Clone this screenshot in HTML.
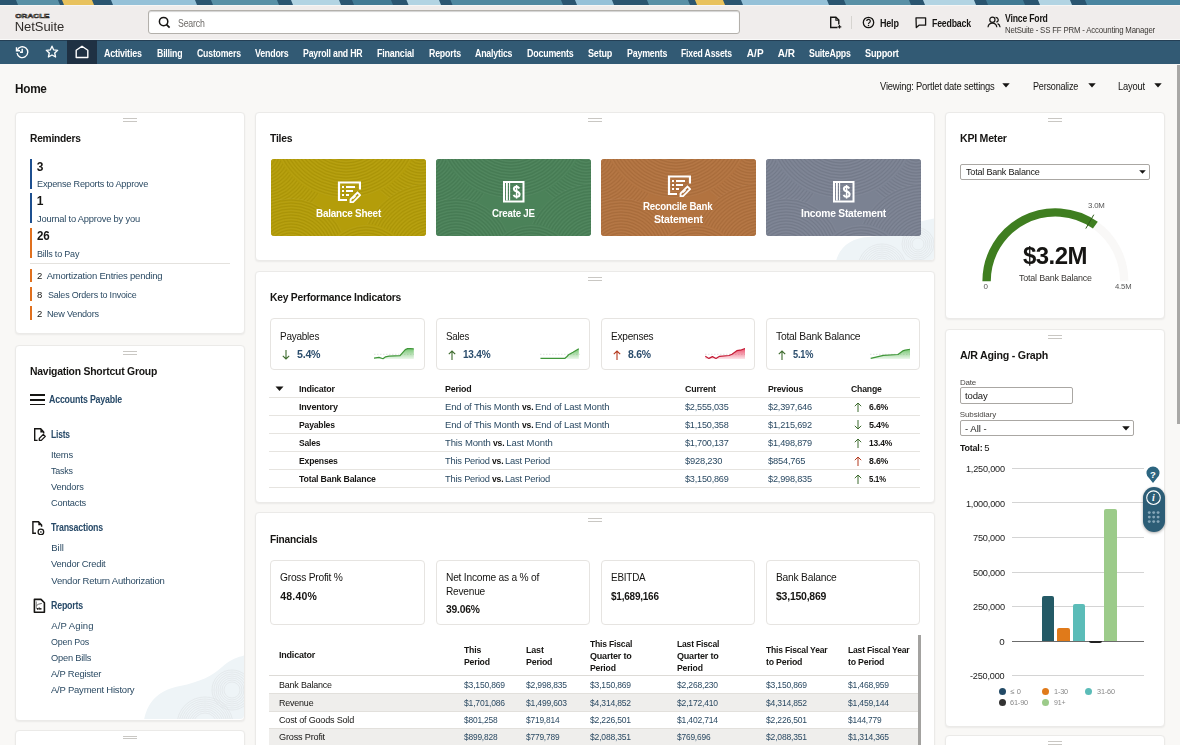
<!DOCTYPE html>
<html><head><meta charset="utf-8"><title>NetSuite Home</title>
<style>html,body{margin:0;padding:0;} body{width:1180px;height:745px;overflow:hidden;position:relative;background:#f9f8f6;font-family:"Liberation Sans",sans-serif;}</style>
</head><body>
<svg style="position:absolute;left:0;top:0" width="1180" height="5"><polygon points="-2,0 19,0 21,5 0,5" fill="#2a5570"/><polygon points="16,0 61,0 63,5 18,5" fill="#5990a6"/><polygon points="58,0 65,0 67,5 60,5" fill="#2a5570"/><polygon points="62,0 95,0 97,5 64,5" fill="#e8c25e"/><polygon points="92,0 114,0 116,5 94,5" fill="#2a5570"/><polygon points="111,0 198,0 200,5 113,5" fill="#95c1d8"/><polygon points="195,0 214,0 216,5 197,5" fill="#2a5570"/><polygon points="211,0 280,0 282,5 213,5" fill="#5990a6"/><polygon points="277,0 294,0 296,5 279,5" fill="#2a5570"/><polygon points="291,0 342,0 344,5 293,5" fill="#b2d4e3"/><polygon points="339,0 355,0 357,5 341,5" fill="#2a5570"/><polygon points="352,0 394,0 396,5 354,5" fill="#417a94"/><polygon points="391,0 409.5,0 411.5,5 393,5" fill="#2a5570"/><polygon points="406.5,0 442,0 444,5 408.5,5" fill="#b2d4e3"/><polygon points="439,0 453.5,0 455.5,5 441,5" fill="#2a5570"/><polygon points="450.5,0 564,0 566,5 452.5,5" fill="#4f88a0"/><polygon points="561,0 578,0 580,5 563,5" fill="#2a5570"/><polygon points="575,0 615,0 617,5 577,5" fill="#95c1d8"/><polygon points="612,0 650,0 652,5 614,5" fill="#2a5570"/><polygon points="647,0 691,0 693,5 649,5" fill="#5990a6"/><polygon points="688,0 698,0 700,5 690,5" fill="#2a5570"/><polygon points="695,0 726,0 728,5 697,5" fill="#e8c25e"/><polygon points="723,0 744,0 746,5 725,5" fill="#2a5570"/><polygon points="741,0 830,0 832,5 743,5" fill="#95c1d8"/><polygon points="827,0 847,0 849,5 829,5" fill="#2a5570"/><polygon points="844,0 912,0 914,5 846,5" fill="#5990a6"/><polygon points="909,0 926,0 928,5 911,5" fill="#2a5570"/><polygon points="923,0 977,0 979,5 925,5" fill="#b2d4e3"/><polygon points="974,0 989,0 991,5 976,5" fill="#2a5570"/><polygon points="986,0 1026,0 1028,5 988,5" fill="#417a94"/><polygon points="1023,0 1041,0 1043,5 1025,5" fill="#2a5570"/><polygon points="1038,0 1073,0 1075,5 1040,5" fill="#b2d4e3"/><polygon points="1070,0 1088,0 1090,5 1072,5" fill="#2a5570"/><polygon points="1085,0 1181,0 1183,5 1087,5" fill="#4a85a0"/></svg><div style="position:absolute;left:0px;top:5px;width:1180px;height:35px;background:#f0edec"></div><div style="position:absolute;left:0px;top:5px;width:1180px;height:1px;background:#f7f6f5"></div><div style="position:absolute;left:0px;top:39px;width:1180px;height:1px;background:#f9f9f8"></div><svg style="position:absolute;left:14.6px;top:12px" width="36" height="7"><text x="0.3" y="5.6" font-family="Liberation Sans" font-weight="700" font-size="5.6" textLength="34.2" lengthAdjust="spacingAndGlyphs" fill="none" stroke="#312d2a" stroke-width="0.55">ORACLE</text></svg><div style="position:absolute;left:148px;top:10px;width:592px;height:24px;background:#fff;border:1px solid #b3b0ab;box-sizing:border-box;border-radius:3px;box-shadow:inset 0 1px 1px rgba(0,0,0,0.18)"></div><svg style="position:absolute;left:158px;top:16px" width="13" height="13" viewBox="0 0 13 13"><circle cx="5.6" cy="5.6" r="4.2" fill="none" stroke="#161513" stroke-width="1.5"/><line x1="8.6" y1="8.6" x2="11.6" y2="11.6" stroke="#161513" stroke-width="1.7"/></svg><svg style="position:absolute;left:829px;top:16px" width="13" height="13" viewBox="0 0 13 13"><path d="M8.5 11.5H1.7V1.2h5.2l2.9 2.9v4.3" fill="none" stroke="#161513" stroke-width="1.4"/><path d="M6.9 1.2v3h2.9" fill="none" stroke="#161513" stroke-width="1.1"/><path d="M10.5 9v3.6M8.7 10.8h3.6" stroke="#161513" stroke-width="1.2"/></svg><div style="position:absolute;left:851px;top:16px;width:1px;height:13px;background:#d6d4d0"></div><svg style="position:absolute;left:862px;top:16px" width="13" height="13" viewBox="0 0 13 13"><circle cx="6.5" cy="6.5" r="5.2" fill="none" stroke="#161513" stroke-width="1.3"/><path d="M4.7 5.1a1.8 1.8 0 1 1 2.6 1.6c-.6.3-.8.6-.8 1.2" fill="none" stroke="#161513" stroke-width="1.2"/><circle cx="6.5" cy="9.5" r=".75" fill="#161513"/></svg><svg style="position:absolute;left:914px;top:16px" width="13" height="13" viewBox="0 0 13 13"><path d="M2 1.8h9.6v7.4H5L2.3 11.6z" fill="none" stroke="#161513" stroke-width="1.3" stroke-linejoin="round"/></svg><svg style="position:absolute;left:987px;top:15px" width="14" height="14" viewBox="0 0 14 14"><circle cx="5.4" cy="4.8" r="2.6" fill="none" stroke="#161513" stroke-width="1.2"/><path d="M1 12.2c.3-2.6 2.1-4.1 4.4-4.1s4.1 1.5 4.4 4.1" fill="none" stroke="#161513" stroke-width="1.2"/><path d="M8.6 2.3a2.5 2.5 0 0 1 .8 4.9M10.6 8.6c1.4.6 2.3 1.8 2.5 3.6" fill="none" stroke="#161513" stroke-width="1.2"/></svg><div style="position:absolute;left:0px;top:40px;width:1180px;height:24px;background:#325a74"></div><div style="position:absolute;left:0px;top:40px;width:1180px;height:1px;background:#243f55"></div><div style="position:absolute;left:67px;top:40px;width:30px;height:24px;background:#1f3143"></div><svg style="position:absolute;left:15px;top:45px" width="14" height="14" viewBox="0 0 14 14"><path d="M2.3 5.2A5.4 5.4 0 1 1 2 8" fill="none" stroke="#fff" stroke-width="1.4"/><path d="M1.5 2.2v3.5h3.5" fill="none" stroke="#fff" stroke-width="1.4"/><path d="M7.2 3.8v3.4H5" fill="none" stroke="#fff" stroke-width="1.4"/></svg><svg style="position:absolute;left:45px;top:45px" width="14" height="14" viewBox="0 0 14 14"><path d="M7 1.2l1.7 3.7 4 .4-3 2.7.9 4L7 10 3.4 12l.9-4-3-2.7 4-.4z" fill="none" stroke="#fff" stroke-width="1.3" stroke-linejoin="round"/></svg><svg style="position:absolute;left:75px;top:45px" width="14" height="14" viewBox="0 0 14 14"><path d="M1.2 12.5V5.3L7 1.2l5.8 4.1v7.2z" fill="none" stroke="#fff" stroke-width="1.4" stroke-linejoin="round"/></svg><div style="position:absolute;left:0px;top:64px;width:1180px;height:681px;background:#f9f8f6"></div><svg style="position:absolute;left:1002.4px;top:83px" width="8" height="5"><path d="M0.3 0.3h7.4L4 4.6z" fill="#161513"/></svg><svg style="position:absolute;left:1087.5px;top:83px" width="8" height="5"><path d="M0.3 0.3h7.4L4 4.6z" fill="#161513"/></svg><svg style="position:absolute;left:1153.7px;top:83px" width="8" height="5"><path d="M0.3 0.3h7.4L4 4.6z" fill="#161513"/></svg><div style="position:absolute;left:1177px;top:65px;width:3px;height:359px;background:#a9a8a6"></div><div style="position:absolute;left:15px;top:112px;width:230px;height:222px;background:#fff;border:1px solid #ebeae8;box-sizing:border-box;border-radius:4px;box-shadow:0 1px 2px rgba(0,0,0,0.06)"></div><div style="position:absolute;left:123.0px;top:118px;width:14px;height:1px;background:#c9c7c3"></div><div style="position:absolute;left:123.0px;top:120.5px;width:14px;height:1px;background:#c9c7c3"></div><div style="position:absolute;left:15px;top:345px;width:230px;height:375.5px;background:#fff;border:1px solid #ebeae8;box-sizing:border-box;border-radius:4px;box-shadow:0 1px 2px rgba(0,0,0,0.06)"></div><div style="position:absolute;left:123.0px;top:351px;width:14px;height:1px;background:#c9c7c3"></div><div style="position:absolute;left:123.0px;top:353.5px;width:14px;height:1px;background:#c9c7c3"></div><div style="position:absolute;left:15px;top:729.5px;width:230px;height:40px;background:#fff;border:1px solid #ebeae8;box-sizing:border-box;border-radius:4px;box-shadow:0 1px 2px rgba(0,0,0,0.06)"></div><div style="position:absolute;left:123.0px;top:735.5px;width:14px;height:1px;background:#c9c7c3"></div><div style="position:absolute;left:123.0px;top:738.0px;width:14px;height:1px;background:#c9c7c3"></div><div style="position:absolute;left:255px;top:112px;width:680px;height:149px;background:#fff;border:1px solid #ebeae8;box-sizing:border-box;border-radius:4px;box-shadow:0 1px 2px rgba(0,0,0,0.06)"></div><div style="position:absolute;left:588.0px;top:118px;width:14px;height:1px;background:#c9c7c3"></div><div style="position:absolute;left:588.0px;top:120.5px;width:14px;height:1px;background:#c9c7c3"></div><div style="position:absolute;left:255px;top:271px;width:680px;height:232px;background:#fff;border:1px solid #ebeae8;box-sizing:border-box;border-radius:4px;box-shadow:0 1px 2px rgba(0,0,0,0.06)"></div><div style="position:absolute;left:588.0px;top:277px;width:14px;height:1px;background:#c9c7c3"></div><div style="position:absolute;left:588.0px;top:279.5px;width:14px;height:1px;background:#c9c7c3"></div><div style="position:absolute;left:255px;top:512px;width:680px;height:260px;background:#fff;border:1px solid #ebeae8;box-sizing:border-box;border-radius:4px;box-shadow:0 1px 2px rgba(0,0,0,0.06)"></div><div style="position:absolute;left:588.0px;top:518px;width:14px;height:1px;background:#c9c7c3"></div><div style="position:absolute;left:588.0px;top:520.5px;width:14px;height:1px;background:#c9c7c3"></div><div style="position:absolute;left:945px;top:112px;width:220px;height:207px;background:#fff;border:1px solid #ebeae8;box-sizing:border-box;border-radius:4px;box-shadow:0 1px 2px rgba(0,0,0,0.06)"></div><div style="position:absolute;left:1048.0px;top:118px;width:14px;height:1px;background:#c9c7c3"></div><div style="position:absolute;left:1048.0px;top:120.5px;width:14px;height:1px;background:#c9c7c3"></div><div style="position:absolute;left:945px;top:329px;width:220px;height:398px;background:#fff;border:1px solid #ebeae8;box-sizing:border-box;border-radius:4px;box-shadow:0 1px 2px rgba(0,0,0,0.06)"></div><div style="position:absolute;left:1048.0px;top:335px;width:14px;height:1px;background:#c9c7c3"></div><div style="position:absolute;left:1048.0px;top:337.5px;width:14px;height:1px;background:#c9c7c3"></div><div style="position:absolute;left:945px;top:735px;width:220px;height:40px;background:#fff;border:1px solid #ebeae8;box-sizing:border-box;border-radius:4px;box-shadow:0 1px 2px rgba(0,0,0,0.06)"></div><div style="position:absolute;left:1048.0px;top:741px;width:14px;height:1px;background:#c9c7c3"></div><div style="position:absolute;left:1048.0px;top:743.5px;width:14px;height:1px;background:#c9c7c3"></div><svg style="position:absolute;left:0;top:0" width="1180" height="745"><defs><clipPath id="dca"><rect x="16" y="346" width="228" height="373" rx="4"/></clipPath><clipPath id="dha"><path d="M144 720 C148 700 160 690 180 686 S212 676 222 667 S240 657 246 655 V720 z"/></clipPath></defs><g clip-path="url(#dca)"><path d="M144 720 C148 700 160 690 180 686 S212 676 222 667 S240 657 246 655 V720 z" fill="#eef4f7"/><g clip-path="url(#dha)"><circle cx="205" cy="725" r="12" fill="none" stroke="#dfe4e6" stroke-width="0.7"/><circle cx="205" cy="725" r="14" fill="none" stroke="#dfe4e6" stroke-width="0.7"/><circle cx="205" cy="725" r="16" fill="none" stroke="#dfe4e6" stroke-width="0.7"/><circle cx="205" cy="725" r="18" fill="none" stroke="#dfe4e6" stroke-width="0.7"/><circle cx="205" cy="725" r="20" fill="none" stroke="#dfe4e6" stroke-width="0.7"/><circle cx="205" cy="725" r="22" fill="none" stroke="#dfe4e6" stroke-width="0.7"/><circle cx="205" cy="725" r="24" fill="none" stroke="#dfe4e6" stroke-width="0.7"/><circle cx="205" cy="725" r="26" fill="none" stroke="#dfe4e6" stroke-width="0.7"/><circle cx="205" cy="725" r="28" fill="none" stroke="#dfe4e6" stroke-width="0.7"/><circle cx="232" cy="690" r="8" fill="none" stroke="#dfe4e6" stroke-width="0.7"/><circle cx="232" cy="690" r="10" fill="none" stroke="#dfe4e6" stroke-width="0.7"/><circle cx="232" cy="690" r="12" fill="none" stroke="#dfe4e6" stroke-width="0.7"/><circle cx="232" cy="690" r="14" fill="none" stroke="#dfe4e6" stroke-width="0.7"/><circle cx="232" cy="690" r="16" fill="none" stroke="#dfe4e6" stroke-width="0.7"/><circle cx="232" cy="690" r="18" fill="none" stroke="#dfe4e6" stroke-width="0.7"/><circle cx="232" cy="690" r="20" fill="none" stroke="#dfe4e6" stroke-width="0.7"/></g></g></svg><svg style="position:absolute;left:0;top:0" width="1180" height="745"><defs><clipPath id="dcb"><rect x="256" y="113" width="678" height="147" rx="4"/></clipPath><clipPath id="dhb"><path d="M836 261 C840 246 852 238 868 237 S898 232 910 226 S930 220 936 218 V261 z"/></clipPath></defs><g clip-path="url(#dcb)"><path d="M836 261 C840 246 852 238 868 237 S898 232 910 226 S930 220 936 218 V261 z" fill="#eef4f7"/><g clip-path="url(#dhb)"><circle cx="882" cy="268" r="10" fill="none" stroke="#dfe4e6" stroke-width="0.7"/><circle cx="882" cy="268" r="12" fill="none" stroke="#dfe4e6" stroke-width="0.7"/><circle cx="882" cy="268" r="14" fill="none" stroke="#dfe4e6" stroke-width="0.7"/><circle cx="882" cy="268" r="16" fill="none" stroke="#dfe4e6" stroke-width="0.7"/><circle cx="882" cy="268" r="18" fill="none" stroke="#dfe4e6" stroke-width="0.7"/><circle cx="882" cy="268" r="20" fill="none" stroke="#dfe4e6" stroke-width="0.7"/><circle cx="882" cy="268" r="22" fill="none" stroke="#dfe4e6" stroke-width="0.7"/><circle cx="882" cy="268" r="24" fill="none" stroke="#dfe4e6" stroke-width="0.7"/><circle cx="918" cy="244" r="6" fill="none" stroke="#dfe4e6" stroke-width="0.7"/><circle cx="918" cy="244" r="8" fill="none" stroke="#dfe4e6" stroke-width="0.7"/><circle cx="918" cy="244" r="10" fill="none" stroke="#dfe4e6" stroke-width="0.7"/><circle cx="918" cy="244" r="12" fill="none" stroke="#dfe4e6" stroke-width="0.7"/><circle cx="918" cy="244" r="14" fill="none" stroke="#dfe4e6" stroke-width="0.7"/><circle cx="918" cy="244" r="16" fill="none" stroke="#dfe4e6" stroke-width="0.7"/></g></g></svg><div style="position:absolute;left:30px;top:159px;width:2.2px;height:30px;background:#1d4f8f"></div><div style="position:absolute;left:30px;top:193px;width:2.2px;height:30px;background:#1d4f8f"></div><div style="position:absolute;left:30px;top:228px;width:2.2px;height:30px;background:#e0701e"></div><div style="position:absolute;left:30px;top:263px;width:200px;height:1px;background:#e4e2de"></div><div style="position:absolute;left:30px;top:268.5px;width:2.2px;height:13.5px;background:#e0701e"></div><div style="position:absolute;left:30px;top:287px;width:2.2px;height:13.5px;background:#e0701e"></div><div style="position:absolute;left:30px;top:306px;width:2.2px;height:13.5px;background:#e0701e"></div><div style="position:absolute;left:30px;top:394.3px;width:15px;height:1.6px;background:#161513"></div><div style="position:absolute;left:30px;top:399px;width:15px;height:1.6px;background:#161513"></div><div style="position:absolute;left:30px;top:403.5px;width:15px;height:1.6px;background:#161513"></div><svg style="position:absolute;left:33px;top:427px" width="14" height="15" viewBox="0 0 14 15"><path d="M4.6 13.4H1.7V1.8h6l3 3.3v1.4" fill="none" stroke="#161513" stroke-width="1.4"/><path d="M7.4 1.8v3.6h3.3z" fill="#161513"/><path d="M6.3 13.4v-2l4-4 2 2-4 4z" fill="none" stroke="#161513" stroke-width="1.3" stroke-linejoin="round"/></svg><svg style="position:absolute;left:31px;top:520px" width="14" height="15" viewBox="0 0 14 15"><path d="M5 13.3H1.9V1.8h5.6l3.1 3.2v1.8" fill="none" stroke="#161513" stroke-width="1.4"/><path d="M7.3 1.8v3.5h3.3z" fill="#161513"/><circle cx="9.9" cy="11.9" r="2.8" fill="#fff" stroke="#161513" stroke-width="1.3"/><circle cx="9.9" cy="11.9" r="0.9" fill="#555"/></svg><svg style="position:absolute;left:33px;top:598px" width="14" height="16" viewBox="0 0 14 16"><path d="M1.4 1.4h6.6l3.4 3.4v9.5H1.4z" fill="none" stroke="#161513" stroke-width="1.6" stroke-linejoin="round"/><path d="M3.3 3.4v7.2h5" fill="none" stroke="#777" stroke-width="0.9"/><path d="M3.6 7.5l2-1.3 3.2-0.8" fill="none" stroke="#555" stroke-width="0.9"/><path d="M4.6 11.8V10M6.2 11.8V9.4M7.8 11.8V9.9" stroke="#161513" stroke-width="1.1"/></svg><div style="position:absolute;left:271px;top:159px;width:155px;height:77px;background:#b49d0a;border-radius:3px"></div><svg style="position:absolute;left:271px;top:159px;border-radius:3px" width="155" height="77"><defs><clipPath id="tc271"><rect width="155" height="77" rx="3"/></clipPath></defs><g clip-path="url(#tc271)"><circle cx="-10" cy="-5" r="70" fill="#b49d0a"/><circle cx="-10" cy="-5" r="3" fill="none" stroke="rgba(0,0,0,0.07)" stroke-width="0.9"/><circle cx="-10" cy="-5" r="4.5" fill="none" stroke="rgba(255,255,255,0.05)" stroke-width="0.9"/><circle cx="-10" cy="-5" r="6" fill="none" stroke="rgba(0,0,0,0.07)" stroke-width="0.9"/><circle cx="-10" cy="-5" r="7.5" fill="none" stroke="rgba(255,255,255,0.05)" stroke-width="0.9"/><circle cx="-10" cy="-5" r="9" fill="none" stroke="rgba(0,0,0,0.07)" stroke-width="0.9"/><circle cx="-10" cy="-5" r="10.5" fill="none" stroke="rgba(255,255,255,0.05)" stroke-width="0.9"/><circle cx="-10" cy="-5" r="12" fill="none" stroke="rgba(0,0,0,0.07)" stroke-width="0.9"/><circle cx="-10" cy="-5" r="13.5" fill="none" stroke="rgba(255,255,255,0.05)" stroke-width="0.9"/><circle cx="-10" cy="-5" r="15" fill="none" stroke="rgba(0,0,0,0.07)" stroke-width="0.9"/><circle cx="-10" cy="-5" r="16.5" fill="none" stroke="rgba(255,255,255,0.05)" stroke-width="0.9"/><circle cx="-10" cy="-5" r="18" fill="none" stroke="rgba(0,0,0,0.07)" stroke-width="0.9"/><circle cx="-10" cy="-5" r="19.5" fill="none" stroke="rgba(255,255,255,0.05)" stroke-width="0.9"/><circle cx="-10" cy="-5" r="21" fill="none" stroke="rgba(0,0,0,0.07)" stroke-width="0.9"/><circle cx="-10" cy="-5" r="22.5" fill="none" stroke="rgba(255,255,255,0.05)" stroke-width="0.9"/><circle cx="-10" cy="-5" r="24" fill="none" stroke="rgba(0,0,0,0.07)" stroke-width="0.9"/><circle cx="-10" cy="-5" r="25.5" fill="none" stroke="rgba(255,255,255,0.05)" stroke-width="0.9"/><circle cx="-10" cy="-5" r="27" fill="none" stroke="rgba(0,0,0,0.07)" stroke-width="0.9"/><circle cx="-10" cy="-5" r="28.5" fill="none" stroke="rgba(255,255,255,0.05)" stroke-width="0.9"/><circle cx="-10" cy="-5" r="30" fill="none" stroke="rgba(0,0,0,0.07)" stroke-width="0.9"/><circle cx="-10" cy="-5" r="31.5" fill="none" stroke="rgba(255,255,255,0.05)" stroke-width="0.9"/><circle cx="-10" cy="-5" r="33" fill="none" stroke="rgba(0,0,0,0.07)" stroke-width="0.9"/><circle cx="-10" cy="-5" r="34.5" fill="none" stroke="rgba(255,255,255,0.05)" stroke-width="0.9"/><circle cx="-10" cy="-5" r="36" fill="none" stroke="rgba(0,0,0,0.07)" stroke-width="0.9"/><circle cx="-10" cy="-5" r="37.5" fill="none" stroke="rgba(255,255,255,0.05)" stroke-width="0.9"/><circle cx="-10" cy="-5" r="39" fill="none" stroke="rgba(0,0,0,0.07)" stroke-width="0.9"/><circle cx="-10" cy="-5" r="40.5" fill="none" stroke="rgba(255,255,255,0.05)" stroke-width="0.9"/><circle cx="-10" cy="-5" r="42" fill="none" stroke="rgba(0,0,0,0.07)" stroke-width="0.9"/><circle cx="-10" cy="-5" r="43.5" fill="none" stroke="rgba(255,255,255,0.05)" stroke-width="0.9"/><circle cx="-10" cy="-5" r="45" fill="none" stroke="rgba(0,0,0,0.07)" stroke-width="0.9"/><circle cx="-10" cy="-5" r="46.5" fill="none" stroke="rgba(255,255,255,0.05)" stroke-width="0.9"/><circle cx="-10" cy="-5" r="48" fill="none" stroke="rgba(0,0,0,0.07)" stroke-width="0.9"/><circle cx="-10" cy="-5" r="49.5" fill="none" stroke="rgba(255,255,255,0.05)" stroke-width="0.9"/><circle cx="-10" cy="-5" r="51" fill="none" stroke="rgba(0,0,0,0.07)" stroke-width="0.9"/><circle cx="-10" cy="-5" r="52.5" fill="none" stroke="rgba(255,255,255,0.05)" stroke-width="0.9"/><circle cx="-10" cy="-5" r="54" fill="none" stroke="rgba(0,0,0,0.07)" stroke-width="0.9"/><circle cx="-10" cy="-5" r="55.5" fill="none" stroke="rgba(255,255,255,0.05)" stroke-width="0.9"/><circle cx="-10" cy="-5" r="57" fill="none" stroke="rgba(0,0,0,0.07)" stroke-width="0.9"/><circle cx="-10" cy="-5" r="58.5" fill="none" stroke="rgba(255,255,255,0.05)" stroke-width="0.9"/><circle cx="-10" cy="-5" r="60" fill="none" stroke="rgba(0,0,0,0.07)" stroke-width="0.9"/><circle cx="-10" cy="-5" r="61.5" fill="none" stroke="rgba(255,255,255,0.05)" stroke-width="0.9"/><circle cx="-10" cy="-5" r="63" fill="none" stroke="rgba(0,0,0,0.07)" stroke-width="0.9"/><circle cx="-10" cy="-5" r="64.5" fill="none" stroke="rgba(255,255,255,0.05)" stroke-width="0.9"/><circle cx="-10" cy="-5" r="66" fill="none" stroke="rgba(0,0,0,0.07)" stroke-width="0.9"/><circle cx="-10" cy="-5" r="67.5" fill="none" stroke="rgba(255,255,255,0.05)" stroke-width="0.9"/><circle cx="-10" cy="-5" r="69" fill="none" stroke="rgba(0,0,0,0.07)" stroke-width="0.9"/><circle cx="-10" cy="-5" r="70.5" fill="none" stroke="rgba(255,255,255,0.05)" stroke-width="0.9"/><circle cx="150" cy="-10" r="60" fill="#b49d0a"/><circle cx="150" cy="-10" r="3" fill="none" stroke="rgba(0,0,0,0.07)" stroke-width="0.9"/><circle cx="150" cy="-10" r="4.5" fill="none" stroke="rgba(255,255,255,0.05)" stroke-width="0.9"/><circle cx="150" cy="-10" r="6" fill="none" stroke="rgba(0,0,0,0.07)" stroke-width="0.9"/><circle cx="150" cy="-10" r="7.5" fill="none" stroke="rgba(255,255,255,0.05)" stroke-width="0.9"/><circle cx="150" cy="-10" r="9" fill="none" stroke="rgba(0,0,0,0.07)" stroke-width="0.9"/><circle cx="150" cy="-10" r="10.5" fill="none" stroke="rgba(255,255,255,0.05)" stroke-width="0.9"/><circle cx="150" cy="-10" r="12" fill="none" stroke="rgba(0,0,0,0.07)" stroke-width="0.9"/><circle cx="150" cy="-10" r="13.5" fill="none" stroke="rgba(255,255,255,0.05)" stroke-width="0.9"/><circle cx="150" cy="-10" r="15" fill="none" stroke="rgba(0,0,0,0.07)" stroke-width="0.9"/><circle cx="150" cy="-10" r="16.5" fill="none" stroke="rgba(255,255,255,0.05)" stroke-width="0.9"/><circle cx="150" cy="-10" r="18" fill="none" stroke="rgba(0,0,0,0.07)" stroke-width="0.9"/><circle cx="150" cy="-10" r="19.5" fill="none" stroke="rgba(255,255,255,0.05)" stroke-width="0.9"/><circle cx="150" cy="-10" r="21" fill="none" stroke="rgba(0,0,0,0.07)" stroke-width="0.9"/><circle cx="150" cy="-10" r="22.5" fill="none" stroke="rgba(255,255,255,0.05)" stroke-width="0.9"/><circle cx="150" cy="-10" r="24" fill="none" stroke="rgba(0,0,0,0.07)" stroke-width="0.9"/><circle cx="150" cy="-10" r="25.5" fill="none" stroke="rgba(255,255,255,0.05)" stroke-width="0.9"/><circle cx="150" cy="-10" r="27" fill="none" stroke="rgba(0,0,0,0.07)" stroke-width="0.9"/><circle cx="150" cy="-10" r="28.5" fill="none" stroke="rgba(255,255,255,0.05)" stroke-width="0.9"/><circle cx="150" cy="-10" r="30" fill="none" stroke="rgba(0,0,0,0.07)" stroke-width="0.9"/><circle cx="150" cy="-10" r="31.5" fill="none" stroke="rgba(255,255,255,0.05)" stroke-width="0.9"/><circle cx="150" cy="-10" r="33" fill="none" stroke="rgba(0,0,0,0.07)" stroke-width="0.9"/><circle cx="150" cy="-10" r="34.5" fill="none" stroke="rgba(255,255,255,0.05)" stroke-width="0.9"/><circle cx="150" cy="-10" r="36" fill="none" stroke="rgba(0,0,0,0.07)" stroke-width="0.9"/><circle cx="150" cy="-10" r="37.5" fill="none" stroke="rgba(255,255,255,0.05)" stroke-width="0.9"/><circle cx="150" cy="-10" r="39" fill="none" stroke="rgba(0,0,0,0.07)" stroke-width="0.9"/><circle cx="150" cy="-10" r="40.5" fill="none" stroke="rgba(255,255,255,0.05)" stroke-width="0.9"/><circle cx="150" cy="-10" r="42" fill="none" stroke="rgba(0,0,0,0.07)" stroke-width="0.9"/><circle cx="150" cy="-10" r="43.5" fill="none" stroke="rgba(255,255,255,0.05)" stroke-width="0.9"/><circle cx="150" cy="-10" r="45" fill="none" stroke="rgba(0,0,0,0.07)" stroke-width="0.9"/><circle cx="150" cy="-10" r="46.5" fill="none" stroke="rgba(255,255,255,0.05)" stroke-width="0.9"/><circle cx="150" cy="-10" r="48" fill="none" stroke="rgba(0,0,0,0.07)" stroke-width="0.9"/><circle cx="150" cy="-10" r="49.5" fill="none" stroke="rgba(255,255,255,0.05)" stroke-width="0.9"/><circle cx="150" cy="-10" r="51" fill="none" stroke="rgba(0,0,0,0.07)" stroke-width="0.9"/><circle cx="150" cy="-10" r="52.5" fill="none" stroke="rgba(255,255,255,0.05)" stroke-width="0.9"/><circle cx="150" cy="-10" r="54" fill="none" stroke="rgba(0,0,0,0.07)" stroke-width="0.9"/><circle cx="150" cy="-10" r="55.5" fill="none" stroke="rgba(255,255,255,0.05)" stroke-width="0.9"/><circle cx="150" cy="-10" r="57" fill="none" stroke="rgba(0,0,0,0.07)" stroke-width="0.9"/><circle cx="150" cy="-10" r="58.5" fill="none" stroke="rgba(255,255,255,0.05)" stroke-width="0.9"/><circle cx="75" cy="-35" r="75" fill="#b49d0a"/><circle cx="75" cy="-35" r="3" fill="none" stroke="rgba(0,0,0,0.07)" stroke-width="0.9"/><circle cx="75" cy="-35" r="4.5" fill="none" stroke="rgba(255,255,255,0.05)" stroke-width="0.9"/><circle cx="75" cy="-35" r="6" fill="none" stroke="rgba(0,0,0,0.07)" stroke-width="0.9"/><circle cx="75" cy="-35" r="7.5" fill="none" stroke="rgba(255,255,255,0.05)" stroke-width="0.9"/><circle cx="75" cy="-35" r="9" fill="none" stroke="rgba(0,0,0,0.07)" stroke-width="0.9"/><circle cx="75" cy="-35" r="10.5" fill="none" stroke="rgba(255,255,255,0.05)" stroke-width="0.9"/><circle cx="75" cy="-35" r="12" fill="none" stroke="rgba(0,0,0,0.07)" stroke-width="0.9"/><circle cx="75" cy="-35" r="13.5" fill="none" stroke="rgba(255,255,255,0.05)" stroke-width="0.9"/><circle cx="75" cy="-35" r="15" fill="none" stroke="rgba(0,0,0,0.07)" stroke-width="0.9"/><circle cx="75" cy="-35" r="16.5" fill="none" stroke="rgba(255,255,255,0.05)" stroke-width="0.9"/><circle cx="75" cy="-35" r="18" fill="none" stroke="rgba(0,0,0,0.07)" stroke-width="0.9"/><circle cx="75" cy="-35" r="19.5" fill="none" stroke="rgba(255,255,255,0.05)" stroke-width="0.9"/><circle cx="75" cy="-35" r="21" fill="none" stroke="rgba(0,0,0,0.07)" stroke-width="0.9"/><circle cx="75" cy="-35" r="22.5" fill="none" stroke="rgba(255,255,255,0.05)" stroke-width="0.9"/><circle cx="75" cy="-35" r="24" fill="none" stroke="rgba(0,0,0,0.07)" stroke-width="0.9"/><circle cx="75" cy="-35" r="25.5" fill="none" stroke="rgba(255,255,255,0.05)" stroke-width="0.9"/><circle cx="75" cy="-35" r="27" fill="none" stroke="rgba(0,0,0,0.07)" stroke-width="0.9"/><circle cx="75" cy="-35" r="28.5" fill="none" stroke="rgba(255,255,255,0.05)" stroke-width="0.9"/><circle cx="75" cy="-35" r="30" fill="none" stroke="rgba(0,0,0,0.07)" stroke-width="0.9"/><circle cx="75" cy="-35" r="31.5" fill="none" stroke="rgba(255,255,255,0.05)" stroke-width="0.9"/><circle cx="75" cy="-35" r="33" fill="none" stroke="rgba(0,0,0,0.07)" stroke-width="0.9"/><circle cx="75" cy="-35" r="34.5" fill="none" stroke="rgba(255,255,255,0.05)" stroke-width="0.9"/><circle cx="75" cy="-35" r="36" fill="none" stroke="rgba(0,0,0,0.07)" stroke-width="0.9"/><circle cx="75" cy="-35" r="37.5" fill="none" stroke="rgba(255,255,255,0.05)" stroke-width="0.9"/><circle cx="75" cy="-35" r="39" fill="none" stroke="rgba(0,0,0,0.07)" stroke-width="0.9"/><circle cx="75" cy="-35" r="40.5" fill="none" stroke="rgba(255,255,255,0.05)" stroke-width="0.9"/><circle cx="75" cy="-35" r="42" fill="none" stroke="rgba(0,0,0,0.07)" stroke-width="0.9"/><circle cx="75" cy="-35" r="43.5" fill="none" stroke="rgba(255,255,255,0.05)" stroke-width="0.9"/><circle cx="75" cy="-35" r="45" fill="none" stroke="rgba(0,0,0,0.07)" stroke-width="0.9"/><circle cx="75" cy="-35" r="46.5" fill="none" stroke="rgba(255,255,255,0.05)" stroke-width="0.9"/><circle cx="75" cy="-35" r="48" fill="none" stroke="rgba(0,0,0,0.07)" stroke-width="0.9"/><circle cx="75" cy="-35" r="49.5" fill="none" stroke="rgba(255,255,255,0.05)" stroke-width="0.9"/><circle cx="75" cy="-35" r="51" fill="none" stroke="rgba(0,0,0,0.07)" stroke-width="0.9"/><circle cx="75" cy="-35" r="52.5" fill="none" stroke="rgba(255,255,255,0.05)" stroke-width="0.9"/><circle cx="75" cy="-35" r="54" fill="none" stroke="rgba(0,0,0,0.07)" stroke-width="0.9"/><circle cx="75" cy="-35" r="55.5" fill="none" stroke="rgba(255,255,255,0.05)" stroke-width="0.9"/><circle cx="75" cy="-35" r="57" fill="none" stroke="rgba(0,0,0,0.07)" stroke-width="0.9"/><circle cx="75" cy="-35" r="58.5" fill="none" stroke="rgba(255,255,255,0.05)" stroke-width="0.9"/><circle cx="75" cy="-35" r="60" fill="none" stroke="rgba(0,0,0,0.07)" stroke-width="0.9"/><circle cx="75" cy="-35" r="61.5" fill="none" stroke="rgba(255,255,255,0.05)" stroke-width="0.9"/><circle cx="75" cy="-35" r="63" fill="none" stroke="rgba(0,0,0,0.07)" stroke-width="0.9"/><circle cx="75" cy="-35" r="64.5" fill="none" stroke="rgba(255,255,255,0.05)" stroke-width="0.9"/><circle cx="75" cy="-35" r="66" fill="none" stroke="rgba(0,0,0,0.07)" stroke-width="0.9"/><circle cx="75" cy="-35" r="67.5" fill="none" stroke="rgba(255,255,255,0.05)" stroke-width="0.9"/><circle cx="75" cy="-35" r="69" fill="none" stroke="rgba(0,0,0,0.07)" stroke-width="0.9"/><circle cx="75" cy="-35" r="70.5" fill="none" stroke="rgba(255,255,255,0.05)" stroke-width="0.9"/><circle cx="75" cy="-35" r="72" fill="none" stroke="rgba(0,0,0,0.07)" stroke-width="0.9"/><circle cx="75" cy="-35" r="73.5" fill="none" stroke="rgba(255,255,255,0.05)" stroke-width="0.9"/><circle cx="20" cy="95" r="55" fill="#b49d0a"/><circle cx="20" cy="95" r="3" fill="none" stroke="rgba(0,0,0,0.07)" stroke-width="0.9"/><circle cx="20" cy="95" r="4.5" fill="none" stroke="rgba(255,255,255,0.05)" stroke-width="0.9"/><circle cx="20" cy="95" r="6" fill="none" stroke="rgba(0,0,0,0.07)" stroke-width="0.9"/><circle cx="20" cy="95" r="7.5" fill="none" stroke="rgba(255,255,255,0.05)" stroke-width="0.9"/><circle cx="20" cy="95" r="9" fill="none" stroke="rgba(0,0,0,0.07)" stroke-width="0.9"/><circle cx="20" cy="95" r="10.5" fill="none" stroke="rgba(255,255,255,0.05)" stroke-width="0.9"/><circle cx="20" cy="95" r="12" fill="none" stroke="rgba(0,0,0,0.07)" stroke-width="0.9"/><circle cx="20" cy="95" r="13.5" fill="none" stroke="rgba(255,255,255,0.05)" stroke-width="0.9"/><circle cx="20" cy="95" r="15" fill="none" stroke="rgba(0,0,0,0.07)" stroke-width="0.9"/><circle cx="20" cy="95" r="16.5" fill="none" stroke="rgba(255,255,255,0.05)" stroke-width="0.9"/><circle cx="20" cy="95" r="18" fill="none" stroke="rgba(0,0,0,0.07)" stroke-width="0.9"/><circle cx="20" cy="95" r="19.5" fill="none" stroke="rgba(255,255,255,0.05)" stroke-width="0.9"/><circle cx="20" cy="95" r="21" fill="none" stroke="rgba(0,0,0,0.07)" stroke-width="0.9"/><circle cx="20" cy="95" r="22.5" fill="none" stroke="rgba(255,255,255,0.05)" stroke-width="0.9"/><circle cx="20" cy="95" r="24" fill="none" stroke="rgba(0,0,0,0.07)" stroke-width="0.9"/><circle cx="20" cy="95" r="25.5" fill="none" stroke="rgba(255,255,255,0.05)" stroke-width="0.9"/><circle cx="20" cy="95" r="27" fill="none" stroke="rgba(0,0,0,0.07)" stroke-width="0.9"/><circle cx="20" cy="95" r="28.5" fill="none" stroke="rgba(255,255,255,0.05)" stroke-width="0.9"/><circle cx="20" cy="95" r="30" fill="none" stroke="rgba(0,0,0,0.07)" stroke-width="0.9"/><circle cx="20" cy="95" r="31.5" fill="none" stroke="rgba(255,255,255,0.05)" stroke-width="0.9"/><circle cx="20" cy="95" r="33" fill="none" stroke="rgba(0,0,0,0.07)" stroke-width="0.9"/><circle cx="20" cy="95" r="34.5" fill="none" stroke="rgba(255,255,255,0.05)" stroke-width="0.9"/><circle cx="20" cy="95" r="36" fill="none" stroke="rgba(0,0,0,0.07)" stroke-width="0.9"/><circle cx="20" cy="95" r="37.5" fill="none" stroke="rgba(255,255,255,0.05)" stroke-width="0.9"/><circle cx="20" cy="95" r="39" fill="none" stroke="rgba(0,0,0,0.07)" stroke-width="0.9"/><circle cx="20" cy="95" r="40.5" fill="none" stroke="rgba(255,255,255,0.05)" stroke-width="0.9"/><circle cx="20" cy="95" r="42" fill="none" stroke="rgba(0,0,0,0.07)" stroke-width="0.9"/><circle cx="20" cy="95" r="43.5" fill="none" stroke="rgba(255,255,255,0.05)" stroke-width="0.9"/><circle cx="20" cy="95" r="45" fill="none" stroke="rgba(0,0,0,0.07)" stroke-width="0.9"/><circle cx="20" cy="95" r="46.5" fill="none" stroke="rgba(255,255,255,0.05)" stroke-width="0.9"/><circle cx="20" cy="95" r="48" fill="none" stroke="rgba(0,0,0,0.07)" stroke-width="0.9"/><circle cx="20" cy="95" r="49.5" fill="none" stroke="rgba(255,255,255,0.05)" stroke-width="0.9"/><circle cx="20" cy="95" r="51" fill="none" stroke="rgba(0,0,0,0.07)" stroke-width="0.9"/><circle cx="20" cy="95" r="52.5" fill="none" stroke="rgba(255,255,255,0.05)" stroke-width="0.9"/><circle cx="20" cy="95" r="54" fill="none" stroke="rgba(0,0,0,0.07)" stroke-width="0.9"/><circle cx="20" cy="95" r="55.5" fill="none" stroke="rgba(255,255,255,0.05)" stroke-width="0.9"/><circle cx="160" cy="95" r="70" fill="#b49d0a"/><circle cx="160" cy="95" r="3" fill="none" stroke="rgba(0,0,0,0.07)" stroke-width="0.9"/><circle cx="160" cy="95" r="4.5" fill="none" stroke="rgba(255,255,255,0.05)" stroke-width="0.9"/><circle cx="160" cy="95" r="6" fill="none" stroke="rgba(0,0,0,0.07)" stroke-width="0.9"/><circle cx="160" cy="95" r="7.5" fill="none" stroke="rgba(255,255,255,0.05)" stroke-width="0.9"/><circle cx="160" cy="95" r="9" fill="none" stroke="rgba(0,0,0,0.07)" stroke-width="0.9"/><circle cx="160" cy="95" r="10.5" fill="none" stroke="rgba(255,255,255,0.05)" stroke-width="0.9"/><circle cx="160" cy="95" r="12" fill="none" stroke="rgba(0,0,0,0.07)" stroke-width="0.9"/><circle cx="160" cy="95" r="13.5" fill="none" stroke="rgba(255,255,255,0.05)" stroke-width="0.9"/><circle cx="160" cy="95" r="15" fill="none" stroke="rgba(0,0,0,0.07)" stroke-width="0.9"/><circle cx="160" cy="95" r="16.5" fill="none" stroke="rgba(255,255,255,0.05)" stroke-width="0.9"/><circle cx="160" cy="95" r="18" fill="none" stroke="rgba(0,0,0,0.07)" stroke-width="0.9"/><circle cx="160" cy="95" r="19.5" fill="none" stroke="rgba(255,255,255,0.05)" stroke-width="0.9"/><circle cx="160" cy="95" r="21" fill="none" stroke="rgba(0,0,0,0.07)" stroke-width="0.9"/><circle cx="160" cy="95" r="22.5" fill="none" stroke="rgba(255,255,255,0.05)" stroke-width="0.9"/><circle cx="160" cy="95" r="24" fill="none" stroke="rgba(0,0,0,0.07)" stroke-width="0.9"/><circle cx="160" cy="95" r="25.5" fill="none" stroke="rgba(255,255,255,0.05)" stroke-width="0.9"/><circle cx="160" cy="95" r="27" fill="none" stroke="rgba(0,0,0,0.07)" stroke-width="0.9"/><circle cx="160" cy="95" r="28.5" fill="none" stroke="rgba(255,255,255,0.05)" stroke-width="0.9"/><circle cx="160" cy="95" r="30" fill="none" stroke="rgba(0,0,0,0.07)" stroke-width="0.9"/><circle cx="160" cy="95" r="31.5" fill="none" stroke="rgba(255,255,255,0.05)" stroke-width="0.9"/><circle cx="160" cy="95" r="33" fill="none" stroke="rgba(0,0,0,0.07)" stroke-width="0.9"/><circle cx="160" cy="95" r="34.5" fill="none" stroke="rgba(255,255,255,0.05)" stroke-width="0.9"/><circle cx="160" cy="95" r="36" fill="none" stroke="rgba(0,0,0,0.07)" stroke-width="0.9"/><circle cx="160" cy="95" r="37.5" fill="none" stroke="rgba(255,255,255,0.05)" stroke-width="0.9"/><circle cx="160" cy="95" r="39" fill="none" stroke="rgba(0,0,0,0.07)" stroke-width="0.9"/><circle cx="160" cy="95" r="40.5" fill="none" stroke="rgba(255,255,255,0.05)" stroke-width="0.9"/><circle cx="160" cy="95" r="42" fill="none" stroke="rgba(0,0,0,0.07)" stroke-width="0.9"/><circle cx="160" cy="95" r="43.5" fill="none" stroke="rgba(255,255,255,0.05)" stroke-width="0.9"/><circle cx="160" cy="95" r="45" fill="none" stroke="rgba(0,0,0,0.07)" stroke-width="0.9"/><circle cx="160" cy="95" r="46.5" fill="none" stroke="rgba(255,255,255,0.05)" stroke-width="0.9"/><circle cx="160" cy="95" r="48" fill="none" stroke="rgba(0,0,0,0.07)" stroke-width="0.9"/><circle cx="160" cy="95" r="49.5" fill="none" stroke="rgba(255,255,255,0.05)" stroke-width="0.9"/><circle cx="160" cy="95" r="51" fill="none" stroke="rgba(0,0,0,0.07)" stroke-width="0.9"/><circle cx="160" cy="95" r="52.5" fill="none" stroke="rgba(255,255,255,0.05)" stroke-width="0.9"/><circle cx="160" cy="95" r="54" fill="none" stroke="rgba(0,0,0,0.07)" stroke-width="0.9"/><circle cx="160" cy="95" r="55.5" fill="none" stroke="rgba(255,255,255,0.05)" stroke-width="0.9"/><circle cx="160" cy="95" r="57" fill="none" stroke="rgba(0,0,0,0.07)" stroke-width="0.9"/><circle cx="160" cy="95" r="58.5" fill="none" stroke="rgba(255,255,255,0.05)" stroke-width="0.9"/><circle cx="160" cy="95" r="60" fill="none" stroke="rgba(0,0,0,0.07)" stroke-width="0.9"/><circle cx="160" cy="95" r="61.5" fill="none" stroke="rgba(255,255,255,0.05)" stroke-width="0.9"/><circle cx="160" cy="95" r="63" fill="none" stroke="rgba(0,0,0,0.07)" stroke-width="0.9"/><circle cx="160" cy="95" r="64.5" fill="none" stroke="rgba(255,255,255,0.05)" stroke-width="0.9"/><circle cx="160" cy="95" r="66" fill="none" stroke="rgba(0,0,0,0.07)" stroke-width="0.9"/><circle cx="160" cy="95" r="67.5" fill="none" stroke="rgba(255,255,255,0.05)" stroke-width="0.9"/><circle cx="160" cy="95" r="69" fill="none" stroke="rgba(0,0,0,0.07)" stroke-width="0.9"/><circle cx="160" cy="95" r="70.5" fill="none" stroke="rgba(255,255,255,0.05)" stroke-width="0.9"/><circle cx="95" cy="110" r="45" fill="#b49d0a"/><circle cx="95" cy="110" r="3" fill="none" stroke="rgba(0,0,0,0.07)" stroke-width="0.9"/><circle cx="95" cy="110" r="4.5" fill="none" stroke="rgba(255,255,255,0.05)" stroke-width="0.9"/><circle cx="95" cy="110" r="6" fill="none" stroke="rgba(0,0,0,0.07)" stroke-width="0.9"/><circle cx="95" cy="110" r="7.5" fill="none" stroke="rgba(255,255,255,0.05)" stroke-width="0.9"/><circle cx="95" cy="110" r="9" fill="none" stroke="rgba(0,0,0,0.07)" stroke-width="0.9"/><circle cx="95" cy="110" r="10.5" fill="none" stroke="rgba(255,255,255,0.05)" stroke-width="0.9"/><circle cx="95" cy="110" r="12" fill="none" stroke="rgba(0,0,0,0.07)" stroke-width="0.9"/><circle cx="95" cy="110" r="13.5" fill="none" stroke="rgba(255,255,255,0.05)" stroke-width="0.9"/><circle cx="95" cy="110" r="15" fill="none" stroke="rgba(0,0,0,0.07)" stroke-width="0.9"/><circle cx="95" cy="110" r="16.5" fill="none" stroke="rgba(255,255,255,0.05)" stroke-width="0.9"/><circle cx="95" cy="110" r="18" fill="none" stroke="rgba(0,0,0,0.07)" stroke-width="0.9"/><circle cx="95" cy="110" r="19.5" fill="none" stroke="rgba(255,255,255,0.05)" stroke-width="0.9"/><circle cx="95" cy="110" r="21" fill="none" stroke="rgba(0,0,0,0.07)" stroke-width="0.9"/><circle cx="95" cy="110" r="22.5" fill="none" stroke="rgba(255,255,255,0.05)" stroke-width="0.9"/><circle cx="95" cy="110" r="24" fill="none" stroke="rgba(0,0,0,0.07)" stroke-width="0.9"/><circle cx="95" cy="110" r="25.5" fill="none" stroke="rgba(255,255,255,0.05)" stroke-width="0.9"/><circle cx="95" cy="110" r="27" fill="none" stroke="rgba(0,0,0,0.07)" stroke-width="0.9"/><circle cx="95" cy="110" r="28.5" fill="none" stroke="rgba(255,255,255,0.05)" stroke-width="0.9"/><circle cx="95" cy="110" r="30" fill="none" stroke="rgba(0,0,0,0.07)" stroke-width="0.9"/><circle cx="95" cy="110" r="31.5" fill="none" stroke="rgba(255,255,255,0.05)" stroke-width="0.9"/><circle cx="95" cy="110" r="33" fill="none" stroke="rgba(0,0,0,0.07)" stroke-width="0.9"/><circle cx="95" cy="110" r="34.5" fill="none" stroke="rgba(255,255,255,0.05)" stroke-width="0.9"/><circle cx="95" cy="110" r="36" fill="none" stroke="rgba(0,0,0,0.07)" stroke-width="0.9"/><circle cx="95" cy="110" r="37.5" fill="none" stroke="rgba(255,255,255,0.05)" stroke-width="0.9"/><circle cx="95" cy="110" r="39" fill="none" stroke="rgba(0,0,0,0.07)" stroke-width="0.9"/><circle cx="95" cy="110" r="40.5" fill="none" stroke="rgba(255,255,255,0.05)" stroke-width="0.9"/><circle cx="95" cy="110" r="42" fill="none" stroke="rgba(0,0,0,0.07)" stroke-width="0.9"/><circle cx="95" cy="110" r="43.5" fill="none" stroke="rgba(255,255,255,0.05)" stroke-width="0.9"/></g></svg><svg style="position:absolute;left:336.5px;top:181px" width="24" height="22" viewBox="0 0 24 22"><path d="M10 19H2V1.5h21v7" fill="none" stroke="#fff" stroke-width="2.2"/><path d="M5 6h2M9 6h9M5 10h2M9 10h7M5 14h2M9 14h3" stroke="#fff" stroke-width="1.8"/><path d="M13.5 18.5l7-7 2.6 2.6-7 7h-2.6z" fill="none" stroke="#fff" stroke-width="1.8"/><path d="M16 17.5l2.5-2.5" stroke="#fff" stroke-width="1.2"/></svg><div style="position:absolute;left:436px;top:159px;width:155px;height:77px;background:#4b8259;border-radius:3px"></div><svg style="position:absolute;left:436px;top:159px;border-radius:3px" width="155" height="77"><defs><clipPath id="tc436"><rect width="155" height="77" rx="3"/></clipPath></defs><g clip-path="url(#tc436)"><circle cx="-10" cy="-5" r="70" fill="#4b8259"/><circle cx="-10" cy="-5" r="3" fill="none" stroke="rgba(0,0,0,0.07)" stroke-width="0.9"/><circle cx="-10" cy="-5" r="4.5" fill="none" stroke="rgba(255,255,255,0.05)" stroke-width="0.9"/><circle cx="-10" cy="-5" r="6" fill="none" stroke="rgba(0,0,0,0.07)" stroke-width="0.9"/><circle cx="-10" cy="-5" r="7.5" fill="none" stroke="rgba(255,255,255,0.05)" stroke-width="0.9"/><circle cx="-10" cy="-5" r="9" fill="none" stroke="rgba(0,0,0,0.07)" stroke-width="0.9"/><circle cx="-10" cy="-5" r="10.5" fill="none" stroke="rgba(255,255,255,0.05)" stroke-width="0.9"/><circle cx="-10" cy="-5" r="12" fill="none" stroke="rgba(0,0,0,0.07)" stroke-width="0.9"/><circle cx="-10" cy="-5" r="13.5" fill="none" stroke="rgba(255,255,255,0.05)" stroke-width="0.9"/><circle cx="-10" cy="-5" r="15" fill="none" stroke="rgba(0,0,0,0.07)" stroke-width="0.9"/><circle cx="-10" cy="-5" r="16.5" fill="none" stroke="rgba(255,255,255,0.05)" stroke-width="0.9"/><circle cx="-10" cy="-5" r="18" fill="none" stroke="rgba(0,0,0,0.07)" stroke-width="0.9"/><circle cx="-10" cy="-5" r="19.5" fill="none" stroke="rgba(255,255,255,0.05)" stroke-width="0.9"/><circle cx="-10" cy="-5" r="21" fill="none" stroke="rgba(0,0,0,0.07)" stroke-width="0.9"/><circle cx="-10" cy="-5" r="22.5" fill="none" stroke="rgba(255,255,255,0.05)" stroke-width="0.9"/><circle cx="-10" cy="-5" r="24" fill="none" stroke="rgba(0,0,0,0.07)" stroke-width="0.9"/><circle cx="-10" cy="-5" r="25.5" fill="none" stroke="rgba(255,255,255,0.05)" stroke-width="0.9"/><circle cx="-10" cy="-5" r="27" fill="none" stroke="rgba(0,0,0,0.07)" stroke-width="0.9"/><circle cx="-10" cy="-5" r="28.5" fill="none" stroke="rgba(255,255,255,0.05)" stroke-width="0.9"/><circle cx="-10" cy="-5" r="30" fill="none" stroke="rgba(0,0,0,0.07)" stroke-width="0.9"/><circle cx="-10" cy="-5" r="31.5" fill="none" stroke="rgba(255,255,255,0.05)" stroke-width="0.9"/><circle cx="-10" cy="-5" r="33" fill="none" stroke="rgba(0,0,0,0.07)" stroke-width="0.9"/><circle cx="-10" cy="-5" r="34.5" fill="none" stroke="rgba(255,255,255,0.05)" stroke-width="0.9"/><circle cx="-10" cy="-5" r="36" fill="none" stroke="rgba(0,0,0,0.07)" stroke-width="0.9"/><circle cx="-10" cy="-5" r="37.5" fill="none" stroke="rgba(255,255,255,0.05)" stroke-width="0.9"/><circle cx="-10" cy="-5" r="39" fill="none" stroke="rgba(0,0,0,0.07)" stroke-width="0.9"/><circle cx="-10" cy="-5" r="40.5" fill="none" stroke="rgba(255,255,255,0.05)" stroke-width="0.9"/><circle cx="-10" cy="-5" r="42" fill="none" stroke="rgba(0,0,0,0.07)" stroke-width="0.9"/><circle cx="-10" cy="-5" r="43.5" fill="none" stroke="rgba(255,255,255,0.05)" stroke-width="0.9"/><circle cx="-10" cy="-5" r="45" fill="none" stroke="rgba(0,0,0,0.07)" stroke-width="0.9"/><circle cx="-10" cy="-5" r="46.5" fill="none" stroke="rgba(255,255,255,0.05)" stroke-width="0.9"/><circle cx="-10" cy="-5" r="48" fill="none" stroke="rgba(0,0,0,0.07)" stroke-width="0.9"/><circle cx="-10" cy="-5" r="49.5" fill="none" stroke="rgba(255,255,255,0.05)" stroke-width="0.9"/><circle cx="-10" cy="-5" r="51" fill="none" stroke="rgba(0,0,0,0.07)" stroke-width="0.9"/><circle cx="-10" cy="-5" r="52.5" fill="none" stroke="rgba(255,255,255,0.05)" stroke-width="0.9"/><circle cx="-10" cy="-5" r="54" fill="none" stroke="rgba(0,0,0,0.07)" stroke-width="0.9"/><circle cx="-10" cy="-5" r="55.5" fill="none" stroke="rgba(255,255,255,0.05)" stroke-width="0.9"/><circle cx="-10" cy="-5" r="57" fill="none" stroke="rgba(0,0,0,0.07)" stroke-width="0.9"/><circle cx="-10" cy="-5" r="58.5" fill="none" stroke="rgba(255,255,255,0.05)" stroke-width="0.9"/><circle cx="-10" cy="-5" r="60" fill="none" stroke="rgba(0,0,0,0.07)" stroke-width="0.9"/><circle cx="-10" cy="-5" r="61.5" fill="none" stroke="rgba(255,255,255,0.05)" stroke-width="0.9"/><circle cx="-10" cy="-5" r="63" fill="none" stroke="rgba(0,0,0,0.07)" stroke-width="0.9"/><circle cx="-10" cy="-5" r="64.5" fill="none" stroke="rgba(255,255,255,0.05)" stroke-width="0.9"/><circle cx="-10" cy="-5" r="66" fill="none" stroke="rgba(0,0,0,0.07)" stroke-width="0.9"/><circle cx="-10" cy="-5" r="67.5" fill="none" stroke="rgba(255,255,255,0.05)" stroke-width="0.9"/><circle cx="-10" cy="-5" r="69" fill="none" stroke="rgba(0,0,0,0.07)" stroke-width="0.9"/><circle cx="-10" cy="-5" r="70.5" fill="none" stroke="rgba(255,255,255,0.05)" stroke-width="0.9"/><circle cx="150" cy="-10" r="60" fill="#4b8259"/><circle cx="150" cy="-10" r="3" fill="none" stroke="rgba(0,0,0,0.07)" stroke-width="0.9"/><circle cx="150" cy="-10" r="4.5" fill="none" stroke="rgba(255,255,255,0.05)" stroke-width="0.9"/><circle cx="150" cy="-10" r="6" fill="none" stroke="rgba(0,0,0,0.07)" stroke-width="0.9"/><circle cx="150" cy="-10" r="7.5" fill="none" stroke="rgba(255,255,255,0.05)" stroke-width="0.9"/><circle cx="150" cy="-10" r="9" fill="none" stroke="rgba(0,0,0,0.07)" stroke-width="0.9"/><circle cx="150" cy="-10" r="10.5" fill="none" stroke="rgba(255,255,255,0.05)" stroke-width="0.9"/><circle cx="150" cy="-10" r="12" fill="none" stroke="rgba(0,0,0,0.07)" stroke-width="0.9"/><circle cx="150" cy="-10" r="13.5" fill="none" stroke="rgba(255,255,255,0.05)" stroke-width="0.9"/><circle cx="150" cy="-10" r="15" fill="none" stroke="rgba(0,0,0,0.07)" stroke-width="0.9"/><circle cx="150" cy="-10" r="16.5" fill="none" stroke="rgba(255,255,255,0.05)" stroke-width="0.9"/><circle cx="150" cy="-10" r="18" fill="none" stroke="rgba(0,0,0,0.07)" stroke-width="0.9"/><circle cx="150" cy="-10" r="19.5" fill="none" stroke="rgba(255,255,255,0.05)" stroke-width="0.9"/><circle cx="150" cy="-10" r="21" fill="none" stroke="rgba(0,0,0,0.07)" stroke-width="0.9"/><circle cx="150" cy="-10" r="22.5" fill="none" stroke="rgba(255,255,255,0.05)" stroke-width="0.9"/><circle cx="150" cy="-10" r="24" fill="none" stroke="rgba(0,0,0,0.07)" stroke-width="0.9"/><circle cx="150" cy="-10" r="25.5" fill="none" stroke="rgba(255,255,255,0.05)" stroke-width="0.9"/><circle cx="150" cy="-10" r="27" fill="none" stroke="rgba(0,0,0,0.07)" stroke-width="0.9"/><circle cx="150" cy="-10" r="28.5" fill="none" stroke="rgba(255,255,255,0.05)" stroke-width="0.9"/><circle cx="150" cy="-10" r="30" fill="none" stroke="rgba(0,0,0,0.07)" stroke-width="0.9"/><circle cx="150" cy="-10" r="31.5" fill="none" stroke="rgba(255,255,255,0.05)" stroke-width="0.9"/><circle cx="150" cy="-10" r="33" fill="none" stroke="rgba(0,0,0,0.07)" stroke-width="0.9"/><circle cx="150" cy="-10" r="34.5" fill="none" stroke="rgba(255,255,255,0.05)" stroke-width="0.9"/><circle cx="150" cy="-10" r="36" fill="none" stroke="rgba(0,0,0,0.07)" stroke-width="0.9"/><circle cx="150" cy="-10" r="37.5" fill="none" stroke="rgba(255,255,255,0.05)" stroke-width="0.9"/><circle cx="150" cy="-10" r="39" fill="none" stroke="rgba(0,0,0,0.07)" stroke-width="0.9"/><circle cx="150" cy="-10" r="40.5" fill="none" stroke="rgba(255,255,255,0.05)" stroke-width="0.9"/><circle cx="150" cy="-10" r="42" fill="none" stroke="rgba(0,0,0,0.07)" stroke-width="0.9"/><circle cx="150" cy="-10" r="43.5" fill="none" stroke="rgba(255,255,255,0.05)" stroke-width="0.9"/><circle cx="150" cy="-10" r="45" fill="none" stroke="rgba(0,0,0,0.07)" stroke-width="0.9"/><circle cx="150" cy="-10" r="46.5" fill="none" stroke="rgba(255,255,255,0.05)" stroke-width="0.9"/><circle cx="150" cy="-10" r="48" fill="none" stroke="rgba(0,0,0,0.07)" stroke-width="0.9"/><circle cx="150" cy="-10" r="49.5" fill="none" stroke="rgba(255,255,255,0.05)" stroke-width="0.9"/><circle cx="150" cy="-10" r="51" fill="none" stroke="rgba(0,0,0,0.07)" stroke-width="0.9"/><circle cx="150" cy="-10" r="52.5" fill="none" stroke="rgba(255,255,255,0.05)" stroke-width="0.9"/><circle cx="150" cy="-10" r="54" fill="none" stroke="rgba(0,0,0,0.07)" stroke-width="0.9"/><circle cx="150" cy="-10" r="55.5" fill="none" stroke="rgba(255,255,255,0.05)" stroke-width="0.9"/><circle cx="150" cy="-10" r="57" fill="none" stroke="rgba(0,0,0,0.07)" stroke-width="0.9"/><circle cx="150" cy="-10" r="58.5" fill="none" stroke="rgba(255,255,255,0.05)" stroke-width="0.9"/><circle cx="75" cy="-35" r="75" fill="#4b8259"/><circle cx="75" cy="-35" r="3" fill="none" stroke="rgba(0,0,0,0.07)" stroke-width="0.9"/><circle cx="75" cy="-35" r="4.5" fill="none" stroke="rgba(255,255,255,0.05)" stroke-width="0.9"/><circle cx="75" cy="-35" r="6" fill="none" stroke="rgba(0,0,0,0.07)" stroke-width="0.9"/><circle cx="75" cy="-35" r="7.5" fill="none" stroke="rgba(255,255,255,0.05)" stroke-width="0.9"/><circle cx="75" cy="-35" r="9" fill="none" stroke="rgba(0,0,0,0.07)" stroke-width="0.9"/><circle cx="75" cy="-35" r="10.5" fill="none" stroke="rgba(255,255,255,0.05)" stroke-width="0.9"/><circle cx="75" cy="-35" r="12" fill="none" stroke="rgba(0,0,0,0.07)" stroke-width="0.9"/><circle cx="75" cy="-35" r="13.5" fill="none" stroke="rgba(255,255,255,0.05)" stroke-width="0.9"/><circle cx="75" cy="-35" r="15" fill="none" stroke="rgba(0,0,0,0.07)" stroke-width="0.9"/><circle cx="75" cy="-35" r="16.5" fill="none" stroke="rgba(255,255,255,0.05)" stroke-width="0.9"/><circle cx="75" cy="-35" r="18" fill="none" stroke="rgba(0,0,0,0.07)" stroke-width="0.9"/><circle cx="75" cy="-35" r="19.5" fill="none" stroke="rgba(255,255,255,0.05)" stroke-width="0.9"/><circle cx="75" cy="-35" r="21" fill="none" stroke="rgba(0,0,0,0.07)" stroke-width="0.9"/><circle cx="75" cy="-35" r="22.5" fill="none" stroke="rgba(255,255,255,0.05)" stroke-width="0.9"/><circle cx="75" cy="-35" r="24" fill="none" stroke="rgba(0,0,0,0.07)" stroke-width="0.9"/><circle cx="75" cy="-35" r="25.5" fill="none" stroke="rgba(255,255,255,0.05)" stroke-width="0.9"/><circle cx="75" cy="-35" r="27" fill="none" stroke="rgba(0,0,0,0.07)" stroke-width="0.9"/><circle cx="75" cy="-35" r="28.5" fill="none" stroke="rgba(255,255,255,0.05)" stroke-width="0.9"/><circle cx="75" cy="-35" r="30" fill="none" stroke="rgba(0,0,0,0.07)" stroke-width="0.9"/><circle cx="75" cy="-35" r="31.5" fill="none" stroke="rgba(255,255,255,0.05)" stroke-width="0.9"/><circle cx="75" cy="-35" r="33" fill="none" stroke="rgba(0,0,0,0.07)" stroke-width="0.9"/><circle cx="75" cy="-35" r="34.5" fill="none" stroke="rgba(255,255,255,0.05)" stroke-width="0.9"/><circle cx="75" cy="-35" r="36" fill="none" stroke="rgba(0,0,0,0.07)" stroke-width="0.9"/><circle cx="75" cy="-35" r="37.5" fill="none" stroke="rgba(255,255,255,0.05)" stroke-width="0.9"/><circle cx="75" cy="-35" r="39" fill="none" stroke="rgba(0,0,0,0.07)" stroke-width="0.9"/><circle cx="75" cy="-35" r="40.5" fill="none" stroke="rgba(255,255,255,0.05)" stroke-width="0.9"/><circle cx="75" cy="-35" r="42" fill="none" stroke="rgba(0,0,0,0.07)" stroke-width="0.9"/><circle cx="75" cy="-35" r="43.5" fill="none" stroke="rgba(255,255,255,0.05)" stroke-width="0.9"/><circle cx="75" cy="-35" r="45" fill="none" stroke="rgba(0,0,0,0.07)" stroke-width="0.9"/><circle cx="75" cy="-35" r="46.5" fill="none" stroke="rgba(255,255,255,0.05)" stroke-width="0.9"/><circle cx="75" cy="-35" r="48" fill="none" stroke="rgba(0,0,0,0.07)" stroke-width="0.9"/><circle cx="75" cy="-35" r="49.5" fill="none" stroke="rgba(255,255,255,0.05)" stroke-width="0.9"/><circle cx="75" cy="-35" r="51" fill="none" stroke="rgba(0,0,0,0.07)" stroke-width="0.9"/><circle cx="75" cy="-35" r="52.5" fill="none" stroke="rgba(255,255,255,0.05)" stroke-width="0.9"/><circle cx="75" cy="-35" r="54" fill="none" stroke="rgba(0,0,0,0.07)" stroke-width="0.9"/><circle cx="75" cy="-35" r="55.5" fill="none" stroke="rgba(255,255,255,0.05)" stroke-width="0.9"/><circle cx="75" cy="-35" r="57" fill="none" stroke="rgba(0,0,0,0.07)" stroke-width="0.9"/><circle cx="75" cy="-35" r="58.5" fill="none" stroke="rgba(255,255,255,0.05)" stroke-width="0.9"/><circle cx="75" cy="-35" r="60" fill="none" stroke="rgba(0,0,0,0.07)" stroke-width="0.9"/><circle cx="75" cy="-35" r="61.5" fill="none" stroke="rgba(255,255,255,0.05)" stroke-width="0.9"/><circle cx="75" cy="-35" r="63" fill="none" stroke="rgba(0,0,0,0.07)" stroke-width="0.9"/><circle cx="75" cy="-35" r="64.5" fill="none" stroke="rgba(255,255,255,0.05)" stroke-width="0.9"/><circle cx="75" cy="-35" r="66" fill="none" stroke="rgba(0,0,0,0.07)" stroke-width="0.9"/><circle cx="75" cy="-35" r="67.5" fill="none" stroke="rgba(255,255,255,0.05)" stroke-width="0.9"/><circle cx="75" cy="-35" r="69" fill="none" stroke="rgba(0,0,0,0.07)" stroke-width="0.9"/><circle cx="75" cy="-35" r="70.5" fill="none" stroke="rgba(255,255,255,0.05)" stroke-width="0.9"/><circle cx="75" cy="-35" r="72" fill="none" stroke="rgba(0,0,0,0.07)" stroke-width="0.9"/><circle cx="75" cy="-35" r="73.5" fill="none" stroke="rgba(255,255,255,0.05)" stroke-width="0.9"/><circle cx="20" cy="95" r="55" fill="#4b8259"/><circle cx="20" cy="95" r="3" fill="none" stroke="rgba(0,0,0,0.07)" stroke-width="0.9"/><circle cx="20" cy="95" r="4.5" fill="none" stroke="rgba(255,255,255,0.05)" stroke-width="0.9"/><circle cx="20" cy="95" r="6" fill="none" stroke="rgba(0,0,0,0.07)" stroke-width="0.9"/><circle cx="20" cy="95" r="7.5" fill="none" stroke="rgba(255,255,255,0.05)" stroke-width="0.9"/><circle cx="20" cy="95" r="9" fill="none" stroke="rgba(0,0,0,0.07)" stroke-width="0.9"/><circle cx="20" cy="95" r="10.5" fill="none" stroke="rgba(255,255,255,0.05)" stroke-width="0.9"/><circle cx="20" cy="95" r="12" fill="none" stroke="rgba(0,0,0,0.07)" stroke-width="0.9"/><circle cx="20" cy="95" r="13.5" fill="none" stroke="rgba(255,255,255,0.05)" stroke-width="0.9"/><circle cx="20" cy="95" r="15" fill="none" stroke="rgba(0,0,0,0.07)" stroke-width="0.9"/><circle cx="20" cy="95" r="16.5" fill="none" stroke="rgba(255,255,255,0.05)" stroke-width="0.9"/><circle cx="20" cy="95" r="18" fill="none" stroke="rgba(0,0,0,0.07)" stroke-width="0.9"/><circle cx="20" cy="95" r="19.5" fill="none" stroke="rgba(255,255,255,0.05)" stroke-width="0.9"/><circle cx="20" cy="95" r="21" fill="none" stroke="rgba(0,0,0,0.07)" stroke-width="0.9"/><circle cx="20" cy="95" r="22.5" fill="none" stroke="rgba(255,255,255,0.05)" stroke-width="0.9"/><circle cx="20" cy="95" r="24" fill="none" stroke="rgba(0,0,0,0.07)" stroke-width="0.9"/><circle cx="20" cy="95" r="25.5" fill="none" stroke="rgba(255,255,255,0.05)" stroke-width="0.9"/><circle cx="20" cy="95" r="27" fill="none" stroke="rgba(0,0,0,0.07)" stroke-width="0.9"/><circle cx="20" cy="95" r="28.5" fill="none" stroke="rgba(255,255,255,0.05)" stroke-width="0.9"/><circle cx="20" cy="95" r="30" fill="none" stroke="rgba(0,0,0,0.07)" stroke-width="0.9"/><circle cx="20" cy="95" r="31.5" fill="none" stroke="rgba(255,255,255,0.05)" stroke-width="0.9"/><circle cx="20" cy="95" r="33" fill="none" stroke="rgba(0,0,0,0.07)" stroke-width="0.9"/><circle cx="20" cy="95" r="34.5" fill="none" stroke="rgba(255,255,255,0.05)" stroke-width="0.9"/><circle cx="20" cy="95" r="36" fill="none" stroke="rgba(0,0,0,0.07)" stroke-width="0.9"/><circle cx="20" cy="95" r="37.5" fill="none" stroke="rgba(255,255,255,0.05)" stroke-width="0.9"/><circle cx="20" cy="95" r="39" fill="none" stroke="rgba(0,0,0,0.07)" stroke-width="0.9"/><circle cx="20" cy="95" r="40.5" fill="none" stroke="rgba(255,255,255,0.05)" stroke-width="0.9"/><circle cx="20" cy="95" r="42" fill="none" stroke="rgba(0,0,0,0.07)" stroke-width="0.9"/><circle cx="20" cy="95" r="43.5" fill="none" stroke="rgba(255,255,255,0.05)" stroke-width="0.9"/><circle cx="20" cy="95" r="45" fill="none" stroke="rgba(0,0,0,0.07)" stroke-width="0.9"/><circle cx="20" cy="95" r="46.5" fill="none" stroke="rgba(255,255,255,0.05)" stroke-width="0.9"/><circle cx="20" cy="95" r="48" fill="none" stroke="rgba(0,0,0,0.07)" stroke-width="0.9"/><circle cx="20" cy="95" r="49.5" fill="none" stroke="rgba(255,255,255,0.05)" stroke-width="0.9"/><circle cx="20" cy="95" r="51" fill="none" stroke="rgba(0,0,0,0.07)" stroke-width="0.9"/><circle cx="20" cy="95" r="52.5" fill="none" stroke="rgba(255,255,255,0.05)" stroke-width="0.9"/><circle cx="20" cy="95" r="54" fill="none" stroke="rgba(0,0,0,0.07)" stroke-width="0.9"/><circle cx="20" cy="95" r="55.5" fill="none" stroke="rgba(255,255,255,0.05)" stroke-width="0.9"/><circle cx="160" cy="95" r="70" fill="#4b8259"/><circle cx="160" cy="95" r="3" fill="none" stroke="rgba(0,0,0,0.07)" stroke-width="0.9"/><circle cx="160" cy="95" r="4.5" fill="none" stroke="rgba(255,255,255,0.05)" stroke-width="0.9"/><circle cx="160" cy="95" r="6" fill="none" stroke="rgba(0,0,0,0.07)" stroke-width="0.9"/><circle cx="160" cy="95" r="7.5" fill="none" stroke="rgba(255,255,255,0.05)" stroke-width="0.9"/><circle cx="160" cy="95" r="9" fill="none" stroke="rgba(0,0,0,0.07)" stroke-width="0.9"/><circle cx="160" cy="95" r="10.5" fill="none" stroke="rgba(255,255,255,0.05)" stroke-width="0.9"/><circle cx="160" cy="95" r="12" fill="none" stroke="rgba(0,0,0,0.07)" stroke-width="0.9"/><circle cx="160" cy="95" r="13.5" fill="none" stroke="rgba(255,255,255,0.05)" stroke-width="0.9"/><circle cx="160" cy="95" r="15" fill="none" stroke="rgba(0,0,0,0.07)" stroke-width="0.9"/><circle cx="160" cy="95" r="16.5" fill="none" stroke="rgba(255,255,255,0.05)" stroke-width="0.9"/><circle cx="160" cy="95" r="18" fill="none" stroke="rgba(0,0,0,0.07)" stroke-width="0.9"/><circle cx="160" cy="95" r="19.5" fill="none" stroke="rgba(255,255,255,0.05)" stroke-width="0.9"/><circle cx="160" cy="95" r="21" fill="none" stroke="rgba(0,0,0,0.07)" stroke-width="0.9"/><circle cx="160" cy="95" r="22.5" fill="none" stroke="rgba(255,255,255,0.05)" stroke-width="0.9"/><circle cx="160" cy="95" r="24" fill="none" stroke="rgba(0,0,0,0.07)" stroke-width="0.9"/><circle cx="160" cy="95" r="25.5" fill="none" stroke="rgba(255,255,255,0.05)" stroke-width="0.9"/><circle cx="160" cy="95" r="27" fill="none" stroke="rgba(0,0,0,0.07)" stroke-width="0.9"/><circle cx="160" cy="95" r="28.5" fill="none" stroke="rgba(255,255,255,0.05)" stroke-width="0.9"/><circle cx="160" cy="95" r="30" fill="none" stroke="rgba(0,0,0,0.07)" stroke-width="0.9"/><circle cx="160" cy="95" r="31.5" fill="none" stroke="rgba(255,255,255,0.05)" stroke-width="0.9"/><circle cx="160" cy="95" r="33" fill="none" stroke="rgba(0,0,0,0.07)" stroke-width="0.9"/><circle cx="160" cy="95" r="34.5" fill="none" stroke="rgba(255,255,255,0.05)" stroke-width="0.9"/><circle cx="160" cy="95" r="36" fill="none" stroke="rgba(0,0,0,0.07)" stroke-width="0.9"/><circle cx="160" cy="95" r="37.5" fill="none" stroke="rgba(255,255,255,0.05)" stroke-width="0.9"/><circle cx="160" cy="95" r="39" fill="none" stroke="rgba(0,0,0,0.07)" stroke-width="0.9"/><circle cx="160" cy="95" r="40.5" fill="none" stroke="rgba(255,255,255,0.05)" stroke-width="0.9"/><circle cx="160" cy="95" r="42" fill="none" stroke="rgba(0,0,0,0.07)" stroke-width="0.9"/><circle cx="160" cy="95" r="43.5" fill="none" stroke="rgba(255,255,255,0.05)" stroke-width="0.9"/><circle cx="160" cy="95" r="45" fill="none" stroke="rgba(0,0,0,0.07)" stroke-width="0.9"/><circle cx="160" cy="95" r="46.5" fill="none" stroke="rgba(255,255,255,0.05)" stroke-width="0.9"/><circle cx="160" cy="95" r="48" fill="none" stroke="rgba(0,0,0,0.07)" stroke-width="0.9"/><circle cx="160" cy="95" r="49.5" fill="none" stroke="rgba(255,255,255,0.05)" stroke-width="0.9"/><circle cx="160" cy="95" r="51" fill="none" stroke="rgba(0,0,0,0.07)" stroke-width="0.9"/><circle cx="160" cy="95" r="52.5" fill="none" stroke="rgba(255,255,255,0.05)" stroke-width="0.9"/><circle cx="160" cy="95" r="54" fill="none" stroke="rgba(0,0,0,0.07)" stroke-width="0.9"/><circle cx="160" cy="95" r="55.5" fill="none" stroke="rgba(255,255,255,0.05)" stroke-width="0.9"/><circle cx="160" cy="95" r="57" fill="none" stroke="rgba(0,0,0,0.07)" stroke-width="0.9"/><circle cx="160" cy="95" r="58.5" fill="none" stroke="rgba(255,255,255,0.05)" stroke-width="0.9"/><circle cx="160" cy="95" r="60" fill="none" stroke="rgba(0,0,0,0.07)" stroke-width="0.9"/><circle cx="160" cy="95" r="61.5" fill="none" stroke="rgba(255,255,255,0.05)" stroke-width="0.9"/><circle cx="160" cy="95" r="63" fill="none" stroke="rgba(0,0,0,0.07)" stroke-width="0.9"/><circle cx="160" cy="95" r="64.5" fill="none" stroke="rgba(255,255,255,0.05)" stroke-width="0.9"/><circle cx="160" cy="95" r="66" fill="none" stroke="rgba(0,0,0,0.07)" stroke-width="0.9"/><circle cx="160" cy="95" r="67.5" fill="none" stroke="rgba(255,255,255,0.05)" stroke-width="0.9"/><circle cx="160" cy="95" r="69" fill="none" stroke="rgba(0,0,0,0.07)" stroke-width="0.9"/><circle cx="160" cy="95" r="70.5" fill="none" stroke="rgba(255,255,255,0.05)" stroke-width="0.9"/><circle cx="95" cy="110" r="45" fill="#4b8259"/><circle cx="95" cy="110" r="3" fill="none" stroke="rgba(0,0,0,0.07)" stroke-width="0.9"/><circle cx="95" cy="110" r="4.5" fill="none" stroke="rgba(255,255,255,0.05)" stroke-width="0.9"/><circle cx="95" cy="110" r="6" fill="none" stroke="rgba(0,0,0,0.07)" stroke-width="0.9"/><circle cx="95" cy="110" r="7.5" fill="none" stroke="rgba(255,255,255,0.05)" stroke-width="0.9"/><circle cx="95" cy="110" r="9" fill="none" stroke="rgba(0,0,0,0.07)" stroke-width="0.9"/><circle cx="95" cy="110" r="10.5" fill="none" stroke="rgba(255,255,255,0.05)" stroke-width="0.9"/><circle cx="95" cy="110" r="12" fill="none" stroke="rgba(0,0,0,0.07)" stroke-width="0.9"/><circle cx="95" cy="110" r="13.5" fill="none" stroke="rgba(255,255,255,0.05)" stroke-width="0.9"/><circle cx="95" cy="110" r="15" fill="none" stroke="rgba(0,0,0,0.07)" stroke-width="0.9"/><circle cx="95" cy="110" r="16.5" fill="none" stroke="rgba(255,255,255,0.05)" stroke-width="0.9"/><circle cx="95" cy="110" r="18" fill="none" stroke="rgba(0,0,0,0.07)" stroke-width="0.9"/><circle cx="95" cy="110" r="19.5" fill="none" stroke="rgba(255,255,255,0.05)" stroke-width="0.9"/><circle cx="95" cy="110" r="21" fill="none" stroke="rgba(0,0,0,0.07)" stroke-width="0.9"/><circle cx="95" cy="110" r="22.5" fill="none" stroke="rgba(255,255,255,0.05)" stroke-width="0.9"/><circle cx="95" cy="110" r="24" fill="none" stroke="rgba(0,0,0,0.07)" stroke-width="0.9"/><circle cx="95" cy="110" r="25.5" fill="none" stroke="rgba(255,255,255,0.05)" stroke-width="0.9"/><circle cx="95" cy="110" r="27" fill="none" stroke="rgba(0,0,0,0.07)" stroke-width="0.9"/><circle cx="95" cy="110" r="28.5" fill="none" stroke="rgba(255,255,255,0.05)" stroke-width="0.9"/><circle cx="95" cy="110" r="30" fill="none" stroke="rgba(0,0,0,0.07)" stroke-width="0.9"/><circle cx="95" cy="110" r="31.5" fill="none" stroke="rgba(255,255,255,0.05)" stroke-width="0.9"/><circle cx="95" cy="110" r="33" fill="none" stroke="rgba(0,0,0,0.07)" stroke-width="0.9"/><circle cx="95" cy="110" r="34.5" fill="none" stroke="rgba(255,255,255,0.05)" stroke-width="0.9"/><circle cx="95" cy="110" r="36" fill="none" stroke="rgba(0,0,0,0.07)" stroke-width="0.9"/><circle cx="95" cy="110" r="37.5" fill="none" stroke="rgba(255,255,255,0.05)" stroke-width="0.9"/><circle cx="95" cy="110" r="39" fill="none" stroke="rgba(0,0,0,0.07)" stroke-width="0.9"/><circle cx="95" cy="110" r="40.5" fill="none" stroke="rgba(255,255,255,0.05)" stroke-width="0.9"/><circle cx="95" cy="110" r="42" fill="none" stroke="rgba(0,0,0,0.07)" stroke-width="0.9"/><circle cx="95" cy="110" r="43.5" fill="none" stroke="rgba(255,255,255,0.05)" stroke-width="0.9"/></g></svg><svg style="position:absolute;left:502.5px;top:181px" width="22" height="22" viewBox="0 0 22 22"><rect x="1" y="1" width="19.5" height="19.5" fill="none" stroke="#fff" stroke-width="2"/><path d="M3.9 2v17.5" stroke="#fff" stroke-width="1.9"/><path d="M6.6 2v17.5" stroke="#fff" stroke-width="1.1"/><path d="M16.3 7.4C15.7 6.3 14.8 5.8 13.5 5.8C11.9 5.8 10.9 6.7 10.9 7.9C10.9 10.9 16.6 9.7 16.6 13.3C16.6 14.8 15.4 15.8 13.6 15.8C12.1 15.8 11.1 15.1 10.5 14" fill="none" stroke="#fff" stroke-width="2"/><path d="M13.6 4v13.6" stroke="#fff" stroke-width="1.5"/></svg><div style="position:absolute;left:601px;top:159px;width:155px;height:77px;background:#b27340;border-radius:3px"></div><svg style="position:absolute;left:601px;top:159px;border-radius:3px" width="155" height="77"><defs><clipPath id="tc601"><rect width="155" height="77" rx="3"/></clipPath></defs><g clip-path="url(#tc601)"><circle cx="-10" cy="-5" r="70" fill="#b27340"/><circle cx="-10" cy="-5" r="3" fill="none" stroke="rgba(0,0,0,0.07)" stroke-width="0.9"/><circle cx="-10" cy="-5" r="4.5" fill="none" stroke="rgba(255,255,255,0.05)" stroke-width="0.9"/><circle cx="-10" cy="-5" r="6" fill="none" stroke="rgba(0,0,0,0.07)" stroke-width="0.9"/><circle cx="-10" cy="-5" r="7.5" fill="none" stroke="rgba(255,255,255,0.05)" stroke-width="0.9"/><circle cx="-10" cy="-5" r="9" fill="none" stroke="rgba(0,0,0,0.07)" stroke-width="0.9"/><circle cx="-10" cy="-5" r="10.5" fill="none" stroke="rgba(255,255,255,0.05)" stroke-width="0.9"/><circle cx="-10" cy="-5" r="12" fill="none" stroke="rgba(0,0,0,0.07)" stroke-width="0.9"/><circle cx="-10" cy="-5" r="13.5" fill="none" stroke="rgba(255,255,255,0.05)" stroke-width="0.9"/><circle cx="-10" cy="-5" r="15" fill="none" stroke="rgba(0,0,0,0.07)" stroke-width="0.9"/><circle cx="-10" cy="-5" r="16.5" fill="none" stroke="rgba(255,255,255,0.05)" stroke-width="0.9"/><circle cx="-10" cy="-5" r="18" fill="none" stroke="rgba(0,0,0,0.07)" stroke-width="0.9"/><circle cx="-10" cy="-5" r="19.5" fill="none" stroke="rgba(255,255,255,0.05)" stroke-width="0.9"/><circle cx="-10" cy="-5" r="21" fill="none" stroke="rgba(0,0,0,0.07)" stroke-width="0.9"/><circle cx="-10" cy="-5" r="22.5" fill="none" stroke="rgba(255,255,255,0.05)" stroke-width="0.9"/><circle cx="-10" cy="-5" r="24" fill="none" stroke="rgba(0,0,0,0.07)" stroke-width="0.9"/><circle cx="-10" cy="-5" r="25.5" fill="none" stroke="rgba(255,255,255,0.05)" stroke-width="0.9"/><circle cx="-10" cy="-5" r="27" fill="none" stroke="rgba(0,0,0,0.07)" stroke-width="0.9"/><circle cx="-10" cy="-5" r="28.5" fill="none" stroke="rgba(255,255,255,0.05)" stroke-width="0.9"/><circle cx="-10" cy="-5" r="30" fill="none" stroke="rgba(0,0,0,0.07)" stroke-width="0.9"/><circle cx="-10" cy="-5" r="31.5" fill="none" stroke="rgba(255,255,255,0.05)" stroke-width="0.9"/><circle cx="-10" cy="-5" r="33" fill="none" stroke="rgba(0,0,0,0.07)" stroke-width="0.9"/><circle cx="-10" cy="-5" r="34.5" fill="none" stroke="rgba(255,255,255,0.05)" stroke-width="0.9"/><circle cx="-10" cy="-5" r="36" fill="none" stroke="rgba(0,0,0,0.07)" stroke-width="0.9"/><circle cx="-10" cy="-5" r="37.5" fill="none" stroke="rgba(255,255,255,0.05)" stroke-width="0.9"/><circle cx="-10" cy="-5" r="39" fill="none" stroke="rgba(0,0,0,0.07)" stroke-width="0.9"/><circle cx="-10" cy="-5" r="40.5" fill="none" stroke="rgba(255,255,255,0.05)" stroke-width="0.9"/><circle cx="-10" cy="-5" r="42" fill="none" stroke="rgba(0,0,0,0.07)" stroke-width="0.9"/><circle cx="-10" cy="-5" r="43.5" fill="none" stroke="rgba(255,255,255,0.05)" stroke-width="0.9"/><circle cx="-10" cy="-5" r="45" fill="none" stroke="rgba(0,0,0,0.07)" stroke-width="0.9"/><circle cx="-10" cy="-5" r="46.5" fill="none" stroke="rgba(255,255,255,0.05)" stroke-width="0.9"/><circle cx="-10" cy="-5" r="48" fill="none" stroke="rgba(0,0,0,0.07)" stroke-width="0.9"/><circle cx="-10" cy="-5" r="49.5" fill="none" stroke="rgba(255,255,255,0.05)" stroke-width="0.9"/><circle cx="-10" cy="-5" r="51" fill="none" stroke="rgba(0,0,0,0.07)" stroke-width="0.9"/><circle cx="-10" cy="-5" r="52.5" fill="none" stroke="rgba(255,255,255,0.05)" stroke-width="0.9"/><circle cx="-10" cy="-5" r="54" fill="none" stroke="rgba(0,0,0,0.07)" stroke-width="0.9"/><circle cx="-10" cy="-5" r="55.5" fill="none" stroke="rgba(255,255,255,0.05)" stroke-width="0.9"/><circle cx="-10" cy="-5" r="57" fill="none" stroke="rgba(0,0,0,0.07)" stroke-width="0.9"/><circle cx="-10" cy="-5" r="58.5" fill="none" stroke="rgba(255,255,255,0.05)" stroke-width="0.9"/><circle cx="-10" cy="-5" r="60" fill="none" stroke="rgba(0,0,0,0.07)" stroke-width="0.9"/><circle cx="-10" cy="-5" r="61.5" fill="none" stroke="rgba(255,255,255,0.05)" stroke-width="0.9"/><circle cx="-10" cy="-5" r="63" fill="none" stroke="rgba(0,0,0,0.07)" stroke-width="0.9"/><circle cx="-10" cy="-5" r="64.5" fill="none" stroke="rgba(255,255,255,0.05)" stroke-width="0.9"/><circle cx="-10" cy="-5" r="66" fill="none" stroke="rgba(0,0,0,0.07)" stroke-width="0.9"/><circle cx="-10" cy="-5" r="67.5" fill="none" stroke="rgba(255,255,255,0.05)" stroke-width="0.9"/><circle cx="-10" cy="-5" r="69" fill="none" stroke="rgba(0,0,0,0.07)" stroke-width="0.9"/><circle cx="-10" cy="-5" r="70.5" fill="none" stroke="rgba(255,255,255,0.05)" stroke-width="0.9"/><circle cx="150" cy="-10" r="60" fill="#b27340"/><circle cx="150" cy="-10" r="3" fill="none" stroke="rgba(0,0,0,0.07)" stroke-width="0.9"/><circle cx="150" cy="-10" r="4.5" fill="none" stroke="rgba(255,255,255,0.05)" stroke-width="0.9"/><circle cx="150" cy="-10" r="6" fill="none" stroke="rgba(0,0,0,0.07)" stroke-width="0.9"/><circle cx="150" cy="-10" r="7.5" fill="none" stroke="rgba(255,255,255,0.05)" stroke-width="0.9"/><circle cx="150" cy="-10" r="9" fill="none" stroke="rgba(0,0,0,0.07)" stroke-width="0.9"/><circle cx="150" cy="-10" r="10.5" fill="none" stroke="rgba(255,255,255,0.05)" stroke-width="0.9"/><circle cx="150" cy="-10" r="12" fill="none" stroke="rgba(0,0,0,0.07)" stroke-width="0.9"/><circle cx="150" cy="-10" r="13.5" fill="none" stroke="rgba(255,255,255,0.05)" stroke-width="0.9"/><circle cx="150" cy="-10" r="15" fill="none" stroke="rgba(0,0,0,0.07)" stroke-width="0.9"/><circle cx="150" cy="-10" r="16.5" fill="none" stroke="rgba(255,255,255,0.05)" stroke-width="0.9"/><circle cx="150" cy="-10" r="18" fill="none" stroke="rgba(0,0,0,0.07)" stroke-width="0.9"/><circle cx="150" cy="-10" r="19.5" fill="none" stroke="rgba(255,255,255,0.05)" stroke-width="0.9"/><circle cx="150" cy="-10" r="21" fill="none" stroke="rgba(0,0,0,0.07)" stroke-width="0.9"/><circle cx="150" cy="-10" r="22.5" fill="none" stroke="rgba(255,255,255,0.05)" stroke-width="0.9"/><circle cx="150" cy="-10" r="24" fill="none" stroke="rgba(0,0,0,0.07)" stroke-width="0.9"/><circle cx="150" cy="-10" r="25.5" fill="none" stroke="rgba(255,255,255,0.05)" stroke-width="0.9"/><circle cx="150" cy="-10" r="27" fill="none" stroke="rgba(0,0,0,0.07)" stroke-width="0.9"/><circle cx="150" cy="-10" r="28.5" fill="none" stroke="rgba(255,255,255,0.05)" stroke-width="0.9"/><circle cx="150" cy="-10" r="30" fill="none" stroke="rgba(0,0,0,0.07)" stroke-width="0.9"/><circle cx="150" cy="-10" r="31.5" fill="none" stroke="rgba(255,255,255,0.05)" stroke-width="0.9"/><circle cx="150" cy="-10" r="33" fill="none" stroke="rgba(0,0,0,0.07)" stroke-width="0.9"/><circle cx="150" cy="-10" r="34.5" fill="none" stroke="rgba(255,255,255,0.05)" stroke-width="0.9"/><circle cx="150" cy="-10" r="36" fill="none" stroke="rgba(0,0,0,0.07)" stroke-width="0.9"/><circle cx="150" cy="-10" r="37.5" fill="none" stroke="rgba(255,255,255,0.05)" stroke-width="0.9"/><circle cx="150" cy="-10" r="39" fill="none" stroke="rgba(0,0,0,0.07)" stroke-width="0.9"/><circle cx="150" cy="-10" r="40.5" fill="none" stroke="rgba(255,255,255,0.05)" stroke-width="0.9"/><circle cx="150" cy="-10" r="42" fill="none" stroke="rgba(0,0,0,0.07)" stroke-width="0.9"/><circle cx="150" cy="-10" r="43.5" fill="none" stroke="rgba(255,255,255,0.05)" stroke-width="0.9"/><circle cx="150" cy="-10" r="45" fill="none" stroke="rgba(0,0,0,0.07)" stroke-width="0.9"/><circle cx="150" cy="-10" r="46.5" fill="none" stroke="rgba(255,255,255,0.05)" stroke-width="0.9"/><circle cx="150" cy="-10" r="48" fill="none" stroke="rgba(0,0,0,0.07)" stroke-width="0.9"/><circle cx="150" cy="-10" r="49.5" fill="none" stroke="rgba(255,255,255,0.05)" stroke-width="0.9"/><circle cx="150" cy="-10" r="51" fill="none" stroke="rgba(0,0,0,0.07)" stroke-width="0.9"/><circle cx="150" cy="-10" r="52.5" fill="none" stroke="rgba(255,255,255,0.05)" stroke-width="0.9"/><circle cx="150" cy="-10" r="54" fill="none" stroke="rgba(0,0,0,0.07)" stroke-width="0.9"/><circle cx="150" cy="-10" r="55.5" fill="none" stroke="rgba(255,255,255,0.05)" stroke-width="0.9"/><circle cx="150" cy="-10" r="57" fill="none" stroke="rgba(0,0,0,0.07)" stroke-width="0.9"/><circle cx="150" cy="-10" r="58.5" fill="none" stroke="rgba(255,255,255,0.05)" stroke-width="0.9"/><circle cx="75" cy="-35" r="75" fill="#b27340"/><circle cx="75" cy="-35" r="3" fill="none" stroke="rgba(0,0,0,0.07)" stroke-width="0.9"/><circle cx="75" cy="-35" r="4.5" fill="none" stroke="rgba(255,255,255,0.05)" stroke-width="0.9"/><circle cx="75" cy="-35" r="6" fill="none" stroke="rgba(0,0,0,0.07)" stroke-width="0.9"/><circle cx="75" cy="-35" r="7.5" fill="none" stroke="rgba(255,255,255,0.05)" stroke-width="0.9"/><circle cx="75" cy="-35" r="9" fill="none" stroke="rgba(0,0,0,0.07)" stroke-width="0.9"/><circle cx="75" cy="-35" r="10.5" fill="none" stroke="rgba(255,255,255,0.05)" stroke-width="0.9"/><circle cx="75" cy="-35" r="12" fill="none" stroke="rgba(0,0,0,0.07)" stroke-width="0.9"/><circle cx="75" cy="-35" r="13.5" fill="none" stroke="rgba(255,255,255,0.05)" stroke-width="0.9"/><circle cx="75" cy="-35" r="15" fill="none" stroke="rgba(0,0,0,0.07)" stroke-width="0.9"/><circle cx="75" cy="-35" r="16.5" fill="none" stroke="rgba(255,255,255,0.05)" stroke-width="0.9"/><circle cx="75" cy="-35" r="18" fill="none" stroke="rgba(0,0,0,0.07)" stroke-width="0.9"/><circle cx="75" cy="-35" r="19.5" fill="none" stroke="rgba(255,255,255,0.05)" stroke-width="0.9"/><circle cx="75" cy="-35" r="21" fill="none" stroke="rgba(0,0,0,0.07)" stroke-width="0.9"/><circle cx="75" cy="-35" r="22.5" fill="none" stroke="rgba(255,255,255,0.05)" stroke-width="0.9"/><circle cx="75" cy="-35" r="24" fill="none" stroke="rgba(0,0,0,0.07)" stroke-width="0.9"/><circle cx="75" cy="-35" r="25.5" fill="none" stroke="rgba(255,255,255,0.05)" stroke-width="0.9"/><circle cx="75" cy="-35" r="27" fill="none" stroke="rgba(0,0,0,0.07)" stroke-width="0.9"/><circle cx="75" cy="-35" r="28.5" fill="none" stroke="rgba(255,255,255,0.05)" stroke-width="0.9"/><circle cx="75" cy="-35" r="30" fill="none" stroke="rgba(0,0,0,0.07)" stroke-width="0.9"/><circle cx="75" cy="-35" r="31.5" fill="none" stroke="rgba(255,255,255,0.05)" stroke-width="0.9"/><circle cx="75" cy="-35" r="33" fill="none" stroke="rgba(0,0,0,0.07)" stroke-width="0.9"/><circle cx="75" cy="-35" r="34.5" fill="none" stroke="rgba(255,255,255,0.05)" stroke-width="0.9"/><circle cx="75" cy="-35" r="36" fill="none" stroke="rgba(0,0,0,0.07)" stroke-width="0.9"/><circle cx="75" cy="-35" r="37.5" fill="none" stroke="rgba(255,255,255,0.05)" stroke-width="0.9"/><circle cx="75" cy="-35" r="39" fill="none" stroke="rgba(0,0,0,0.07)" stroke-width="0.9"/><circle cx="75" cy="-35" r="40.5" fill="none" stroke="rgba(255,255,255,0.05)" stroke-width="0.9"/><circle cx="75" cy="-35" r="42" fill="none" stroke="rgba(0,0,0,0.07)" stroke-width="0.9"/><circle cx="75" cy="-35" r="43.5" fill="none" stroke="rgba(255,255,255,0.05)" stroke-width="0.9"/><circle cx="75" cy="-35" r="45" fill="none" stroke="rgba(0,0,0,0.07)" stroke-width="0.9"/><circle cx="75" cy="-35" r="46.5" fill="none" stroke="rgba(255,255,255,0.05)" stroke-width="0.9"/><circle cx="75" cy="-35" r="48" fill="none" stroke="rgba(0,0,0,0.07)" stroke-width="0.9"/><circle cx="75" cy="-35" r="49.5" fill="none" stroke="rgba(255,255,255,0.05)" stroke-width="0.9"/><circle cx="75" cy="-35" r="51" fill="none" stroke="rgba(0,0,0,0.07)" stroke-width="0.9"/><circle cx="75" cy="-35" r="52.5" fill="none" stroke="rgba(255,255,255,0.05)" stroke-width="0.9"/><circle cx="75" cy="-35" r="54" fill="none" stroke="rgba(0,0,0,0.07)" stroke-width="0.9"/><circle cx="75" cy="-35" r="55.5" fill="none" stroke="rgba(255,255,255,0.05)" stroke-width="0.9"/><circle cx="75" cy="-35" r="57" fill="none" stroke="rgba(0,0,0,0.07)" stroke-width="0.9"/><circle cx="75" cy="-35" r="58.5" fill="none" stroke="rgba(255,255,255,0.05)" stroke-width="0.9"/><circle cx="75" cy="-35" r="60" fill="none" stroke="rgba(0,0,0,0.07)" stroke-width="0.9"/><circle cx="75" cy="-35" r="61.5" fill="none" stroke="rgba(255,255,255,0.05)" stroke-width="0.9"/><circle cx="75" cy="-35" r="63" fill="none" stroke="rgba(0,0,0,0.07)" stroke-width="0.9"/><circle cx="75" cy="-35" r="64.5" fill="none" stroke="rgba(255,255,255,0.05)" stroke-width="0.9"/><circle cx="75" cy="-35" r="66" fill="none" stroke="rgba(0,0,0,0.07)" stroke-width="0.9"/><circle cx="75" cy="-35" r="67.5" fill="none" stroke="rgba(255,255,255,0.05)" stroke-width="0.9"/><circle cx="75" cy="-35" r="69" fill="none" stroke="rgba(0,0,0,0.07)" stroke-width="0.9"/><circle cx="75" cy="-35" r="70.5" fill="none" stroke="rgba(255,255,255,0.05)" stroke-width="0.9"/><circle cx="75" cy="-35" r="72" fill="none" stroke="rgba(0,0,0,0.07)" stroke-width="0.9"/><circle cx="75" cy="-35" r="73.5" fill="none" stroke="rgba(255,255,255,0.05)" stroke-width="0.9"/><circle cx="20" cy="95" r="55" fill="#b27340"/><circle cx="20" cy="95" r="3" fill="none" stroke="rgba(0,0,0,0.07)" stroke-width="0.9"/><circle cx="20" cy="95" r="4.5" fill="none" stroke="rgba(255,255,255,0.05)" stroke-width="0.9"/><circle cx="20" cy="95" r="6" fill="none" stroke="rgba(0,0,0,0.07)" stroke-width="0.9"/><circle cx="20" cy="95" r="7.5" fill="none" stroke="rgba(255,255,255,0.05)" stroke-width="0.9"/><circle cx="20" cy="95" r="9" fill="none" stroke="rgba(0,0,0,0.07)" stroke-width="0.9"/><circle cx="20" cy="95" r="10.5" fill="none" stroke="rgba(255,255,255,0.05)" stroke-width="0.9"/><circle cx="20" cy="95" r="12" fill="none" stroke="rgba(0,0,0,0.07)" stroke-width="0.9"/><circle cx="20" cy="95" r="13.5" fill="none" stroke="rgba(255,255,255,0.05)" stroke-width="0.9"/><circle cx="20" cy="95" r="15" fill="none" stroke="rgba(0,0,0,0.07)" stroke-width="0.9"/><circle cx="20" cy="95" r="16.5" fill="none" stroke="rgba(255,255,255,0.05)" stroke-width="0.9"/><circle cx="20" cy="95" r="18" fill="none" stroke="rgba(0,0,0,0.07)" stroke-width="0.9"/><circle cx="20" cy="95" r="19.5" fill="none" stroke="rgba(255,255,255,0.05)" stroke-width="0.9"/><circle cx="20" cy="95" r="21" fill="none" stroke="rgba(0,0,0,0.07)" stroke-width="0.9"/><circle cx="20" cy="95" r="22.5" fill="none" stroke="rgba(255,255,255,0.05)" stroke-width="0.9"/><circle cx="20" cy="95" r="24" fill="none" stroke="rgba(0,0,0,0.07)" stroke-width="0.9"/><circle cx="20" cy="95" r="25.5" fill="none" stroke="rgba(255,255,255,0.05)" stroke-width="0.9"/><circle cx="20" cy="95" r="27" fill="none" stroke="rgba(0,0,0,0.07)" stroke-width="0.9"/><circle cx="20" cy="95" r="28.5" fill="none" stroke="rgba(255,255,255,0.05)" stroke-width="0.9"/><circle cx="20" cy="95" r="30" fill="none" stroke="rgba(0,0,0,0.07)" stroke-width="0.9"/><circle cx="20" cy="95" r="31.5" fill="none" stroke="rgba(255,255,255,0.05)" stroke-width="0.9"/><circle cx="20" cy="95" r="33" fill="none" stroke="rgba(0,0,0,0.07)" stroke-width="0.9"/><circle cx="20" cy="95" r="34.5" fill="none" stroke="rgba(255,255,255,0.05)" stroke-width="0.9"/><circle cx="20" cy="95" r="36" fill="none" stroke="rgba(0,0,0,0.07)" stroke-width="0.9"/><circle cx="20" cy="95" r="37.5" fill="none" stroke="rgba(255,255,255,0.05)" stroke-width="0.9"/><circle cx="20" cy="95" r="39" fill="none" stroke="rgba(0,0,0,0.07)" stroke-width="0.9"/><circle cx="20" cy="95" r="40.5" fill="none" stroke="rgba(255,255,255,0.05)" stroke-width="0.9"/><circle cx="20" cy="95" r="42" fill="none" stroke="rgba(0,0,0,0.07)" stroke-width="0.9"/><circle cx="20" cy="95" r="43.5" fill="none" stroke="rgba(255,255,255,0.05)" stroke-width="0.9"/><circle cx="20" cy="95" r="45" fill="none" stroke="rgba(0,0,0,0.07)" stroke-width="0.9"/><circle cx="20" cy="95" r="46.5" fill="none" stroke="rgba(255,255,255,0.05)" stroke-width="0.9"/><circle cx="20" cy="95" r="48" fill="none" stroke="rgba(0,0,0,0.07)" stroke-width="0.9"/><circle cx="20" cy="95" r="49.5" fill="none" stroke="rgba(255,255,255,0.05)" stroke-width="0.9"/><circle cx="20" cy="95" r="51" fill="none" stroke="rgba(0,0,0,0.07)" stroke-width="0.9"/><circle cx="20" cy="95" r="52.5" fill="none" stroke="rgba(255,255,255,0.05)" stroke-width="0.9"/><circle cx="20" cy="95" r="54" fill="none" stroke="rgba(0,0,0,0.07)" stroke-width="0.9"/><circle cx="20" cy="95" r="55.5" fill="none" stroke="rgba(255,255,255,0.05)" stroke-width="0.9"/><circle cx="160" cy="95" r="70" fill="#b27340"/><circle cx="160" cy="95" r="3" fill="none" stroke="rgba(0,0,0,0.07)" stroke-width="0.9"/><circle cx="160" cy="95" r="4.5" fill="none" stroke="rgba(255,255,255,0.05)" stroke-width="0.9"/><circle cx="160" cy="95" r="6" fill="none" stroke="rgba(0,0,0,0.07)" stroke-width="0.9"/><circle cx="160" cy="95" r="7.5" fill="none" stroke="rgba(255,255,255,0.05)" stroke-width="0.9"/><circle cx="160" cy="95" r="9" fill="none" stroke="rgba(0,0,0,0.07)" stroke-width="0.9"/><circle cx="160" cy="95" r="10.5" fill="none" stroke="rgba(255,255,255,0.05)" stroke-width="0.9"/><circle cx="160" cy="95" r="12" fill="none" stroke="rgba(0,0,0,0.07)" stroke-width="0.9"/><circle cx="160" cy="95" r="13.5" fill="none" stroke="rgba(255,255,255,0.05)" stroke-width="0.9"/><circle cx="160" cy="95" r="15" fill="none" stroke="rgba(0,0,0,0.07)" stroke-width="0.9"/><circle cx="160" cy="95" r="16.5" fill="none" stroke="rgba(255,255,255,0.05)" stroke-width="0.9"/><circle cx="160" cy="95" r="18" fill="none" stroke="rgba(0,0,0,0.07)" stroke-width="0.9"/><circle cx="160" cy="95" r="19.5" fill="none" stroke="rgba(255,255,255,0.05)" stroke-width="0.9"/><circle cx="160" cy="95" r="21" fill="none" stroke="rgba(0,0,0,0.07)" stroke-width="0.9"/><circle cx="160" cy="95" r="22.5" fill="none" stroke="rgba(255,255,255,0.05)" stroke-width="0.9"/><circle cx="160" cy="95" r="24" fill="none" stroke="rgba(0,0,0,0.07)" stroke-width="0.9"/><circle cx="160" cy="95" r="25.5" fill="none" stroke="rgba(255,255,255,0.05)" stroke-width="0.9"/><circle cx="160" cy="95" r="27" fill="none" stroke="rgba(0,0,0,0.07)" stroke-width="0.9"/><circle cx="160" cy="95" r="28.5" fill="none" stroke="rgba(255,255,255,0.05)" stroke-width="0.9"/><circle cx="160" cy="95" r="30" fill="none" stroke="rgba(0,0,0,0.07)" stroke-width="0.9"/><circle cx="160" cy="95" r="31.5" fill="none" stroke="rgba(255,255,255,0.05)" stroke-width="0.9"/><circle cx="160" cy="95" r="33" fill="none" stroke="rgba(0,0,0,0.07)" stroke-width="0.9"/><circle cx="160" cy="95" r="34.5" fill="none" stroke="rgba(255,255,255,0.05)" stroke-width="0.9"/><circle cx="160" cy="95" r="36" fill="none" stroke="rgba(0,0,0,0.07)" stroke-width="0.9"/><circle cx="160" cy="95" r="37.5" fill="none" stroke="rgba(255,255,255,0.05)" stroke-width="0.9"/><circle cx="160" cy="95" r="39" fill="none" stroke="rgba(0,0,0,0.07)" stroke-width="0.9"/><circle cx="160" cy="95" r="40.5" fill="none" stroke="rgba(255,255,255,0.05)" stroke-width="0.9"/><circle cx="160" cy="95" r="42" fill="none" stroke="rgba(0,0,0,0.07)" stroke-width="0.9"/><circle cx="160" cy="95" r="43.5" fill="none" stroke="rgba(255,255,255,0.05)" stroke-width="0.9"/><circle cx="160" cy="95" r="45" fill="none" stroke="rgba(0,0,0,0.07)" stroke-width="0.9"/><circle cx="160" cy="95" r="46.5" fill="none" stroke="rgba(255,255,255,0.05)" stroke-width="0.9"/><circle cx="160" cy="95" r="48" fill="none" stroke="rgba(0,0,0,0.07)" stroke-width="0.9"/><circle cx="160" cy="95" r="49.5" fill="none" stroke="rgba(255,255,255,0.05)" stroke-width="0.9"/><circle cx="160" cy="95" r="51" fill="none" stroke="rgba(0,0,0,0.07)" stroke-width="0.9"/><circle cx="160" cy="95" r="52.5" fill="none" stroke="rgba(255,255,255,0.05)" stroke-width="0.9"/><circle cx="160" cy="95" r="54" fill="none" stroke="rgba(0,0,0,0.07)" stroke-width="0.9"/><circle cx="160" cy="95" r="55.5" fill="none" stroke="rgba(255,255,255,0.05)" stroke-width="0.9"/><circle cx="160" cy="95" r="57" fill="none" stroke="rgba(0,0,0,0.07)" stroke-width="0.9"/><circle cx="160" cy="95" r="58.5" fill="none" stroke="rgba(255,255,255,0.05)" stroke-width="0.9"/><circle cx="160" cy="95" r="60" fill="none" stroke="rgba(0,0,0,0.07)" stroke-width="0.9"/><circle cx="160" cy="95" r="61.5" fill="none" stroke="rgba(255,255,255,0.05)" stroke-width="0.9"/><circle cx="160" cy="95" r="63" fill="none" stroke="rgba(0,0,0,0.07)" stroke-width="0.9"/><circle cx="160" cy="95" r="64.5" fill="none" stroke="rgba(255,255,255,0.05)" stroke-width="0.9"/><circle cx="160" cy="95" r="66" fill="none" stroke="rgba(0,0,0,0.07)" stroke-width="0.9"/><circle cx="160" cy="95" r="67.5" fill="none" stroke="rgba(255,255,255,0.05)" stroke-width="0.9"/><circle cx="160" cy="95" r="69" fill="none" stroke="rgba(0,0,0,0.07)" stroke-width="0.9"/><circle cx="160" cy="95" r="70.5" fill="none" stroke="rgba(255,255,255,0.05)" stroke-width="0.9"/><circle cx="95" cy="110" r="45" fill="#b27340"/><circle cx="95" cy="110" r="3" fill="none" stroke="rgba(0,0,0,0.07)" stroke-width="0.9"/><circle cx="95" cy="110" r="4.5" fill="none" stroke="rgba(255,255,255,0.05)" stroke-width="0.9"/><circle cx="95" cy="110" r="6" fill="none" stroke="rgba(0,0,0,0.07)" stroke-width="0.9"/><circle cx="95" cy="110" r="7.5" fill="none" stroke="rgba(255,255,255,0.05)" stroke-width="0.9"/><circle cx="95" cy="110" r="9" fill="none" stroke="rgba(0,0,0,0.07)" stroke-width="0.9"/><circle cx="95" cy="110" r="10.5" fill="none" stroke="rgba(255,255,255,0.05)" stroke-width="0.9"/><circle cx="95" cy="110" r="12" fill="none" stroke="rgba(0,0,0,0.07)" stroke-width="0.9"/><circle cx="95" cy="110" r="13.5" fill="none" stroke="rgba(255,255,255,0.05)" stroke-width="0.9"/><circle cx="95" cy="110" r="15" fill="none" stroke="rgba(0,0,0,0.07)" stroke-width="0.9"/><circle cx="95" cy="110" r="16.5" fill="none" stroke="rgba(255,255,255,0.05)" stroke-width="0.9"/><circle cx="95" cy="110" r="18" fill="none" stroke="rgba(0,0,0,0.07)" stroke-width="0.9"/><circle cx="95" cy="110" r="19.5" fill="none" stroke="rgba(255,255,255,0.05)" stroke-width="0.9"/><circle cx="95" cy="110" r="21" fill="none" stroke="rgba(0,0,0,0.07)" stroke-width="0.9"/><circle cx="95" cy="110" r="22.5" fill="none" stroke="rgba(255,255,255,0.05)" stroke-width="0.9"/><circle cx="95" cy="110" r="24" fill="none" stroke="rgba(0,0,0,0.07)" stroke-width="0.9"/><circle cx="95" cy="110" r="25.5" fill="none" stroke="rgba(255,255,255,0.05)" stroke-width="0.9"/><circle cx="95" cy="110" r="27" fill="none" stroke="rgba(0,0,0,0.07)" stroke-width="0.9"/><circle cx="95" cy="110" r="28.5" fill="none" stroke="rgba(255,255,255,0.05)" stroke-width="0.9"/><circle cx="95" cy="110" r="30" fill="none" stroke="rgba(0,0,0,0.07)" stroke-width="0.9"/><circle cx="95" cy="110" r="31.5" fill="none" stroke="rgba(255,255,255,0.05)" stroke-width="0.9"/><circle cx="95" cy="110" r="33" fill="none" stroke="rgba(0,0,0,0.07)" stroke-width="0.9"/><circle cx="95" cy="110" r="34.5" fill="none" stroke="rgba(255,255,255,0.05)" stroke-width="0.9"/><circle cx="95" cy="110" r="36" fill="none" stroke="rgba(0,0,0,0.07)" stroke-width="0.9"/><circle cx="95" cy="110" r="37.5" fill="none" stroke="rgba(255,255,255,0.05)" stroke-width="0.9"/><circle cx="95" cy="110" r="39" fill="none" stroke="rgba(0,0,0,0.07)" stroke-width="0.9"/><circle cx="95" cy="110" r="40.5" fill="none" stroke="rgba(255,255,255,0.05)" stroke-width="0.9"/><circle cx="95" cy="110" r="42" fill="none" stroke="rgba(0,0,0,0.07)" stroke-width="0.9"/><circle cx="95" cy="110" r="43.5" fill="none" stroke="rgba(255,255,255,0.05)" stroke-width="0.9"/></g></svg><svg style="position:absolute;left:666.5px;top:174.5px" width="24" height="22" viewBox="0 0 24 22"><path d="M10 19H2V1.5h21v7" fill="none" stroke="#fff" stroke-width="2.2"/><path d="M5 6h2M9 6h9M5 10h2M9 10h7M5 14h2M9 14h3" stroke="#fff" stroke-width="1.8"/><path d="M13.5 18.5l7-7 2.6 2.6-7 7h-2.6z" fill="none" stroke="#fff" stroke-width="1.8"/><path d="M16 17.5l2.5-2.5" stroke="#fff" stroke-width="1.2"/></svg><div style="position:absolute;left:766px;top:159px;width:155px;height:77px;background:#7b8292;border-radius:3px"></div><svg style="position:absolute;left:766px;top:159px;border-radius:3px" width="155" height="77"><defs><clipPath id="tc766"><rect width="155" height="77" rx="3"/></clipPath></defs><g clip-path="url(#tc766)"><circle cx="-10" cy="-5" r="70" fill="#7b8292"/><circle cx="-10" cy="-5" r="3" fill="none" stroke="rgba(0,0,0,0.07)" stroke-width="0.9"/><circle cx="-10" cy="-5" r="4.5" fill="none" stroke="rgba(255,255,255,0.05)" stroke-width="0.9"/><circle cx="-10" cy="-5" r="6" fill="none" stroke="rgba(0,0,0,0.07)" stroke-width="0.9"/><circle cx="-10" cy="-5" r="7.5" fill="none" stroke="rgba(255,255,255,0.05)" stroke-width="0.9"/><circle cx="-10" cy="-5" r="9" fill="none" stroke="rgba(0,0,0,0.07)" stroke-width="0.9"/><circle cx="-10" cy="-5" r="10.5" fill="none" stroke="rgba(255,255,255,0.05)" stroke-width="0.9"/><circle cx="-10" cy="-5" r="12" fill="none" stroke="rgba(0,0,0,0.07)" stroke-width="0.9"/><circle cx="-10" cy="-5" r="13.5" fill="none" stroke="rgba(255,255,255,0.05)" stroke-width="0.9"/><circle cx="-10" cy="-5" r="15" fill="none" stroke="rgba(0,0,0,0.07)" stroke-width="0.9"/><circle cx="-10" cy="-5" r="16.5" fill="none" stroke="rgba(255,255,255,0.05)" stroke-width="0.9"/><circle cx="-10" cy="-5" r="18" fill="none" stroke="rgba(0,0,0,0.07)" stroke-width="0.9"/><circle cx="-10" cy="-5" r="19.5" fill="none" stroke="rgba(255,255,255,0.05)" stroke-width="0.9"/><circle cx="-10" cy="-5" r="21" fill="none" stroke="rgba(0,0,0,0.07)" stroke-width="0.9"/><circle cx="-10" cy="-5" r="22.5" fill="none" stroke="rgba(255,255,255,0.05)" stroke-width="0.9"/><circle cx="-10" cy="-5" r="24" fill="none" stroke="rgba(0,0,0,0.07)" stroke-width="0.9"/><circle cx="-10" cy="-5" r="25.5" fill="none" stroke="rgba(255,255,255,0.05)" stroke-width="0.9"/><circle cx="-10" cy="-5" r="27" fill="none" stroke="rgba(0,0,0,0.07)" stroke-width="0.9"/><circle cx="-10" cy="-5" r="28.5" fill="none" stroke="rgba(255,255,255,0.05)" stroke-width="0.9"/><circle cx="-10" cy="-5" r="30" fill="none" stroke="rgba(0,0,0,0.07)" stroke-width="0.9"/><circle cx="-10" cy="-5" r="31.5" fill="none" stroke="rgba(255,255,255,0.05)" stroke-width="0.9"/><circle cx="-10" cy="-5" r="33" fill="none" stroke="rgba(0,0,0,0.07)" stroke-width="0.9"/><circle cx="-10" cy="-5" r="34.5" fill="none" stroke="rgba(255,255,255,0.05)" stroke-width="0.9"/><circle cx="-10" cy="-5" r="36" fill="none" stroke="rgba(0,0,0,0.07)" stroke-width="0.9"/><circle cx="-10" cy="-5" r="37.5" fill="none" stroke="rgba(255,255,255,0.05)" stroke-width="0.9"/><circle cx="-10" cy="-5" r="39" fill="none" stroke="rgba(0,0,0,0.07)" stroke-width="0.9"/><circle cx="-10" cy="-5" r="40.5" fill="none" stroke="rgba(255,255,255,0.05)" stroke-width="0.9"/><circle cx="-10" cy="-5" r="42" fill="none" stroke="rgba(0,0,0,0.07)" stroke-width="0.9"/><circle cx="-10" cy="-5" r="43.5" fill="none" stroke="rgba(255,255,255,0.05)" stroke-width="0.9"/><circle cx="-10" cy="-5" r="45" fill="none" stroke="rgba(0,0,0,0.07)" stroke-width="0.9"/><circle cx="-10" cy="-5" r="46.5" fill="none" stroke="rgba(255,255,255,0.05)" stroke-width="0.9"/><circle cx="-10" cy="-5" r="48" fill="none" stroke="rgba(0,0,0,0.07)" stroke-width="0.9"/><circle cx="-10" cy="-5" r="49.5" fill="none" stroke="rgba(255,255,255,0.05)" stroke-width="0.9"/><circle cx="-10" cy="-5" r="51" fill="none" stroke="rgba(0,0,0,0.07)" stroke-width="0.9"/><circle cx="-10" cy="-5" r="52.5" fill="none" stroke="rgba(255,255,255,0.05)" stroke-width="0.9"/><circle cx="-10" cy="-5" r="54" fill="none" stroke="rgba(0,0,0,0.07)" stroke-width="0.9"/><circle cx="-10" cy="-5" r="55.5" fill="none" stroke="rgba(255,255,255,0.05)" stroke-width="0.9"/><circle cx="-10" cy="-5" r="57" fill="none" stroke="rgba(0,0,0,0.07)" stroke-width="0.9"/><circle cx="-10" cy="-5" r="58.5" fill="none" stroke="rgba(255,255,255,0.05)" stroke-width="0.9"/><circle cx="-10" cy="-5" r="60" fill="none" stroke="rgba(0,0,0,0.07)" stroke-width="0.9"/><circle cx="-10" cy="-5" r="61.5" fill="none" stroke="rgba(255,255,255,0.05)" stroke-width="0.9"/><circle cx="-10" cy="-5" r="63" fill="none" stroke="rgba(0,0,0,0.07)" stroke-width="0.9"/><circle cx="-10" cy="-5" r="64.5" fill="none" stroke="rgba(255,255,255,0.05)" stroke-width="0.9"/><circle cx="-10" cy="-5" r="66" fill="none" stroke="rgba(0,0,0,0.07)" stroke-width="0.9"/><circle cx="-10" cy="-5" r="67.5" fill="none" stroke="rgba(255,255,255,0.05)" stroke-width="0.9"/><circle cx="-10" cy="-5" r="69" fill="none" stroke="rgba(0,0,0,0.07)" stroke-width="0.9"/><circle cx="-10" cy="-5" r="70.5" fill="none" stroke="rgba(255,255,255,0.05)" stroke-width="0.9"/><circle cx="150" cy="-10" r="60" fill="#7b8292"/><circle cx="150" cy="-10" r="3" fill="none" stroke="rgba(0,0,0,0.07)" stroke-width="0.9"/><circle cx="150" cy="-10" r="4.5" fill="none" stroke="rgba(255,255,255,0.05)" stroke-width="0.9"/><circle cx="150" cy="-10" r="6" fill="none" stroke="rgba(0,0,0,0.07)" stroke-width="0.9"/><circle cx="150" cy="-10" r="7.5" fill="none" stroke="rgba(255,255,255,0.05)" stroke-width="0.9"/><circle cx="150" cy="-10" r="9" fill="none" stroke="rgba(0,0,0,0.07)" stroke-width="0.9"/><circle cx="150" cy="-10" r="10.5" fill="none" stroke="rgba(255,255,255,0.05)" stroke-width="0.9"/><circle cx="150" cy="-10" r="12" fill="none" stroke="rgba(0,0,0,0.07)" stroke-width="0.9"/><circle cx="150" cy="-10" r="13.5" fill="none" stroke="rgba(255,255,255,0.05)" stroke-width="0.9"/><circle cx="150" cy="-10" r="15" fill="none" stroke="rgba(0,0,0,0.07)" stroke-width="0.9"/><circle cx="150" cy="-10" r="16.5" fill="none" stroke="rgba(255,255,255,0.05)" stroke-width="0.9"/><circle cx="150" cy="-10" r="18" fill="none" stroke="rgba(0,0,0,0.07)" stroke-width="0.9"/><circle cx="150" cy="-10" r="19.5" fill="none" stroke="rgba(255,255,255,0.05)" stroke-width="0.9"/><circle cx="150" cy="-10" r="21" fill="none" stroke="rgba(0,0,0,0.07)" stroke-width="0.9"/><circle cx="150" cy="-10" r="22.5" fill="none" stroke="rgba(255,255,255,0.05)" stroke-width="0.9"/><circle cx="150" cy="-10" r="24" fill="none" stroke="rgba(0,0,0,0.07)" stroke-width="0.9"/><circle cx="150" cy="-10" r="25.5" fill="none" stroke="rgba(255,255,255,0.05)" stroke-width="0.9"/><circle cx="150" cy="-10" r="27" fill="none" stroke="rgba(0,0,0,0.07)" stroke-width="0.9"/><circle cx="150" cy="-10" r="28.5" fill="none" stroke="rgba(255,255,255,0.05)" stroke-width="0.9"/><circle cx="150" cy="-10" r="30" fill="none" stroke="rgba(0,0,0,0.07)" stroke-width="0.9"/><circle cx="150" cy="-10" r="31.5" fill="none" stroke="rgba(255,255,255,0.05)" stroke-width="0.9"/><circle cx="150" cy="-10" r="33" fill="none" stroke="rgba(0,0,0,0.07)" stroke-width="0.9"/><circle cx="150" cy="-10" r="34.5" fill="none" stroke="rgba(255,255,255,0.05)" stroke-width="0.9"/><circle cx="150" cy="-10" r="36" fill="none" stroke="rgba(0,0,0,0.07)" stroke-width="0.9"/><circle cx="150" cy="-10" r="37.5" fill="none" stroke="rgba(255,255,255,0.05)" stroke-width="0.9"/><circle cx="150" cy="-10" r="39" fill="none" stroke="rgba(0,0,0,0.07)" stroke-width="0.9"/><circle cx="150" cy="-10" r="40.5" fill="none" stroke="rgba(255,255,255,0.05)" stroke-width="0.9"/><circle cx="150" cy="-10" r="42" fill="none" stroke="rgba(0,0,0,0.07)" stroke-width="0.9"/><circle cx="150" cy="-10" r="43.5" fill="none" stroke="rgba(255,255,255,0.05)" stroke-width="0.9"/><circle cx="150" cy="-10" r="45" fill="none" stroke="rgba(0,0,0,0.07)" stroke-width="0.9"/><circle cx="150" cy="-10" r="46.5" fill="none" stroke="rgba(255,255,255,0.05)" stroke-width="0.9"/><circle cx="150" cy="-10" r="48" fill="none" stroke="rgba(0,0,0,0.07)" stroke-width="0.9"/><circle cx="150" cy="-10" r="49.5" fill="none" stroke="rgba(255,255,255,0.05)" stroke-width="0.9"/><circle cx="150" cy="-10" r="51" fill="none" stroke="rgba(0,0,0,0.07)" stroke-width="0.9"/><circle cx="150" cy="-10" r="52.5" fill="none" stroke="rgba(255,255,255,0.05)" stroke-width="0.9"/><circle cx="150" cy="-10" r="54" fill="none" stroke="rgba(0,0,0,0.07)" stroke-width="0.9"/><circle cx="150" cy="-10" r="55.5" fill="none" stroke="rgba(255,255,255,0.05)" stroke-width="0.9"/><circle cx="150" cy="-10" r="57" fill="none" stroke="rgba(0,0,0,0.07)" stroke-width="0.9"/><circle cx="150" cy="-10" r="58.5" fill="none" stroke="rgba(255,255,255,0.05)" stroke-width="0.9"/><circle cx="75" cy="-35" r="75" fill="#7b8292"/><circle cx="75" cy="-35" r="3" fill="none" stroke="rgba(0,0,0,0.07)" stroke-width="0.9"/><circle cx="75" cy="-35" r="4.5" fill="none" stroke="rgba(255,255,255,0.05)" stroke-width="0.9"/><circle cx="75" cy="-35" r="6" fill="none" stroke="rgba(0,0,0,0.07)" stroke-width="0.9"/><circle cx="75" cy="-35" r="7.5" fill="none" stroke="rgba(255,255,255,0.05)" stroke-width="0.9"/><circle cx="75" cy="-35" r="9" fill="none" stroke="rgba(0,0,0,0.07)" stroke-width="0.9"/><circle cx="75" cy="-35" r="10.5" fill="none" stroke="rgba(255,255,255,0.05)" stroke-width="0.9"/><circle cx="75" cy="-35" r="12" fill="none" stroke="rgba(0,0,0,0.07)" stroke-width="0.9"/><circle cx="75" cy="-35" r="13.5" fill="none" stroke="rgba(255,255,255,0.05)" stroke-width="0.9"/><circle cx="75" cy="-35" r="15" fill="none" stroke="rgba(0,0,0,0.07)" stroke-width="0.9"/><circle cx="75" cy="-35" r="16.5" fill="none" stroke="rgba(255,255,255,0.05)" stroke-width="0.9"/><circle cx="75" cy="-35" r="18" fill="none" stroke="rgba(0,0,0,0.07)" stroke-width="0.9"/><circle cx="75" cy="-35" r="19.5" fill="none" stroke="rgba(255,255,255,0.05)" stroke-width="0.9"/><circle cx="75" cy="-35" r="21" fill="none" stroke="rgba(0,0,0,0.07)" stroke-width="0.9"/><circle cx="75" cy="-35" r="22.5" fill="none" stroke="rgba(255,255,255,0.05)" stroke-width="0.9"/><circle cx="75" cy="-35" r="24" fill="none" stroke="rgba(0,0,0,0.07)" stroke-width="0.9"/><circle cx="75" cy="-35" r="25.5" fill="none" stroke="rgba(255,255,255,0.05)" stroke-width="0.9"/><circle cx="75" cy="-35" r="27" fill="none" stroke="rgba(0,0,0,0.07)" stroke-width="0.9"/><circle cx="75" cy="-35" r="28.5" fill="none" stroke="rgba(255,255,255,0.05)" stroke-width="0.9"/><circle cx="75" cy="-35" r="30" fill="none" stroke="rgba(0,0,0,0.07)" stroke-width="0.9"/><circle cx="75" cy="-35" r="31.5" fill="none" stroke="rgba(255,255,255,0.05)" stroke-width="0.9"/><circle cx="75" cy="-35" r="33" fill="none" stroke="rgba(0,0,0,0.07)" stroke-width="0.9"/><circle cx="75" cy="-35" r="34.5" fill="none" stroke="rgba(255,255,255,0.05)" stroke-width="0.9"/><circle cx="75" cy="-35" r="36" fill="none" stroke="rgba(0,0,0,0.07)" stroke-width="0.9"/><circle cx="75" cy="-35" r="37.5" fill="none" stroke="rgba(255,255,255,0.05)" stroke-width="0.9"/><circle cx="75" cy="-35" r="39" fill="none" stroke="rgba(0,0,0,0.07)" stroke-width="0.9"/><circle cx="75" cy="-35" r="40.5" fill="none" stroke="rgba(255,255,255,0.05)" stroke-width="0.9"/><circle cx="75" cy="-35" r="42" fill="none" stroke="rgba(0,0,0,0.07)" stroke-width="0.9"/><circle cx="75" cy="-35" r="43.5" fill="none" stroke="rgba(255,255,255,0.05)" stroke-width="0.9"/><circle cx="75" cy="-35" r="45" fill="none" stroke="rgba(0,0,0,0.07)" stroke-width="0.9"/><circle cx="75" cy="-35" r="46.5" fill="none" stroke="rgba(255,255,255,0.05)" stroke-width="0.9"/><circle cx="75" cy="-35" r="48" fill="none" stroke="rgba(0,0,0,0.07)" stroke-width="0.9"/><circle cx="75" cy="-35" r="49.5" fill="none" stroke="rgba(255,255,255,0.05)" stroke-width="0.9"/><circle cx="75" cy="-35" r="51" fill="none" stroke="rgba(0,0,0,0.07)" stroke-width="0.9"/><circle cx="75" cy="-35" r="52.5" fill="none" stroke="rgba(255,255,255,0.05)" stroke-width="0.9"/><circle cx="75" cy="-35" r="54" fill="none" stroke="rgba(0,0,0,0.07)" stroke-width="0.9"/><circle cx="75" cy="-35" r="55.5" fill="none" stroke="rgba(255,255,255,0.05)" stroke-width="0.9"/><circle cx="75" cy="-35" r="57" fill="none" stroke="rgba(0,0,0,0.07)" stroke-width="0.9"/><circle cx="75" cy="-35" r="58.5" fill="none" stroke="rgba(255,255,255,0.05)" stroke-width="0.9"/><circle cx="75" cy="-35" r="60" fill="none" stroke="rgba(0,0,0,0.07)" stroke-width="0.9"/><circle cx="75" cy="-35" r="61.5" fill="none" stroke="rgba(255,255,255,0.05)" stroke-width="0.9"/><circle cx="75" cy="-35" r="63" fill="none" stroke="rgba(0,0,0,0.07)" stroke-width="0.9"/><circle cx="75" cy="-35" r="64.5" fill="none" stroke="rgba(255,255,255,0.05)" stroke-width="0.9"/><circle cx="75" cy="-35" r="66" fill="none" stroke="rgba(0,0,0,0.07)" stroke-width="0.9"/><circle cx="75" cy="-35" r="67.5" fill="none" stroke="rgba(255,255,255,0.05)" stroke-width="0.9"/><circle cx="75" cy="-35" r="69" fill="none" stroke="rgba(0,0,0,0.07)" stroke-width="0.9"/><circle cx="75" cy="-35" r="70.5" fill="none" stroke="rgba(255,255,255,0.05)" stroke-width="0.9"/><circle cx="75" cy="-35" r="72" fill="none" stroke="rgba(0,0,0,0.07)" stroke-width="0.9"/><circle cx="75" cy="-35" r="73.5" fill="none" stroke="rgba(255,255,255,0.05)" stroke-width="0.9"/><circle cx="20" cy="95" r="55" fill="#7b8292"/><circle cx="20" cy="95" r="3" fill="none" stroke="rgba(0,0,0,0.07)" stroke-width="0.9"/><circle cx="20" cy="95" r="4.5" fill="none" stroke="rgba(255,255,255,0.05)" stroke-width="0.9"/><circle cx="20" cy="95" r="6" fill="none" stroke="rgba(0,0,0,0.07)" stroke-width="0.9"/><circle cx="20" cy="95" r="7.5" fill="none" stroke="rgba(255,255,255,0.05)" stroke-width="0.9"/><circle cx="20" cy="95" r="9" fill="none" stroke="rgba(0,0,0,0.07)" stroke-width="0.9"/><circle cx="20" cy="95" r="10.5" fill="none" stroke="rgba(255,255,255,0.05)" stroke-width="0.9"/><circle cx="20" cy="95" r="12" fill="none" stroke="rgba(0,0,0,0.07)" stroke-width="0.9"/><circle cx="20" cy="95" r="13.5" fill="none" stroke="rgba(255,255,255,0.05)" stroke-width="0.9"/><circle cx="20" cy="95" r="15" fill="none" stroke="rgba(0,0,0,0.07)" stroke-width="0.9"/><circle cx="20" cy="95" r="16.5" fill="none" stroke="rgba(255,255,255,0.05)" stroke-width="0.9"/><circle cx="20" cy="95" r="18" fill="none" stroke="rgba(0,0,0,0.07)" stroke-width="0.9"/><circle cx="20" cy="95" r="19.5" fill="none" stroke="rgba(255,255,255,0.05)" stroke-width="0.9"/><circle cx="20" cy="95" r="21" fill="none" stroke="rgba(0,0,0,0.07)" stroke-width="0.9"/><circle cx="20" cy="95" r="22.5" fill="none" stroke="rgba(255,255,255,0.05)" stroke-width="0.9"/><circle cx="20" cy="95" r="24" fill="none" stroke="rgba(0,0,0,0.07)" stroke-width="0.9"/><circle cx="20" cy="95" r="25.5" fill="none" stroke="rgba(255,255,255,0.05)" stroke-width="0.9"/><circle cx="20" cy="95" r="27" fill="none" stroke="rgba(0,0,0,0.07)" stroke-width="0.9"/><circle cx="20" cy="95" r="28.5" fill="none" stroke="rgba(255,255,255,0.05)" stroke-width="0.9"/><circle cx="20" cy="95" r="30" fill="none" stroke="rgba(0,0,0,0.07)" stroke-width="0.9"/><circle cx="20" cy="95" r="31.5" fill="none" stroke="rgba(255,255,255,0.05)" stroke-width="0.9"/><circle cx="20" cy="95" r="33" fill="none" stroke="rgba(0,0,0,0.07)" stroke-width="0.9"/><circle cx="20" cy="95" r="34.5" fill="none" stroke="rgba(255,255,255,0.05)" stroke-width="0.9"/><circle cx="20" cy="95" r="36" fill="none" stroke="rgba(0,0,0,0.07)" stroke-width="0.9"/><circle cx="20" cy="95" r="37.5" fill="none" stroke="rgba(255,255,255,0.05)" stroke-width="0.9"/><circle cx="20" cy="95" r="39" fill="none" stroke="rgba(0,0,0,0.07)" stroke-width="0.9"/><circle cx="20" cy="95" r="40.5" fill="none" stroke="rgba(255,255,255,0.05)" stroke-width="0.9"/><circle cx="20" cy="95" r="42" fill="none" stroke="rgba(0,0,0,0.07)" stroke-width="0.9"/><circle cx="20" cy="95" r="43.5" fill="none" stroke="rgba(255,255,255,0.05)" stroke-width="0.9"/><circle cx="20" cy="95" r="45" fill="none" stroke="rgba(0,0,0,0.07)" stroke-width="0.9"/><circle cx="20" cy="95" r="46.5" fill="none" stroke="rgba(255,255,255,0.05)" stroke-width="0.9"/><circle cx="20" cy="95" r="48" fill="none" stroke="rgba(0,0,0,0.07)" stroke-width="0.9"/><circle cx="20" cy="95" r="49.5" fill="none" stroke="rgba(255,255,255,0.05)" stroke-width="0.9"/><circle cx="20" cy="95" r="51" fill="none" stroke="rgba(0,0,0,0.07)" stroke-width="0.9"/><circle cx="20" cy="95" r="52.5" fill="none" stroke="rgba(255,255,255,0.05)" stroke-width="0.9"/><circle cx="20" cy="95" r="54" fill="none" stroke="rgba(0,0,0,0.07)" stroke-width="0.9"/><circle cx="20" cy="95" r="55.5" fill="none" stroke="rgba(255,255,255,0.05)" stroke-width="0.9"/><circle cx="160" cy="95" r="70" fill="#7b8292"/><circle cx="160" cy="95" r="3" fill="none" stroke="rgba(0,0,0,0.07)" stroke-width="0.9"/><circle cx="160" cy="95" r="4.5" fill="none" stroke="rgba(255,255,255,0.05)" stroke-width="0.9"/><circle cx="160" cy="95" r="6" fill="none" stroke="rgba(0,0,0,0.07)" stroke-width="0.9"/><circle cx="160" cy="95" r="7.5" fill="none" stroke="rgba(255,255,255,0.05)" stroke-width="0.9"/><circle cx="160" cy="95" r="9" fill="none" stroke="rgba(0,0,0,0.07)" stroke-width="0.9"/><circle cx="160" cy="95" r="10.5" fill="none" stroke="rgba(255,255,255,0.05)" stroke-width="0.9"/><circle cx="160" cy="95" r="12" fill="none" stroke="rgba(0,0,0,0.07)" stroke-width="0.9"/><circle cx="160" cy="95" r="13.5" fill="none" stroke="rgba(255,255,255,0.05)" stroke-width="0.9"/><circle cx="160" cy="95" r="15" fill="none" stroke="rgba(0,0,0,0.07)" stroke-width="0.9"/><circle cx="160" cy="95" r="16.5" fill="none" stroke="rgba(255,255,255,0.05)" stroke-width="0.9"/><circle cx="160" cy="95" r="18" fill="none" stroke="rgba(0,0,0,0.07)" stroke-width="0.9"/><circle cx="160" cy="95" r="19.5" fill="none" stroke="rgba(255,255,255,0.05)" stroke-width="0.9"/><circle cx="160" cy="95" r="21" fill="none" stroke="rgba(0,0,0,0.07)" stroke-width="0.9"/><circle cx="160" cy="95" r="22.5" fill="none" stroke="rgba(255,255,255,0.05)" stroke-width="0.9"/><circle cx="160" cy="95" r="24" fill="none" stroke="rgba(0,0,0,0.07)" stroke-width="0.9"/><circle cx="160" cy="95" r="25.5" fill="none" stroke="rgba(255,255,255,0.05)" stroke-width="0.9"/><circle cx="160" cy="95" r="27" fill="none" stroke="rgba(0,0,0,0.07)" stroke-width="0.9"/><circle cx="160" cy="95" r="28.5" fill="none" stroke="rgba(255,255,255,0.05)" stroke-width="0.9"/><circle cx="160" cy="95" r="30" fill="none" stroke="rgba(0,0,0,0.07)" stroke-width="0.9"/><circle cx="160" cy="95" r="31.5" fill="none" stroke="rgba(255,255,255,0.05)" stroke-width="0.9"/><circle cx="160" cy="95" r="33" fill="none" stroke="rgba(0,0,0,0.07)" stroke-width="0.9"/><circle cx="160" cy="95" r="34.5" fill="none" stroke="rgba(255,255,255,0.05)" stroke-width="0.9"/><circle cx="160" cy="95" r="36" fill="none" stroke="rgba(0,0,0,0.07)" stroke-width="0.9"/><circle cx="160" cy="95" r="37.5" fill="none" stroke="rgba(255,255,255,0.05)" stroke-width="0.9"/><circle cx="160" cy="95" r="39" fill="none" stroke="rgba(0,0,0,0.07)" stroke-width="0.9"/><circle cx="160" cy="95" r="40.5" fill="none" stroke="rgba(255,255,255,0.05)" stroke-width="0.9"/><circle cx="160" cy="95" r="42" fill="none" stroke="rgba(0,0,0,0.07)" stroke-width="0.9"/><circle cx="160" cy="95" r="43.5" fill="none" stroke="rgba(255,255,255,0.05)" stroke-width="0.9"/><circle cx="160" cy="95" r="45" fill="none" stroke="rgba(0,0,0,0.07)" stroke-width="0.9"/><circle cx="160" cy="95" r="46.5" fill="none" stroke="rgba(255,255,255,0.05)" stroke-width="0.9"/><circle cx="160" cy="95" r="48" fill="none" stroke="rgba(0,0,0,0.07)" stroke-width="0.9"/><circle cx="160" cy="95" r="49.5" fill="none" stroke="rgba(255,255,255,0.05)" stroke-width="0.9"/><circle cx="160" cy="95" r="51" fill="none" stroke="rgba(0,0,0,0.07)" stroke-width="0.9"/><circle cx="160" cy="95" r="52.5" fill="none" stroke="rgba(255,255,255,0.05)" stroke-width="0.9"/><circle cx="160" cy="95" r="54" fill="none" stroke="rgba(0,0,0,0.07)" stroke-width="0.9"/><circle cx="160" cy="95" r="55.5" fill="none" stroke="rgba(255,255,255,0.05)" stroke-width="0.9"/><circle cx="160" cy="95" r="57" fill="none" stroke="rgba(0,0,0,0.07)" stroke-width="0.9"/><circle cx="160" cy="95" r="58.5" fill="none" stroke="rgba(255,255,255,0.05)" stroke-width="0.9"/><circle cx="160" cy="95" r="60" fill="none" stroke="rgba(0,0,0,0.07)" stroke-width="0.9"/><circle cx="160" cy="95" r="61.5" fill="none" stroke="rgba(255,255,255,0.05)" stroke-width="0.9"/><circle cx="160" cy="95" r="63" fill="none" stroke="rgba(0,0,0,0.07)" stroke-width="0.9"/><circle cx="160" cy="95" r="64.5" fill="none" stroke="rgba(255,255,255,0.05)" stroke-width="0.9"/><circle cx="160" cy="95" r="66" fill="none" stroke="rgba(0,0,0,0.07)" stroke-width="0.9"/><circle cx="160" cy="95" r="67.5" fill="none" stroke="rgba(255,255,255,0.05)" stroke-width="0.9"/><circle cx="160" cy="95" r="69" fill="none" stroke="rgba(0,0,0,0.07)" stroke-width="0.9"/><circle cx="160" cy="95" r="70.5" fill="none" stroke="rgba(255,255,255,0.05)" stroke-width="0.9"/><circle cx="95" cy="110" r="45" fill="#7b8292"/><circle cx="95" cy="110" r="3" fill="none" stroke="rgba(0,0,0,0.07)" stroke-width="0.9"/><circle cx="95" cy="110" r="4.5" fill="none" stroke="rgba(255,255,255,0.05)" stroke-width="0.9"/><circle cx="95" cy="110" r="6" fill="none" stroke="rgba(0,0,0,0.07)" stroke-width="0.9"/><circle cx="95" cy="110" r="7.5" fill="none" stroke="rgba(255,255,255,0.05)" stroke-width="0.9"/><circle cx="95" cy="110" r="9" fill="none" stroke="rgba(0,0,0,0.07)" stroke-width="0.9"/><circle cx="95" cy="110" r="10.5" fill="none" stroke="rgba(255,255,255,0.05)" stroke-width="0.9"/><circle cx="95" cy="110" r="12" fill="none" stroke="rgba(0,0,0,0.07)" stroke-width="0.9"/><circle cx="95" cy="110" r="13.5" fill="none" stroke="rgba(255,255,255,0.05)" stroke-width="0.9"/><circle cx="95" cy="110" r="15" fill="none" stroke="rgba(0,0,0,0.07)" stroke-width="0.9"/><circle cx="95" cy="110" r="16.5" fill="none" stroke="rgba(255,255,255,0.05)" stroke-width="0.9"/><circle cx="95" cy="110" r="18" fill="none" stroke="rgba(0,0,0,0.07)" stroke-width="0.9"/><circle cx="95" cy="110" r="19.5" fill="none" stroke="rgba(255,255,255,0.05)" stroke-width="0.9"/><circle cx="95" cy="110" r="21" fill="none" stroke="rgba(0,0,0,0.07)" stroke-width="0.9"/><circle cx="95" cy="110" r="22.5" fill="none" stroke="rgba(255,255,255,0.05)" stroke-width="0.9"/><circle cx="95" cy="110" r="24" fill="none" stroke="rgba(0,0,0,0.07)" stroke-width="0.9"/><circle cx="95" cy="110" r="25.5" fill="none" stroke="rgba(255,255,255,0.05)" stroke-width="0.9"/><circle cx="95" cy="110" r="27" fill="none" stroke="rgba(0,0,0,0.07)" stroke-width="0.9"/><circle cx="95" cy="110" r="28.5" fill="none" stroke="rgba(255,255,255,0.05)" stroke-width="0.9"/><circle cx="95" cy="110" r="30" fill="none" stroke="rgba(0,0,0,0.07)" stroke-width="0.9"/><circle cx="95" cy="110" r="31.5" fill="none" stroke="rgba(255,255,255,0.05)" stroke-width="0.9"/><circle cx="95" cy="110" r="33" fill="none" stroke="rgba(0,0,0,0.07)" stroke-width="0.9"/><circle cx="95" cy="110" r="34.5" fill="none" stroke="rgba(255,255,255,0.05)" stroke-width="0.9"/><circle cx="95" cy="110" r="36" fill="none" stroke="rgba(0,0,0,0.07)" stroke-width="0.9"/><circle cx="95" cy="110" r="37.5" fill="none" stroke="rgba(255,255,255,0.05)" stroke-width="0.9"/><circle cx="95" cy="110" r="39" fill="none" stroke="rgba(0,0,0,0.07)" stroke-width="0.9"/><circle cx="95" cy="110" r="40.5" fill="none" stroke="rgba(255,255,255,0.05)" stroke-width="0.9"/><circle cx="95" cy="110" r="42" fill="none" stroke="rgba(0,0,0,0.07)" stroke-width="0.9"/><circle cx="95" cy="110" r="43.5" fill="none" stroke="rgba(255,255,255,0.05)" stroke-width="0.9"/></g></svg><svg style="position:absolute;left:832.5px;top:181px" width="22" height="22" viewBox="0 0 22 22"><rect x="1" y="1" width="19.5" height="19.5" fill="none" stroke="#fff" stroke-width="2"/><path d="M3.9 2v17.5" stroke="#fff" stroke-width="1.9"/><path d="M6.6 2v17.5" stroke="#fff" stroke-width="1.1"/><path d="M16.3 7.4C15.7 6.3 14.8 5.8 13.5 5.8C11.9 5.8 10.9 6.7 10.9 7.9C10.9 10.9 16.6 9.7 16.6 13.3C16.6 14.8 15.4 15.8 13.6 15.8C12.1 15.8 11.1 15.1 10.5 14" fill="none" stroke="#fff" stroke-width="2"/><path d="M13.6 4v13.6" stroke="#fff" stroke-width="1.5"/></svg><div style="position:absolute;left:270px;top:318px;width:154.5px;height:52px;background:#fff;border:1px solid #e6e4e1;box-sizing:border-box;border-radius:4px"></div><svg style="position:absolute;left:282px;top:349.5px" width="8" height="10" viewBox="0 0 8 10"><path d="M4 0v9M0.8 5.8L4 9l3.2-3.2" fill="none" stroke="#3d6b2e" stroke-width="1.1"/></svg><svg style="position:absolute;left:374px;top:348px" width="40" height="12" viewBox="0 0 40 12"><defs><linearGradient id="g0" x1="0" y1="0" x2="0" y2="1"><stop offset="0" stop-color="#55b850" stop-opacity="0.8"/><stop offset="1" stop-color="#55b850" stop-opacity="0.12"/></linearGradient></defs><line x1="0" y1="6.3" x2="40" y2="6.3" stroke="#ccc" stroke-width="0.6" stroke-dasharray="1.5 1.5"/><polygon points="0,11 0,10.1 5,9.4 9,10.7 11.6,8.8 15,8.1 26,7.7 31.3,1.6 34,0.4 39.8,0.9 39.8,11" fill="url(#g0)"/><polyline points="0,10.1 5,9.4 9,10.7 11.6,8.8 15,8.1 26,7.7 31.3,1.6 34,0.4 39.8,0.9" fill="none" stroke="#3f9638" stroke-width="1.2" stroke-linejoin="round"/></svg><div style="position:absolute;left:435.5px;top:318px;width:154.5px;height:52px;background:#fff;border:1px solid #e6e4e1;box-sizing:border-box;border-radius:4px"></div><svg style="position:absolute;left:447.5px;top:349.5px" width="8" height="10" viewBox="0 0 8 10"><path d="M4 10V1M0.8 4.2L4 1l3.2 3.2" fill="none" stroke="#3d6b2e" stroke-width="1.1"/></svg><svg style="position:absolute;left:539.5px;top:348px" width="40" height="12" viewBox="0 0 40 12"><defs><linearGradient id="g1" x1="0" y1="0" x2="0" y2="1"><stop offset="0" stop-color="#55b850" stop-opacity="0.8"/><stop offset="1" stop-color="#55b850" stop-opacity="0.12"/></linearGradient></defs><line x1="0" y1="6.3" x2="40" y2="6.3" stroke="#ccc" stroke-width="0.6" stroke-dasharray="1.5 1.5"/><polygon points="0.5,11 0.5,10.3 25,10.3 27,8.5 28.5,6.8 33,4.3 38.8,0.8 38.8,11" fill="url(#g1)"/><polyline points="0.5,10.3 25,10.3 27,8.5 28.5,6.8 33,4.3 38.8,0.8" fill="none" stroke="#3f9638" stroke-width="1.2" stroke-linejoin="round"/></svg><div style="position:absolute;left:600.5px;top:318px;width:154.5px;height:52px;background:#fff;border:1px solid #e6e4e1;box-sizing:border-box;border-radius:4px"></div><svg style="position:absolute;left:612.5px;top:349.5px" width="8" height="10" viewBox="0 0 8 10"><path d="M4 10V1M0.8 4.2L4 1l3.2 3.2" fill="none" stroke="#b43a1e" stroke-width="1.1"/></svg><svg style="position:absolute;left:704.5px;top:348px" width="40" height="12" viewBox="0 0 40 12"><defs><linearGradient id="g2" x1="0" y1="0" x2="0" y2="1"><stop offset="0" stop-color="#e8264a" stop-opacity="0.8"/><stop offset="1" stop-color="#e8264a" stop-opacity="0.12"/></linearGradient></defs><line x1="0" y1="6.3" x2="40" y2="6.3" stroke="#ccc" stroke-width="0.6" stroke-dasharray="1.5 1.5"/><polygon points="0.3,11 0.3,8.3 3.9,10.4 7.4,8.6 11,10.5 14.5,8.3 24,7.5 27,6.2 31.8,2.7 36.5,1.8 40,0.6 40,11" fill="url(#g2)"/><polyline points="0.3,8.3 3.9,10.4 7.4,8.6 11,10.5 14.5,8.3 24,7.5 27,6.2 31.8,2.7 36.5,1.8 40,0.6" fill="none" stroke="#c41c36" stroke-width="1.2" stroke-linejoin="round"/></svg><div style="position:absolute;left:765.5px;top:318px;width:154.5px;height:52px;background:#fff;border:1px solid #e6e4e1;box-sizing:border-box;border-radius:4px"></div><svg style="position:absolute;left:777.5px;top:349.5px" width="8" height="10" viewBox="0 0 8 10"><path d="M4 10V1M0.8 4.2L4 1l3.2 3.2" fill="none" stroke="#3d6b2e" stroke-width="1.1"/></svg><svg style="position:absolute;left:869.5px;top:348px" width="40" height="12" viewBox="0 0 40 12"><defs><linearGradient id="g3" x1="0" y1="0" x2="0" y2="1"><stop offset="0" stop-color="#55b850" stop-opacity="0.8"/><stop offset="1" stop-color="#55b850" stop-opacity="0.12"/></linearGradient></defs><line x1="0" y1="6.3" x2="40" y2="6.3" stroke="#ccc" stroke-width="0.6" stroke-dasharray="1.5 1.5"/><polygon points="0.7,11 0.7,10.3 13.4,7.3 28,6.5 32.7,2.9 35.2,2.2 40.3,1.2 40.3,11" fill="url(#g3)"/><polyline points="0.7,10.3 13.4,7.3 28,6.5 32.7,2.9 35.2,2.2 40.3,1.2" fill="none" stroke="#3f9638" stroke-width="1.2" stroke-linejoin="round"/></svg><svg style="position:absolute;left:275px;top:386px" width="9" height="6"><path d="M0.5 0.5h8L4.5 5z" fill="#161513"/></svg><div style="position:absolute;left:269px;top:397px;width:651px;height:1px;background:#e6e4e0"></div><div style="position:absolute;left:269px;top:415px;width:651px;height:1px;background:#e6e4e0"></div><div style="position:absolute;left:269px;top:433px;width:651px;height:1px;background:#e6e4e0"></div><div style="position:absolute;left:269px;top:451px;width:651px;height:1px;background:#e6e4e0"></div><div style="position:absolute;left:269px;top:469px;width:651px;height:1px;background:#e6e4e0"></div><div style="position:absolute;left:269px;top:487px;width:651px;height:1px;background:#e6e4e0"></div><svg style="position:absolute;left:853.5px;top:401.6px" width="8" height="10" viewBox="0 0 8 10"><path d="M4 10V1M0.8 4.2L4 1l3.2 3.2" fill="none" stroke="#3d6b2e" stroke-width="1.0"/></svg><svg style="position:absolute;left:853.5px;top:419.6px" width="8" height="10" viewBox="0 0 8 10"><path d="M4 0v9M0.8 5.8L4 9l3.2-3.2" fill="none" stroke="#3d6b2e" stroke-width="1.0"/></svg><svg style="position:absolute;left:853.5px;top:437.6px" width="8" height="10" viewBox="0 0 8 10"><path d="M4 10V1M0.8 4.2L4 1l3.2 3.2" fill="none" stroke="#3d6b2e" stroke-width="1.0"/></svg><svg style="position:absolute;left:853.5px;top:455.6px" width="8" height="10" viewBox="0 0 8 10"><path d="M4 10V1M0.8 4.2L4 1l3.2 3.2" fill="none" stroke="#b43a1e" stroke-width="1.0"/></svg><svg style="position:absolute;left:853.5px;top:473.6px" width="8" height="10" viewBox="0 0 8 10"><path d="M4 10V1M0.8 4.2L4 1l3.2 3.2" fill="none" stroke="#3d6b2e" stroke-width="1.0"/></svg><div style="position:absolute;left:270px;top:560px;width:154.5px;height:65px;background:#fff;border:1px solid #e6e4e1;box-sizing:border-box;border-radius:4px"></div><div style="position:absolute;left:435.5px;top:560px;width:154.5px;height:65px;background:#fff;border:1px solid #e6e4e1;box-sizing:border-box;border-radius:4px"></div><div style="position:absolute;left:600.5px;top:560px;width:154.5px;height:65px;background:#fff;border:1px solid #e6e4e1;box-sizing:border-box;border-radius:4px"></div><div style="position:absolute;left:765.5px;top:560px;width:154.5px;height:65px;background:#fff;border:1px solid #e6e4e1;box-sizing:border-box;border-radius:4px"></div><div style="position:absolute;left:269px;top:675px;width:650px;height:1px;background:#dddbd7"></div><div style="position:absolute;left:269px;top:693px;width:650px;height:17.5px;background:#efeeec"></div><div style="position:absolute;left:269px;top:728px;width:650px;height:20px;background:#efeeec"></div><div style="position:absolute;left:269px;top:692.5px;width:650px;height:1px;background:#e2e0dc"></div><div style="position:absolute;left:269px;top:710.5px;width:650px;height:1px;background:#e2e0dc"></div><div style="position:absolute;left:269px;top:727.5px;width:650px;height:1px;background:#e2e0dc"></div><div style="position:absolute;left:918px;top:635px;width:2.5px;height:110px;background:#a3a2a0"></div><div style="position:absolute;left:960px;top:164px;width:190px;height:16px;background:#fff;border:1px solid #aaa7a3;box-sizing:border-box;border-radius:2px"></div><svg style="position:absolute;left:1138.5px;top:170px" width="7" height="5"><path d="M0.2 0.2h6.6L3.5 3.8z" fill="#161513"/></svg><svg style="position:absolute;left:0;top:0" width="1180" height="745"><path d="M1095.35 225.19A68.8 68.8 0 0 1 1124.20 281.20" fill="none" stroke="#f9f8f7" stroke-width="8.4"/><path d="M986.60 281.20A68.8 68.8 0 0 1 1095.35 225.19" fill="none" stroke="#3f7e20" stroke-width="8.4"/><line x1="1085.80" y1="228.55" x2="1093.80" y2="214.69" stroke="#2d5a18" stroke-width="1"/></svg><div style="position:absolute;left:960px;top:387px;width:113px;height:17px;background:#fff;border:1px solid #aaa7a3;box-sizing:border-box;border-radius:2px"></div><div style="position:absolute;left:960px;top:420px;width:174px;height:16px;background:#fff;border:1px solid #aaa7a3;box-sizing:border-box;border-radius:2px"></div><svg style="position:absolute;left:1121.5px;top:426px" width="8" height="5"><path d="M0.2 0.2h7.6L4 4.4z" fill="#161513"/></svg><div style="position:absolute;left:1012px;top:467.95000000000005px;width:132px;height:1px;background:#d4d4d4"></div><div style="position:absolute;left:1012px;top:502.48px;width:132px;height:1px;background:#d4d4d4"></div><div style="position:absolute;left:1012px;top:537.01px;width:132px;height:1px;background:#d4d4d4"></div><div style="position:absolute;left:1012px;top:571.54px;width:132px;height:1px;background:#d4d4d4"></div><div style="position:absolute;left:1012px;top:606.07px;width:132px;height:1px;background:#d4d4d4"></div><div style="position:absolute;left:1012px;top:640.6px;width:132px;height:1px;background:#6b6b6b"></div><div style="position:absolute;left:1012px;top:675.13px;width:132px;height:1px;background:#d4d4d4"></div><div style="position:absolute;left:1041.8px;top:595.8px;width:12.700000000000045px;height:45.30000000000007px;background:#245a66;border-radius:2px 2px 0 0"></div><div style="position:absolute;left:1057px;top:628.1px;width:12.799999999999955px;height:13.0px;background:#e07a1a;border-radius:2px 2px 0 0"></div><div style="position:absolute;left:1072.7px;top:604.2px;width:12.700000000000045px;height:36.89999999999998px;background:#5bbcb8;border-radius:2px 2px 0 0"></div><div style="position:absolute;left:1104.4px;top:509px;width:12.399999999999864px;height:132.10000000000002px;background:#9ccb8a;border-radius:2px 2px 0 0"></div><div style="position:absolute;left:1088.8px;top:641px;width:13px;height:2.2px;background:#222;border-radius:0 0 2px 2px"></div><div style="position:absolute;left:998.5px;top:688.1px;width:7px;height:7px;border-radius:50%;background:#234a66"></div><div style="position:absolute;left:1041.7px;top:688.1px;width:7px;height:7px;border-radius:50%;background:#e07a1a"></div><div style="position:absolute;left:1085.3px;top:688.1px;width:7px;height:7px;border-radius:50%;background:#5bbcb8"></div><div style="position:absolute;left:998.5px;top:699.1px;width:7px;height:7px;border-radius:50%;background:#333"></div><div style="position:absolute;left:1041.7px;top:699.1px;width:7px;height:7px;border-radius:50%;background:#9ccb8a"></div><svg style="position:absolute;left:1145px;top:466px" width="16" height="18" viewBox="0 0 16 18"><path d="M8 17L4 12A6.5 6.5 0 1 1 12 12z" fill="#2c6580"/><text x="8" y="11.5" text-anchor="middle" font-family="Liberation Sans" font-weight="700" font-size="9.5" fill="#fff">?</text></svg><div style="position:absolute;left:1142.5px;top:486.5px;width:22px;height:45px;border-radius:11px;background:#2c5d76;box-shadow:0 1px 3px rgba(0,0,0,0.35)"></div><svg style="position:absolute;left:1145px;top:489px" width="17" height="40" viewBox="0 0 17 40"><circle cx="8.5" cy="8.7" r="6.8" fill="none" stroke="#fff" stroke-width="1.1"/><text x="8.5" y="12.3" text-anchor="middle" font-family="Liberation Serif" font-style="italic" font-weight="700" font-size="10" fill="#fff">i</text><circle cx="4.3" cy="23.6" r="1.45" fill="#85a6b8"/><circle cx="4.3" cy="28.1" r="1.45" fill="#85a6b8"/><circle cx="4.3" cy="32.6" r="1.45" fill="#85a6b8"/><circle cx="8.7" cy="23.6" r="1.45" fill="#85a6b8"/><circle cx="8.7" cy="28.1" r="1.45" fill="#85a6b8"/><circle cx="8.7" cy="32.6" r="1.45" fill="#85a6b8"/><circle cx="13.100000000000001" cy="23.6" r="1.45" fill="#85a6b8"/><circle cx="13.100000000000001" cy="28.1" r="1.45" fill="#85a6b8"/><circle cx="13.100000000000001" cy="32.6" r="1.45" fill="#85a6b8"/></svg>
<div style="position:absolute;left:0;top:0;width:1180px;height:745px;will-change:transform"><div style="position:absolute;left:14.70px;top:20.15px;font-family:'Liberation Sans';font-size:13px;line-height:13px;font-weight:400;color:#312d2a;white-space:pre;letter-spacing:-0.039px;">NetSuite</div><div style="position:absolute;left:178.30px;top:18.51px;font-family:'Liberation Sans';font-size:10px;line-height:10px;font-weight:400;color:#6f6c69;white-space:pre;letter-spacing:-0.220px;transform:scaleX(0.8762);transform-origin:0 0;">Search</div><div style="position:absolute;left:880.30px;top:18.71px;font-family:'Liberation Sans';font-size:10px;line-height:10px;font-weight:700;color:#161513;white-space:pre;letter-spacing:-0.220px;transform:scaleX(0.8995);transform-origin:0 0;">Help</div><div style="position:absolute;left:932.30px;top:18.71px;font-family:'Liberation Sans';font-size:10px;line-height:10px;font-weight:700;color:#161513;white-space:pre;letter-spacing:-0.220px;transform:scaleX(0.8744);transform-origin:0 0;">Feedback</div><div style="position:absolute;left:1004.70px;top:13.81px;font-family:'Liberation Sans';font-size:10px;line-height:10px;font-weight:700;color:#161513;white-space:pre;letter-spacing:-0.220px;transform:scaleX(0.8663);transform-origin:0 0;">Vince Ford</div><div style="position:absolute;left:1004.70px;top:26.69px;font-family:'Liberation Sans';font-size:8.2px;line-height:8.2px;font-weight:400;color:#3b3835;white-space:pre;letter-spacing:-0.180px;transform:scaleX(0.9563);transform-origin:0 0;">NetSuite - SS FF PRM - Accounting Manager</div><div style="position:absolute;left:104.10px;top:48.92px;font-family:'Liberation Sans';font-size:10px;line-height:10px;font-weight:700;color:#fff;white-space:pre;letter-spacing:-0.220px;transform:scaleX(0.8920);transform-origin:0 0;">Activities</div><div style="position:absolute;left:156.70px;top:48.92px;font-family:'Liberation Sans';font-size:10px;line-height:10px;font-weight:700;color:#fff;white-space:pre;letter-spacing:-0.220px;transform:scaleX(0.8754);transform-origin:0 0;">Billing</div><div style="position:absolute;left:197.00px;top:48.92px;font-family:'Liberation Sans';font-size:10px;line-height:10px;font-weight:700;color:#fff;white-space:pre;letter-spacing:-0.220px;transform:scaleX(0.8715);transform-origin:0 0;">Customers</div><div style="position:absolute;left:255.30px;top:48.92px;font-family:'Liberation Sans';font-size:10px;line-height:10px;font-weight:700;color:#fff;white-space:pre;letter-spacing:-0.220px;transform:scaleX(0.8860);transform-origin:0 0;">Vendors</div><div style="position:absolute;left:303.40px;top:48.92px;font-family:'Liberation Sans';font-size:10px;line-height:10px;font-weight:700;color:#fff;white-space:pre;letter-spacing:-0.220px;transform:scaleX(0.8729);transform-origin:0 0;">Payroll and HR</div><div style="position:absolute;left:377.00px;top:48.92px;font-family:'Liberation Sans';font-size:10px;line-height:10px;font-weight:700;color:#fff;white-space:pre;letter-spacing:-0.220px;transform:scaleX(0.8942);transform-origin:0 0;">Financial</div><div style="position:absolute;left:428.50px;top:48.92px;font-family:'Liberation Sans';font-size:10px;line-height:10px;font-weight:700;color:#fff;white-space:pre;letter-spacing:-0.220px;transform:scaleX(0.8800);transform-origin:0 0;">Reports</div><div style="position:absolute;left:475.00px;top:48.92px;font-family:'Liberation Sans';font-size:10px;line-height:10px;font-weight:700;color:#fff;white-space:pre;letter-spacing:-0.220px;transform:scaleX(0.8780);transform-origin:0 0;">Analytics</div><div style="position:absolute;left:527.20px;top:48.92px;font-family:'Liberation Sans';font-size:10px;line-height:10px;font-weight:700;color:#fff;white-space:pre;letter-spacing:-0.220px;transform:scaleX(0.8863);transform-origin:0 0;">Documents</div><div style="position:absolute;left:588.20px;top:48.92px;font-family:'Liberation Sans';font-size:10px;line-height:10px;font-weight:700;color:#fff;white-space:pre;letter-spacing:-0.220px;transform:scaleX(0.9033);transform-origin:0 0;">Setup</div><div style="position:absolute;left:626.70px;top:48.92px;font-family:'Liberation Sans';font-size:10px;line-height:10px;font-weight:700;color:#fff;white-space:pre;letter-spacing:-0.220px;transform:scaleX(0.8838);transform-origin:0 0;">Payments</div><div style="position:absolute;left:681.40px;top:48.92px;font-family:'Liberation Sans';font-size:10px;line-height:10px;font-weight:700;color:#fff;white-space:pre;letter-spacing:-0.220px;transform:scaleX(0.8675);transform-origin:0 0;">Fixed Assets</div><div style="position:absolute;left:746.70px;top:48.92px;font-family:'Liberation Sans';font-size:10px;line-height:10px;font-weight:700;color:#fff;white-space:pre;letter-spacing:0.164px;">A/P</div><div style="position:absolute;left:777.70px;top:48.92px;font-family:'Liberation Sans';font-size:10px;line-height:10px;font-weight:700;color:#fff;white-space:pre;letter-spacing:-0.017px;">A/R</div><div style="position:absolute;left:809.20px;top:48.92px;font-family:'Liberation Sans';font-size:10px;line-height:10px;font-weight:700;color:#fff;white-space:pre;letter-spacing:-0.220px;transform:scaleX(0.8785);transform-origin:0 0;">SuiteApps</div><div style="position:absolute;left:865.10px;top:48.92px;font-family:'Liberation Sans';font-size:10px;line-height:10px;font-weight:700;color:#fff;white-space:pre;letter-spacing:-0.220px;transform:scaleX(0.9133);transform-origin:0 0;">Support</div><div style="position:absolute;left:14.70px;top:82.59px;font-family:'Liberation Sans';font-size:12.5px;line-height:12.5px;font-weight:700;color:#161513;white-space:pre;letter-spacing:-0.275px;transform:scaleX(0.9407);transform-origin:0 0;">Home</div><div style="position:absolute;left:879.70px;top:82.31px;font-family:'Liberation Sans';font-size:10px;line-height:10px;font-weight:400;color:#161513;white-space:pre;letter-spacing:-0.220px;transform:scaleX(0.9379);transform-origin:0 0;">Viewing: Portlet date settings</div><div style="position:absolute;left:1033.30px;top:82.31px;font-family:'Liberation Sans';font-size:10px;line-height:10px;font-weight:400;color:#161513;white-space:pre;letter-spacing:-0.220px;transform:scaleX(0.9048);transform-origin:0 0;">Personalize</div><div style="position:absolute;left:1118.00px;top:82.31px;font-family:'Liberation Sans';font-size:10px;line-height:10px;font-weight:400;color:#161513;white-space:pre;letter-spacing:-0.220px;transform:scaleX(0.9332);transform-origin:0 0;">Layout</div><div style="position:absolute;left:29.70px;top:132.63px;font-family:'Liberation Sans';font-size:11px;line-height:11px;font-weight:700;color:#161513;white-space:pre;letter-spacing:-0.242px;transform:scaleX(0.9286);transform-origin:0 0;">Reminders</div><div style="position:absolute;left:36.80px;top:160.94px;font-family:'Liberation Sans';font-size:12px;line-height:12px;font-weight:700;color:#161513;white-space:pre;">3</div><div style="position:absolute;left:37.30px;top:178.96px;font-family:'Liberation Sans';font-size:9.5px;line-height:9.5px;font-weight:400;color:#2b4a63;white-space:pre;letter-spacing:-0.209px;transform:scaleX(0.9619);transform-origin:0 0;">Expense Reports to Approve</div><div style="position:absolute;left:36.80px;top:195.44px;font-family:'Liberation Sans';font-size:12px;line-height:12px;font-weight:700;color:#161513;white-space:pre;">1</div><div style="position:absolute;left:37.30px;top:213.76px;font-family:'Liberation Sans';font-size:9.5px;line-height:9.5px;font-weight:400;color:#2b4a63;white-space:pre;letter-spacing:-0.209px;transform:scaleX(0.9834);transform-origin:0 0;">Journal to Approve by you</div><div style="position:absolute;left:36.80px;top:230.34px;font-family:'Liberation Sans';font-size:12px;line-height:12px;font-weight:700;color:#161513;white-space:pre;letter-spacing:-0.264px;transform:scaleX(0.9622);transform-origin:0 0;">26</div><div style="position:absolute;left:37.30px;top:248.76px;font-family:'Liberation Sans';font-size:9.5px;line-height:9.5px;font-weight:400;color:#2b4a63;white-space:pre;letter-spacing:-0.209px;transform:scaleX(0.9485);transform-origin:0 0;">Bills to Pay</div><div style="position:absolute;left:37.00px;top:271.06px;font-family:'Liberation Sans';font-size:9.5px;line-height:9.5px;font-weight:400;color:#161513;white-space:pre;">2</div><div style="position:absolute;left:46.70px;top:271.06px;font-family:'Liberation Sans';font-size:9.5px;line-height:9.5px;font-weight:400;color:#2b4a63;white-space:pre;letter-spacing:-0.206px;">Amortization Entries pending</div><div style="position:absolute;left:37.00px;top:289.56px;font-family:'Liberation Sans';font-size:9.5px;line-height:9.5px;font-weight:400;color:#161513;white-space:pre;">8</div><div style="position:absolute;left:47.50px;top:289.56px;font-family:'Liberation Sans';font-size:9.5px;line-height:9.5px;font-weight:400;color:#2b4a63;white-space:pre;letter-spacing:-0.209px;transform:scaleX(0.9432);transform-origin:0 0;">Sales Orders to Invoice</div><div style="position:absolute;left:37.00px;top:308.56px;font-family:'Liberation Sans';font-size:9.5px;line-height:9.5px;font-weight:400;color:#161513;white-space:pre;">2</div><div style="position:absolute;left:46.70px;top:308.56px;font-family:'Liberation Sans';font-size:9.5px;line-height:9.5px;font-weight:400;color:#2b4a63;white-space:pre;letter-spacing:-0.209px;transform:scaleX(0.9573);transform-origin:0 0;">New Vendors</div><div style="position:absolute;left:29.70px;top:365.83px;font-family:'Liberation Sans';font-size:11px;line-height:11px;font-weight:700;color:#161513;white-space:pre;letter-spacing:-0.242px;transform:scaleX(0.9447);transform-origin:0 0;">Navigation Shortcut Group</div><div style="position:absolute;left:49.40px;top:394.92px;font-family:'Liberation Sans';font-size:10px;line-height:10px;font-weight:700;color:#284a68;white-space:pre;letter-spacing:-0.220px;transform:scaleX(0.8823);transform-origin:0 0;">Accounts Payable</div><div style="position:absolute;left:51.30px;top:429.51px;font-family:'Liberation Sans';font-size:10px;line-height:10px;font-weight:700;color:#284a68;white-space:pre;letter-spacing:-0.220px;transform:scaleX(0.8503);transform-origin:0 0;">Lists</div><div style="position:absolute;left:51.30px;top:449.76px;font-family:'Liberation Sans';font-size:9.5px;line-height:9.5px;font-weight:400;color:#2b4a63;white-space:pre;letter-spacing:-0.209px;transform:scaleX(0.9867);transform-origin:0 0;">Items</div><div style="position:absolute;left:51.30px;top:465.86px;font-family:'Liberation Sans';font-size:9.5px;line-height:9.5px;font-weight:400;color:#2b4a63;white-space:pre;letter-spacing:-0.209px;transform:scaleX(0.9420);transform-origin:0 0;">Tasks</div><div style="position:absolute;left:51.30px;top:481.96px;font-family:'Liberation Sans';font-size:9.5px;line-height:9.5px;font-weight:400;color:#2b4a63;white-space:pre;letter-spacing:-0.209px;transform:scaleX(0.9756);transform-origin:0 0;">Vendors</div><div style="position:absolute;left:51.30px;top:498.06px;font-family:'Liberation Sans';font-size:9.5px;line-height:9.5px;font-weight:400;color:#2b4a63;white-space:pre;letter-spacing:-0.209px;transform:scaleX(0.9768);transform-origin:0 0;">Contacts</div><div style="position:absolute;left:51.30px;top:523.12px;font-family:'Liberation Sans';font-size:10px;line-height:10px;font-weight:700;color:#284a68;white-space:pre;letter-spacing:-0.220px;transform:scaleX(0.8805);transform-origin:0 0;">Transactions</div><div style="position:absolute;left:51.30px;top:543.36px;font-family:'Liberation Sans';font-size:9.5px;line-height:9.5px;font-weight:400;color:#2b4a63;white-space:pre;letter-spacing:-0.024px;">Bill</div><div style="position:absolute;left:51.30px;top:559.46px;font-family:'Liberation Sans';font-size:9.5px;line-height:9.5px;font-weight:400;color:#2b4a63;white-space:pre;letter-spacing:-0.209px;transform:scaleX(0.9823);transform-origin:0 0;">Vendor Credit</div><div style="position:absolute;left:51.30px;top:575.56px;font-family:'Liberation Sans';font-size:9.5px;line-height:9.5px;font-weight:400;color:#2b4a63;white-space:pre;letter-spacing:-0.206px;">Vendor Return Authorization</div><div style="position:absolute;left:51.30px;top:600.52px;font-family:'Liberation Sans';font-size:10px;line-height:10px;font-weight:700;color:#284a68;white-space:pre;letter-spacing:-0.220px;transform:scaleX(0.8828);transform-origin:0 0;">Reports</div><div style="position:absolute;left:51.30px;top:621.16px;font-family:'Liberation Sans';font-size:9.5px;line-height:9.5px;font-weight:400;color:#2b4a63;white-space:pre;letter-spacing:0.080px;">A/P Aging</div><div style="position:absolute;left:51.30px;top:637.21px;font-family:'Liberation Sans';font-size:9.5px;line-height:9.5px;font-weight:400;color:#2b4a63;white-space:pre;letter-spacing:-0.209px;transform:scaleX(0.9366);transform-origin:0 0;">Open Pos</div><div style="position:absolute;left:51.30px;top:653.26px;font-family:'Liberation Sans';font-size:9.5px;line-height:9.5px;font-weight:400;color:#2b4a63;white-space:pre;letter-spacing:-0.209px;transform:scaleX(0.9751);transform-origin:0 0;">Open Bills</div><div style="position:absolute;left:51.30px;top:669.31px;font-family:'Liberation Sans';font-size:9.5px;line-height:9.5px;font-weight:400;color:#2b4a63;white-space:pre;letter-spacing:-0.209px;transform:scaleX(0.9910);transform-origin:0 0;">A/P Register</div><div style="position:absolute;left:51.30px;top:685.36px;font-family:'Liberation Sans';font-size:9.5px;line-height:9.5px;font-weight:400;color:#2b4a63;white-space:pre;letter-spacing:-0.209px;transform:scaleX(0.9987);transform-origin:0 0;">A/P Payment History</div><div style="position:absolute;left:269.70px;top:132.63px;font-family:'Liberation Sans';font-size:11px;line-height:11px;font-weight:700;color:#161513;white-space:pre;letter-spacing:-0.242px;transform:scaleX(0.9453);transform-origin:0 0;">Tiles</div><div style="position:absolute;left:315.60px;top:207.97px;font-family:'Liberation Sans';font-size:10.5px;line-height:10.5px;font-weight:700;color:#fff;white-space:pre;letter-spacing:-0.231px;transform:scaleX(0.9446);transform-origin:0 0;">Balance Sheet</div><div style="position:absolute;left:491.70px;top:207.87px;font-family:'Liberation Sans';font-size:10.5px;line-height:10.5px;font-weight:700;color:#fff;white-space:pre;letter-spacing:-0.231px;transform:scaleX(0.9226);transform-origin:0 0;">Create JE</div><div style="position:absolute;left:643.40px;top:201.17px;font-family:'Liberation Sans';font-size:10.5px;line-height:10.5px;font-weight:700;color:#fff;white-space:pre;letter-spacing:-0.231px;transform:scaleX(0.9255);transform-origin:0 0;">Reconcile Bank</div><div style="position:absolute;left:653.75px;top:213.97px;font-family:'Liberation Sans';font-size:10.5px;line-height:10.5px;font-weight:700;color:#fff;white-space:pre;letter-spacing:-0.231px;transform:scaleX(0.9996);transform-origin:0 0;">Statement</div><div style="position:absolute;left:800.60px;top:207.87px;font-family:'Liberation Sans';font-size:10.5px;line-height:10.5px;font-weight:700;color:#fff;white-space:pre;letter-spacing:-0.231px;transform:scaleX(0.9794);transform-origin:0 0;">Income Statement</div><div style="position:absolute;left:269.70px;top:292.43px;font-family:'Liberation Sans';font-size:11px;line-height:11px;font-weight:700;color:#161513;white-space:pre;letter-spacing:-0.242px;transform:scaleX(0.9374);transform-origin:0 0;">Key Performance Indicators</div><div style="position:absolute;left:280.20px;top:330.97px;font-family:'Liberation Sans';font-size:10.5px;line-height:10.5px;font-weight:400;color:#161513;white-space:pre;letter-spacing:-0.231px;transform:scaleX(0.9474);transform-origin:0 0;">Payables</div><div style="position:absolute;left:297.20px;top:348.63px;font-family:'Liberation Sans';font-size:11px;line-height:11px;font-weight:700;color:#2a4c6c;white-space:pre;letter-spacing:-0.242px;transform:scaleX(0.9691);transform-origin:0 0;">5.4%</div><div style="position:absolute;left:445.70px;top:330.97px;font-family:'Liberation Sans';font-size:10.5px;line-height:10.5px;font-weight:400;color:#161513;white-space:pre;letter-spacing:-0.231px;transform:scaleX(0.9234);transform-origin:0 0;">Sales</div><div style="position:absolute;left:462.70px;top:348.63px;font-family:'Liberation Sans';font-size:11px;line-height:11px;font-weight:700;color:#2a4c6c;white-space:pre;letter-spacing:-0.242px;transform:scaleX(0.9128);transform-origin:0 0;">13.4%</div><div style="position:absolute;left:610.70px;top:330.97px;font-family:'Liberation Sans';font-size:10.5px;line-height:10.5px;font-weight:400;color:#161513;white-space:pre;letter-spacing:-0.231px;transform:scaleX(0.9571);transform-origin:0 0;">Expenses</div><div style="position:absolute;left:627.70px;top:348.63px;font-family:'Liberation Sans';font-size:11px;line-height:11px;font-weight:700;color:#2a4c6c;white-space:pre;letter-spacing:-0.242px;transform:scaleX(0.9486);transform-origin:0 0;">8.6%</div><div style="position:absolute;left:775.70px;top:330.97px;font-family:'Liberation Sans';font-size:10.5px;line-height:10.5px;font-weight:400;color:#161513;white-space:pre;letter-spacing:-0.231px;transform:scaleX(0.9840);transform-origin:0 0;">Total Bank Balance</div><div style="position:absolute;left:792.70px;top:348.63px;font-family:'Liberation Sans';font-size:11px;line-height:11px;font-weight:700;color:#2a4c6c;white-space:pre;letter-spacing:-0.242px;transform:scaleX(0.8377);transform-origin:0 0;">5.1%</div><div style="position:absolute;left:299.20px;top:384.26px;font-family:'Liberation Sans';font-size:9.5px;line-height:9.5px;font-weight:700;color:#161513;white-space:pre;letter-spacing:-0.209px;transform:scaleX(0.9362);transform-origin:0 0;">Indicator</div><div style="position:absolute;left:445.00px;top:384.26px;font-family:'Liberation Sans';font-size:9.5px;line-height:9.5px;font-weight:700;color:#161513;white-space:pre;letter-spacing:-0.209px;transform:scaleX(0.9328);transform-origin:0 0;">Period</div><div style="position:absolute;left:685.30px;top:384.26px;font-family:'Liberation Sans';font-size:9.5px;line-height:9.5px;font-weight:700;color:#161513;white-space:pre;letter-spacing:-0.209px;transform:scaleX(0.9347);transform-origin:0 0;">Current</div><div style="position:absolute;left:768.30px;top:384.26px;font-family:'Liberation Sans';font-size:9.5px;line-height:9.5px;font-weight:700;color:#161513;white-space:pre;letter-spacing:-0.209px;transform:scaleX(0.9101);transform-origin:0 0;">Previous</div><div style="position:absolute;left:851.30px;top:384.26px;font-family:'Liberation Sans';font-size:9.5px;line-height:9.5px;font-weight:700;color:#161513;white-space:pre;letter-spacing:-0.209px;transform:scaleX(0.9113);transform-origin:0 0;">Change</div><div style="position:absolute;left:299.20px;top:402.16px;font-family:'Liberation Sans';font-size:9.5px;line-height:9.5px;font-weight:700;color:#161513;white-space:pre;letter-spacing:-0.209px;transform:scaleX(0.9466);transform-origin:0 0;">Inventory</div><div style="position:absolute;left:445.00px;top:402.16px;font-family:'Liberation Sans';font-size:9.5px;line-height:9.5px;font-weight:400;color:#2b4a63;white-space:pre;letter-spacing:-0.146px;">End of This Month</div><div style="position:absolute;left:521.50px;top:402.16px;font-family:'Liberation Sans';font-size:9.5px;line-height:9.5px;font-weight:700;color:#161513;white-space:pre;letter-spacing:-0.209px;transform:scaleX(0.9062);transform-origin:0 0;">vs.</div><div style="position:absolute;left:535.00px;top:402.16px;font-family:'Liberation Sans';font-size:9.5px;line-height:9.5px;font-weight:400;color:#2b4a63;white-space:pre;letter-spacing:-0.157px;">End of Last Month</div><div style="position:absolute;left:685.30px;top:402.16px;font-family:'Liberation Sans';font-size:9.5px;line-height:9.5px;font-weight:400;color:#2b4a63;white-space:pre;letter-spacing:-0.209px;transform:scaleX(0.9591);transform-origin:0 0;">$2,555,035</div><div style="position:absolute;left:768.30px;top:402.16px;font-family:'Liberation Sans';font-size:9.5px;line-height:9.5px;font-weight:400;color:#2b4a63;white-space:pre;letter-spacing:-0.209px;transform:scaleX(0.9657);transform-origin:0 0;">$2,397,646</div><div style="position:absolute;left:868.60px;top:402.16px;font-family:'Liberation Sans';font-size:9.5px;line-height:9.5px;font-weight:700;color:#161513;white-space:pre;letter-spacing:-0.209px;transform:scaleX(0.9178);transform-origin:0 0;">6.6%</div><div style="position:absolute;left:299.20px;top:420.16px;font-family:'Liberation Sans';font-size:9.5px;line-height:9.5px;font-weight:700;color:#161513;white-space:pre;letter-spacing:-0.209px;transform:scaleX(0.9059);transform-origin:0 0;">Payables</div><div style="position:absolute;left:445.00px;top:420.16px;font-family:'Liberation Sans';font-size:9.5px;line-height:9.5px;font-weight:400;color:#2b4a63;white-space:pre;letter-spacing:-0.146px;">End of This Month</div><div style="position:absolute;left:521.50px;top:420.16px;font-family:'Liberation Sans';font-size:9.5px;line-height:9.5px;font-weight:700;color:#161513;white-space:pre;letter-spacing:-0.209px;transform:scaleX(0.9062);transform-origin:0 0;">vs.</div><div style="position:absolute;left:535.00px;top:420.16px;font-family:'Liberation Sans';font-size:9.5px;line-height:9.5px;font-weight:400;color:#2b4a63;white-space:pre;letter-spacing:-0.157px;">End of Last Month</div><div style="position:absolute;left:685.30px;top:420.16px;font-family:'Liberation Sans';font-size:9.5px;line-height:9.5px;font-weight:400;color:#2b4a63;white-space:pre;letter-spacing:-0.209px;transform:scaleX(0.9591);transform-origin:0 0;">$1,150,358</div><div style="position:absolute;left:768.30px;top:420.16px;font-family:'Liberation Sans';font-size:9.5px;line-height:9.5px;font-weight:400;color:#2b4a63;white-space:pre;letter-spacing:-0.209px;transform:scaleX(0.9657);transform-origin:0 0;">$1,215,692</div><div style="position:absolute;left:868.60px;top:420.16px;font-family:'Liberation Sans';font-size:9.5px;line-height:9.5px;font-weight:700;color:#161513;white-space:pre;letter-spacing:-0.209px;transform:scaleX(0.9463);transform-origin:0 0;">5.4%</div><div style="position:absolute;left:299.20px;top:438.16px;font-family:'Liberation Sans';font-size:9.5px;line-height:9.5px;font-weight:700;color:#161513;white-space:pre;letter-spacing:-0.209px;transform:scaleX(0.9003);transform-origin:0 0;">Sales</div><div style="position:absolute;left:445.00px;top:438.16px;font-family:'Liberation Sans';font-size:9.5px;line-height:9.5px;font-weight:400;color:#2b4a63;white-space:pre;letter-spacing:-0.133px;">This Month</div><div style="position:absolute;left:492.70px;top:438.16px;font-family:'Liberation Sans';font-size:9.5px;line-height:9.5px;font-weight:700;color:#161513;white-space:pre;letter-spacing:-0.209px;transform:scaleX(0.9062);transform-origin:0 0;">vs.</div><div style="position:absolute;left:506.20px;top:438.16px;font-family:'Liberation Sans';font-size:9.5px;line-height:9.5px;font-weight:400;color:#2b4a63;white-space:pre;letter-spacing:-0.044px;">Last Month</div><div style="position:absolute;left:685.30px;top:438.16px;font-family:'Liberation Sans';font-size:9.5px;line-height:9.5px;font-weight:400;color:#2b4a63;white-space:pre;letter-spacing:-0.209px;transform:scaleX(0.9591);transform-origin:0 0;">$1,700,137</div><div style="position:absolute;left:768.30px;top:438.16px;font-family:'Liberation Sans';font-size:9.5px;line-height:9.5px;font-weight:400;color:#2b4a63;white-space:pre;letter-spacing:-0.209px;transform:scaleX(0.9657);transform-origin:0 0;">$1,498,879</div><div style="position:absolute;left:868.60px;top:438.16px;font-family:'Liberation Sans';font-size:9.5px;line-height:9.5px;font-weight:700;color:#161513;white-space:pre;letter-spacing:-0.209px;transform:scaleX(0.8927);transform-origin:0 0;">13.4%</div><div style="position:absolute;left:299.20px;top:456.16px;font-family:'Liberation Sans';font-size:9.5px;line-height:9.5px;font-weight:700;color:#161513;white-space:pre;letter-spacing:-0.209px;transform:scaleX(0.9065);transform-origin:0 0;">Expenses</div><div style="position:absolute;left:445.00px;top:456.16px;font-family:'Liberation Sans';font-size:9.5px;line-height:9.5px;font-weight:400;color:#2b4a63;white-space:pre;letter-spacing:-0.209px;transform:scaleX(0.9788);transform-origin:0 0;">This Period</div><div style="position:absolute;left:491.90px;top:456.16px;font-family:'Liberation Sans';font-size:9.5px;line-height:9.5px;font-weight:700;color:#161513;white-space:pre;letter-spacing:-0.209px;transform:scaleX(0.9062);transform-origin:0 0;">vs.</div><div style="position:absolute;left:505.40px;top:456.16px;font-family:'Liberation Sans';font-size:9.5px;line-height:9.5px;font-weight:400;color:#2b4a63;white-space:pre;letter-spacing:-0.209px;transform:scaleX(0.9854);transform-origin:0 0;">Last Period</div><div style="position:absolute;left:685.30px;top:456.16px;font-family:'Liberation Sans';font-size:9.5px;line-height:9.5px;font-weight:400;color:#2b4a63;white-space:pre;letter-spacing:-0.209px;transform:scaleX(0.9827);transform-origin:0 0;">$928,230</div><div style="position:absolute;left:768.30px;top:456.16px;font-family:'Liberation Sans';font-size:9.5px;line-height:9.5px;font-weight:400;color:#2b4a63;white-space:pre;letter-spacing:-0.209px;transform:scaleX(0.9827);transform-origin:0 0;">$854,765</div><div style="position:absolute;left:868.60px;top:456.16px;font-family:'Liberation Sans';font-size:9.5px;line-height:9.5px;font-weight:700;color:#161513;white-space:pre;letter-spacing:-0.209px;transform:scaleX(0.9178);transform-origin:0 0;">8.6%</div><div style="position:absolute;left:299.20px;top:474.16px;font-family:'Liberation Sans';font-size:9.5px;line-height:9.5px;font-weight:700;color:#161513;white-space:pre;letter-spacing:-0.209px;transform:scaleX(0.9234);transform-origin:0 0;">Total Bank Balance</div><div style="position:absolute;left:445.00px;top:474.16px;font-family:'Liberation Sans';font-size:9.5px;line-height:9.5px;font-weight:400;color:#2b4a63;white-space:pre;letter-spacing:-0.209px;transform:scaleX(0.9788);transform-origin:0 0;">This Period</div><div style="position:absolute;left:491.90px;top:474.16px;font-family:'Liberation Sans';font-size:9.5px;line-height:9.5px;font-weight:700;color:#161513;white-space:pre;letter-spacing:-0.209px;transform:scaleX(0.9062);transform-origin:0 0;">vs.</div><div style="position:absolute;left:505.40px;top:474.16px;font-family:'Liberation Sans';font-size:9.5px;line-height:9.5px;font-weight:400;color:#2b4a63;white-space:pre;letter-spacing:-0.209px;transform:scaleX(0.9854);transform-origin:0 0;">Last Period</div><div style="position:absolute;left:685.30px;top:474.16px;font-family:'Liberation Sans';font-size:9.5px;line-height:9.5px;font-weight:400;color:#2b4a63;white-space:pre;letter-spacing:-0.209px;transform:scaleX(0.9591);transform-origin:0 0;">$3,150,869</div><div style="position:absolute;left:768.30px;top:474.16px;font-family:'Liberation Sans';font-size:9.5px;line-height:9.5px;font-weight:400;color:#2b4a63;white-space:pre;letter-spacing:-0.209px;transform:scaleX(0.9657);transform-origin:0 0;">$2,998,835</div><div style="position:absolute;left:868.60px;top:474.16px;font-family:'Liberation Sans';font-size:9.5px;line-height:9.5px;font-weight:700;color:#161513;white-space:pre;letter-spacing:-0.209px;transform:scaleX(0.8132);transform-origin:0 0;">5.1%</div><div style="position:absolute;left:269.70px;top:533.83px;font-family:'Liberation Sans';font-size:11px;line-height:11px;font-weight:700;color:#161513;white-space:pre;letter-spacing:-0.242px;transform:scaleX(0.9221);transform-origin:0 0;">Financials</div><div style="position:absolute;left:280.20px;top:572.07px;font-family:'Liberation Sans';font-size:10.5px;line-height:10.5px;font-weight:400;color:#161513;white-space:pre;letter-spacing:-0.231px;transform:scaleX(0.9724);transform-origin:0 0;">Gross Profit %</div><div style="position:absolute;left:280.20px;top:590.57px;font-family:'Liberation Sans';font-size:10.5px;line-height:10.5px;font-weight:700;color:#161513;white-space:pre;letter-spacing:0.215px;">48.40%</div><div style="position:absolute;left:445.70px;top:572.07px;font-family:'Liberation Sans';font-size:10.5px;line-height:10.5px;font-weight:400;color:#161513;white-space:pre;letter-spacing:-0.231px;transform:scaleX(0.9729);transform-origin:0 0;">Net Income as a % of</div><div style="position:absolute;left:445.70px;top:585.87px;font-family:'Liberation Sans';font-size:10.5px;line-height:10.5px;font-weight:400;color:#161513;white-space:pre;letter-spacing:-0.231px;transform:scaleX(0.9644);transform-origin:0 0;">Revenue</div><div style="position:absolute;left:445.70px;top:603.87px;font-family:'Liberation Sans';font-size:10.5px;line-height:10.5px;font-weight:700;color:#161513;white-space:pre;letter-spacing:-0.231px;transform:scaleX(0.9806);transform-origin:0 0;">39.06%</div><div style="position:absolute;left:610.70px;top:572.07px;font-family:'Liberation Sans';font-size:10.5px;line-height:10.5px;font-weight:400;color:#161513;white-space:pre;letter-spacing:-0.231px;transform:scaleX(0.9434);transform-origin:0 0;">EBITDA</div><div style="position:absolute;left:610.70px;top:590.57px;font-family:'Liberation Sans';font-size:10.5px;line-height:10.5px;font-weight:700;color:#161513;white-space:pre;letter-spacing:-0.231px;transform:scaleX(0.9508);transform-origin:0 0;">$1,689,166</div><div style="position:absolute;left:775.70px;top:572.07px;font-family:'Liberation Sans';font-size:10.5px;line-height:10.5px;font-weight:400;color:#161513;white-space:pre;letter-spacing:-0.231px;transform:scaleX(0.9766);transform-origin:0 0;">Bank Balance</div><div style="position:absolute;left:775.70px;top:590.57px;font-family:'Liberation Sans';font-size:10.5px;line-height:10.5px;font-weight:700;color:#161513;white-space:pre;letter-spacing:-0.231px;transform:scaleX(0.9983);transform-origin:0 0;">$3,150,869</div><div style="position:absolute;left:279.30px;top:650.36px;font-family:'Liberation Sans';font-size:9.5px;line-height:9.5px;font-weight:700;color:#161513;white-space:pre;letter-spacing:-0.209px;transform:scaleX(0.9440);transform-origin:0 0;">Indicator</div><div style="position:absolute;left:464.30px;top:644.86px;font-family:'Liberation Sans';font-size:9.5px;line-height:9.5px;font-weight:700;color:#161513;white-space:pre;letter-spacing:-0.209px;transform:scaleX(0.9151);transform-origin:0 0;">This</div><div style="position:absolute;left:464.30px;top:656.86px;font-family:'Liberation Sans';font-size:9.5px;line-height:9.5px;font-weight:700;color:#161513;white-space:pre;letter-spacing:-0.209px;transform:scaleX(0.9117);transform-origin:0 0;">Period</div><div style="position:absolute;left:526.30px;top:644.86px;font-family:'Liberation Sans';font-size:9.5px;line-height:9.5px;font-weight:700;color:#161513;white-space:pre;letter-spacing:-0.209px;transform:scaleX(0.9461);transform-origin:0 0;">Last</div><div style="position:absolute;left:526.30px;top:656.86px;font-family:'Liberation Sans';font-size:9.5px;line-height:9.5px;font-weight:700;color:#161513;white-space:pre;letter-spacing:-0.209px;transform:scaleX(0.9293);transform-origin:0 0;">Period</div><div style="position:absolute;left:590.40px;top:638.86px;font-family:'Liberation Sans';font-size:9.5px;line-height:9.5px;font-weight:700;color:#161513;white-space:pre;letter-spacing:-0.209px;transform:scaleX(0.9018);transform-origin:0 0;">This Fiscal</div><div style="position:absolute;left:590.40px;top:650.66px;font-family:'Liberation Sans';font-size:9.5px;line-height:9.5px;font-weight:700;color:#161513;white-space:pre;letter-spacing:-0.209px;transform:scaleX(0.9488);transform-origin:0 0;">Quarter to</div><div style="position:absolute;left:590.40px;top:662.56px;font-family:'Liberation Sans';font-size:9.5px;line-height:9.5px;font-weight:700;color:#161513;white-space:pre;letter-spacing:-0.209px;transform:scaleX(0.9082);transform-origin:0 0;">Period</div><div style="position:absolute;left:677.30px;top:638.86px;font-family:'Liberation Sans';font-size:9.5px;line-height:9.5px;font-weight:700;color:#161513;white-space:pre;letter-spacing:-0.209px;transform:scaleX(0.9018);transform-origin:0 0;">Last Fiscal</div><div style="position:absolute;left:677.30px;top:650.66px;font-family:'Liberation Sans';font-size:9.5px;line-height:9.5px;font-weight:700;color:#161513;white-space:pre;letter-spacing:-0.209px;transform:scaleX(0.9488);transform-origin:0 0;">Quarter to</div><div style="position:absolute;left:677.30px;top:662.56px;font-family:'Liberation Sans';font-size:9.5px;line-height:9.5px;font-weight:700;color:#161513;white-space:pre;letter-spacing:-0.209px;transform:scaleX(0.9082);transform-origin:0 0;">Period</div><div style="position:absolute;left:765.70px;top:644.86px;font-family:'Liberation Sans';font-size:9.5px;line-height:9.5px;font-weight:700;color:#161513;white-space:pre;letter-spacing:-0.209px;transform:scaleX(0.8990);transform-origin:0 0;">This Fiscal Year</div><div style="position:absolute;left:765.70px;top:656.86px;font-family:'Liberation Sans';font-size:9.5px;line-height:9.5px;font-weight:700;color:#161513;white-space:pre;letter-spacing:-0.209px;transform:scaleX(0.9215);transform-origin:0 0;">to Period</div><div style="position:absolute;left:848.20px;top:644.86px;font-family:'Liberation Sans';font-size:9.5px;line-height:9.5px;font-weight:700;color:#161513;white-space:pre;letter-spacing:-0.209px;transform:scaleX(0.8990);transform-origin:0 0;">Last Fiscal Year</div><div style="position:absolute;left:848.20px;top:656.86px;font-family:'Liberation Sans';font-size:9.5px;line-height:9.5px;font-weight:700;color:#161513;white-space:pre;letter-spacing:-0.209px;transform:scaleX(0.9215);transform-origin:0 0;">to Period</div><div style="position:absolute;left:279.30px;top:680.26px;font-family:'Liberation Sans';font-size:9.5px;line-height:9.5px;font-weight:400;color:#161513;white-space:pre;letter-spacing:-0.209px;transform:scaleX(0.9410);transform-origin:0 0;">Bank Balance</div><div style="position:absolute;left:464.30px;top:680.26px;font-family:'Liberation Sans';font-size:9.5px;line-height:9.5px;font-weight:400;color:#2b4a63;white-space:pre;letter-spacing:-0.209px;transform:scaleX(0.9000);transform-origin:0 0;">$3,150,869</div><div style="position:absolute;left:526.30px;top:680.26px;font-family:'Liberation Sans';font-size:9.5px;line-height:9.5px;font-weight:400;color:#2b4a63;white-space:pre;letter-spacing:-0.209px;transform:scaleX(0.9000);transform-origin:0 0;">$2,998,835</div><div style="position:absolute;left:590.40px;top:680.26px;font-family:'Liberation Sans';font-size:9.5px;line-height:9.5px;font-weight:400;color:#2b4a63;white-space:pre;letter-spacing:-0.209px;transform:scaleX(0.9000);transform-origin:0 0;">$3,150,869</div><div style="position:absolute;left:677.30px;top:680.26px;font-family:'Liberation Sans';font-size:9.5px;line-height:9.5px;font-weight:400;color:#2b4a63;white-space:pre;letter-spacing:-0.209px;transform:scaleX(0.9000);transform-origin:0 0;">$2,268,230</div><div style="position:absolute;left:765.70px;top:680.26px;font-family:'Liberation Sans';font-size:9.5px;line-height:9.5px;font-weight:400;color:#2b4a63;white-space:pre;letter-spacing:-0.209px;transform:scaleX(0.9000);transform-origin:0 0;">$3,150,869</div><div style="position:absolute;left:848.20px;top:680.26px;font-family:'Liberation Sans';font-size:9.5px;line-height:9.5px;font-weight:400;color:#2b4a63;white-space:pre;letter-spacing:-0.209px;transform:scaleX(0.9000);transform-origin:0 0;">$1,468,959</div><div style="position:absolute;left:279.30px;top:697.66px;font-family:'Liberation Sans';font-size:9.5px;line-height:9.5px;font-weight:400;color:#161513;white-space:pre;letter-spacing:-0.209px;transform:scaleX(0.9408);transform-origin:0 0;">Revenue</div><div style="position:absolute;left:464.30px;top:697.66px;font-family:'Liberation Sans';font-size:9.5px;line-height:9.5px;font-weight:400;color:#2b4a63;white-space:pre;letter-spacing:-0.209px;transform:scaleX(0.9000);transform-origin:0 0;">$1,701,086</div><div style="position:absolute;left:526.30px;top:697.66px;font-family:'Liberation Sans';font-size:9.5px;line-height:9.5px;font-weight:400;color:#2b4a63;white-space:pre;letter-spacing:-0.209px;transform:scaleX(0.9000);transform-origin:0 0;">$1,499,603</div><div style="position:absolute;left:590.40px;top:697.66px;font-family:'Liberation Sans';font-size:9.5px;line-height:9.5px;font-weight:400;color:#2b4a63;white-space:pre;letter-spacing:-0.209px;transform:scaleX(0.9000);transform-origin:0 0;">$4,314,852</div><div style="position:absolute;left:677.30px;top:697.66px;font-family:'Liberation Sans';font-size:9.5px;line-height:9.5px;font-weight:400;color:#2b4a63;white-space:pre;letter-spacing:-0.209px;transform:scaleX(0.9000);transform-origin:0 0;">$2,172,410</div><div style="position:absolute;left:765.70px;top:697.66px;font-family:'Liberation Sans';font-size:9.5px;line-height:9.5px;font-weight:400;color:#2b4a63;white-space:pre;letter-spacing:-0.209px;transform:scaleX(0.9000);transform-origin:0 0;">$4,314,852</div><div style="position:absolute;left:848.20px;top:697.66px;font-family:'Liberation Sans';font-size:9.5px;line-height:9.5px;font-weight:400;color:#2b4a63;white-space:pre;letter-spacing:-0.209px;transform:scaleX(0.9000);transform-origin:0 0;">$1,459,144</div><div style="position:absolute;left:279.30px;top:715.06px;font-family:'Liberation Sans';font-size:9.5px;line-height:9.5px;font-weight:400;color:#161513;white-space:pre;letter-spacing:-0.209px;transform:scaleX(0.9539);transform-origin:0 0;">Cost of Goods Sold</div><div style="position:absolute;left:464.30px;top:715.06px;font-family:'Liberation Sans';font-size:9.5px;line-height:9.5px;font-weight:400;color:#2b4a63;white-space:pre;letter-spacing:-0.209px;transform:scaleX(0.8805);transform-origin:0 0;">$801,258</div><div style="position:absolute;left:526.30px;top:715.06px;font-family:'Liberation Sans';font-size:9.5px;line-height:9.5px;font-weight:400;color:#2b4a63;white-space:pre;letter-spacing:-0.209px;transform:scaleX(0.8805);transform-origin:0 0;">$719,814</div><div style="position:absolute;left:590.40px;top:715.06px;font-family:'Liberation Sans';font-size:9.5px;line-height:9.5px;font-weight:400;color:#2b4a63;white-space:pre;letter-spacing:-0.209px;transform:scaleX(0.9000);transform-origin:0 0;">$2,226,501</div><div style="position:absolute;left:677.30px;top:715.06px;font-family:'Liberation Sans';font-size:9.5px;line-height:9.5px;font-weight:400;color:#2b4a63;white-space:pre;letter-spacing:-0.209px;transform:scaleX(0.9000);transform-origin:0 0;">$1,402,714</div><div style="position:absolute;left:765.70px;top:715.06px;font-family:'Liberation Sans';font-size:9.5px;line-height:9.5px;font-weight:400;color:#2b4a63;white-space:pre;letter-spacing:-0.209px;transform:scaleX(0.9000);transform-origin:0 0;">$2,226,501</div><div style="position:absolute;left:848.20px;top:715.06px;font-family:'Liberation Sans';font-size:9.5px;line-height:9.5px;font-weight:400;color:#2b4a63;white-space:pre;letter-spacing:-0.209px;transform:scaleX(0.8805);transform-origin:0 0;">$144,779</div><div style="position:absolute;left:279.30px;top:732.46px;font-family:'Liberation Sans';font-size:9.5px;line-height:9.5px;font-weight:400;color:#161513;white-space:pre;letter-spacing:-0.209px;transform:scaleX(0.9633);transform-origin:0 0;">Gross Profit</div><div style="position:absolute;left:464.30px;top:732.46px;font-family:'Liberation Sans';font-size:9.5px;line-height:9.5px;font-weight:400;color:#2b4a63;white-space:pre;letter-spacing:-0.209px;transform:scaleX(0.8805);transform-origin:0 0;">$899,828</div><div style="position:absolute;left:526.30px;top:732.46px;font-family:'Liberation Sans';font-size:9.5px;line-height:9.5px;font-weight:400;color:#2b4a63;white-space:pre;letter-spacing:-0.209px;transform:scaleX(0.8805);transform-origin:0 0;">$779,789</div><div style="position:absolute;left:590.40px;top:732.46px;font-family:'Liberation Sans';font-size:9.5px;line-height:9.5px;font-weight:400;color:#2b4a63;white-space:pre;letter-spacing:-0.209px;transform:scaleX(0.9000);transform-origin:0 0;">$2,088,351</div><div style="position:absolute;left:677.30px;top:732.46px;font-family:'Liberation Sans';font-size:9.5px;line-height:9.5px;font-weight:400;color:#2b4a63;white-space:pre;letter-spacing:-0.209px;transform:scaleX(0.8805);transform-origin:0 0;">$769,696</div><div style="position:absolute;left:765.70px;top:732.46px;font-family:'Liberation Sans';font-size:9.5px;line-height:9.5px;font-weight:400;color:#2b4a63;white-space:pre;letter-spacing:-0.209px;transform:scaleX(0.9000);transform-origin:0 0;">$2,088,351</div><div style="position:absolute;left:848.20px;top:732.46px;font-family:'Liberation Sans';font-size:9.5px;line-height:9.5px;font-weight:400;color:#2b4a63;white-space:pre;letter-spacing:-0.209px;transform:scaleX(0.9000);transform-origin:0 0;">$1,314,365</div><div style="position:absolute;left:960.00px;top:132.83px;font-family:'Liberation Sans';font-size:11px;line-height:11px;font-weight:700;color:#161513;white-space:pre;letter-spacing:-0.242px;transform:scaleX(0.9608);transform-origin:0 0;">KPI Meter</div><div style="position:absolute;left:965.70px;top:166.96px;font-family:'Liberation Sans';font-size:9.5px;line-height:9.5px;font-weight:400;color:#161513;white-space:pre;letter-spacing:-0.209px;transform:scaleX(0.9500);transform-origin:0 0;">Total Bank Balance</div><div style="position:absolute;left:1022.85px;top:244.48px;font-family:'Liberation Sans';font-size:24px;line-height:24px;font-weight:700;color:#161513;white-space:pre;letter-spacing:-0.528px;transform:scaleX(0.9986);transform-origin:0 0;">$3.2M</div><div style="position:absolute;left:1018.55px;top:272.86px;font-family:'Liberation Sans';font-size:9.5px;line-height:9.5px;font-weight:400;color:#3b3835;white-space:pre;letter-spacing:-0.209px;transform:scaleX(0.9397);transform-origin:0 0;">Total Bank Balance</div><div style="position:absolute;left:1088.05px;top:202.29px;font-family:'Liberation Sans';font-size:8px;line-height:8px;font-weight:400;color:#555;white-space:pre;letter-spacing:-0.176px;transform:scaleX(0.9786);transform-origin:0 0;">3.0M</div><div style="position:absolute;left:983.47px;top:282.99px;font-family:'Liberation Sans';font-size:8px;line-height:8px;font-weight:400;color:#555;white-space:pre;">0</div><div style="position:absolute;left:1114.90px;top:282.99px;font-family:'Liberation Sans';font-size:8px;line-height:8px;font-weight:400;color:#555;white-space:pre;letter-spacing:-0.176px;transform:scaleX(0.9613);transform-origin:0 0;">4.5M</div><div style="position:absolute;left:959.70px;top:350.23px;font-family:'Liberation Sans';font-size:11px;line-height:11px;font-weight:700;color:#161513;white-space:pre;letter-spacing:-0.242px;transform:scaleX(0.9698);transform-origin:0 0;">A/R Aging - Graph</div><div style="position:absolute;left:959.70px;top:379.09px;font-family:'Liberation Sans';font-size:8px;line-height:8px;font-weight:400;color:#4a4744;white-space:pre;letter-spacing:-0.176px;transform:scaleX(0.9952);transform-origin:0 0;">Date</div><div style="position:absolute;left:965.10px;top:391.16px;font-family:'Liberation Sans';font-size:9.5px;line-height:9.5px;font-weight:400;color:#161513;white-space:pre;letter-spacing:-0.162px;">today</div><div style="position:absolute;left:959.70px;top:410.79px;font-family:'Liberation Sans';font-size:8px;line-height:8px;font-weight:400;color:#4a4744;white-space:pre;letter-spacing:-0.084px;">Subsidiary</div><div style="position:absolute;left:965.10px;top:423.56px;font-family:'Liberation Sans';font-size:9.5px;line-height:9.5px;font-weight:400;color:#161513;white-space:pre;letter-spacing:-0.007px;">- All -</div><div style="position:absolute;left:959.70px;top:442.76px;font-family:'Liberation Sans';font-size:9.5px;line-height:9.5px;font-weight:700;color:#161513;white-space:pre;letter-spacing:-0.209px;transform:scaleX(0.9373);transform-origin:0 0;">Total:</div><div style="position:absolute;left:984.20px;top:442.76px;font-family:'Liberation Sans';font-size:9.5px;line-height:9.5px;font-weight:400;color:#161513;white-space:pre;">5</div><div style="position:absolute;left:965.70px;top:464.16px;font-family:'Liberation Sans';font-size:9.8px;line-height:9.8px;font-weight:400;color:#222;white-space:pre;letter-spacing:-0.216px;transform:scaleX(0.9315);transform-origin:0 0;">1,250,000</div><div style="position:absolute;left:965.70px;top:498.69px;font-family:'Liberation Sans';font-size:9.8px;line-height:9.8px;font-weight:400;color:#222;white-space:pre;letter-spacing:-0.216px;transform:scaleX(0.9315);transform-origin:0 0;">1,000,000</div><div style="position:absolute;left:972.70px;top:533.22px;font-family:'Liberation Sans';font-size:9.8px;line-height:9.8px;font-weight:400;color:#222;white-space:pre;letter-spacing:-0.216px;transform:scaleX(0.9376);transform-origin:0 0;">750,000</div><div style="position:absolute;left:972.70px;top:567.75px;font-family:'Liberation Sans';font-size:9.8px;line-height:9.8px;font-weight:400;color:#222;white-space:pre;letter-spacing:-0.216px;transform:scaleX(0.9376);transform-origin:0 0;">500,000</div><div style="position:absolute;left:972.70px;top:602.28px;font-family:'Liberation Sans';font-size:9.8px;line-height:9.8px;font-weight:400;color:#222;white-space:pre;letter-spacing:-0.216px;transform:scaleX(0.9376);transform-origin:0 0;">250,000</div><div style="position:absolute;left:999.25px;top:636.81px;font-family:'Liberation Sans';font-size:9.8px;line-height:9.8px;font-weight:400;color:#222;white-space:pre;">0</div><div style="position:absolute;left:970.10px;top:671.34px;font-family:'Liberation Sans';font-size:9.8px;line-height:9.8px;font-weight:400;color:#222;white-space:pre;letter-spacing:-0.216px;transform:scaleX(0.9307);transform-origin:0 0;">-250,000</div><div style="position:absolute;left:1010.30px;top:688.14px;font-family:'Liberation Sans';font-size:7.5px;line-height:7.5px;font-weight:400;color:#888;white-space:pre;letter-spacing:0.112px;">≤ 0</div><div style="position:absolute;left:1053.50px;top:688.14px;font-family:'Liberation Sans';font-size:7.5px;line-height:7.5px;font-weight:400;color:#888;white-space:pre;letter-spacing:-0.165px;transform:scaleX(0.9779);transform-origin:0 0;">1-30</div><div style="position:absolute;left:1097.10px;top:688.14px;font-family:'Liberation Sans';font-size:7.5px;line-height:7.5px;font-weight:400;color:#888;white-space:pre;letter-spacing:-0.165px;transform:scaleX(0.9715);transform-origin:0 0;">31-60</div><div style="position:absolute;left:1010.30px;top:699.14px;font-family:'Liberation Sans';font-size:7.5px;line-height:7.5px;font-weight:400;color:#888;white-space:pre;letter-spacing:-0.165px;transform:scaleX(0.9823);transform-origin:0 0;">61-90</div><div style="position:absolute;left:1053.50px;top:699.14px;font-family:'Liberation Sans';font-size:7.5px;line-height:7.5px;font-weight:400;color:#888;white-space:pre;letter-spacing:-0.165px;transform:scaleX(0.9352);transform-origin:0 0;">91+</div></div>
</body></html>
